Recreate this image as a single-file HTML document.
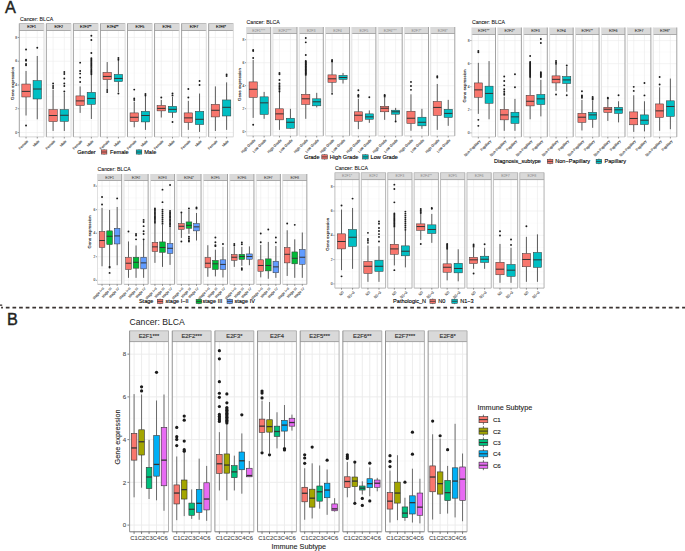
<!DOCTYPE html><html><head><meta charset="utf-8"><style>html,body{margin:0;padding:0;background:#fff;}svg{display:block;} text{font-family:"Liberation Sans", sans-serif;}</style></head><body>
<svg width="685" height="551" viewBox="0 0 685 551">
<rect x="0" y="0" width="685" height="551" fill="#fff"/>
<text x="5" y="13" font-size="16.3" fill="#231f20" text-anchor="start"  stroke="#231f20" stroke-width="0.4">A</text>
<text x="7" y="324.7" font-size="16.3" fill="#231f20" text-anchor="start"  stroke="#231f20" stroke-width="0.4">B</text>
<line x1="17.7" y1="132.5" x2="19.3" y2="132.5" stroke="#333333" stroke-width="0.5"/>
<text x="17.1" y="133.69" font-size="3.3" fill="#555555" text-anchor="end"  stroke="#555555" stroke-width="0.12">0</text>
<line x1="17.7" y1="108.74" x2="19.3" y2="108.74" stroke="#333333" stroke-width="0.5"/>
<text x="17.1" y="109.93" font-size="3.3" fill="#555555" text-anchor="end"  stroke="#555555" stroke-width="0.12">2</text>
<line x1="17.7" y1="84.98" x2="19.3" y2="84.98" stroke="#333333" stroke-width="0.5"/>
<text x="17.1" y="86.17" font-size="3.3" fill="#555555" text-anchor="end"  stroke="#555555" stroke-width="0.12">4</text>
<line x1="17.7" y1="61.22" x2="19.3" y2="61.22" stroke="#333333" stroke-width="0.5"/>
<text x="17.1" y="62.41" font-size="3.3" fill="#555555" text-anchor="end"  stroke="#555555" stroke-width="0.12">6</text>
<line x1="17.7" y1="37.46" x2="19.3" y2="37.46" stroke="#333333" stroke-width="0.5"/>
<text x="17.1" y="38.65" font-size="3.3" fill="#555555" text-anchor="end"  stroke="#555555" stroke-width="0.12">8</text>
<line x1="19.3" y1="120.62" x2="44" y2="120.62" stroke="#f4f4f4" stroke-width="0.35"/>
<line x1="19.3" y1="96.86" x2="44" y2="96.86" stroke="#f4f4f4" stroke-width="0.35"/>
<line x1="19.3" y1="73.1" x2="44" y2="73.1" stroke="#f4f4f4" stroke-width="0.35"/>
<line x1="19.3" y1="49.34" x2="44" y2="49.34" stroke="#f4f4f4" stroke-width="0.35"/>
<line x1="19.3" y1="132.5" x2="44" y2="132.5" stroke="#ebebeb" stroke-width="0.6"/>
<line x1="19.3" y1="108.74" x2="44" y2="108.74" stroke="#ebebeb" stroke-width="0.6"/>
<line x1="19.3" y1="84.98" x2="44" y2="84.98" stroke="#ebebeb" stroke-width="0.6"/>
<line x1="19.3" y1="61.22" x2="44" y2="61.22" stroke="#ebebeb" stroke-width="0.6"/>
<line x1="19.3" y1="37.46" x2="44" y2="37.46" stroke="#ebebeb" stroke-width="0.6"/>
<line x1="26.04" y1="30.5" x2="26.04" y2="136.9" stroke="#ebebeb" stroke-width="0.6"/>
<line x1="37.26" y1="30.5" x2="37.26" y2="136.9" stroke="#ebebeb" stroke-width="0.6"/>
<line x1="26.04" y1="70.96" x2="26.04" y2="84.03" stroke="#333333" stroke-width="0.8"/>
<line x1="26.04" y1="96.98" x2="26.04" y2="115.51" stroke="#333333" stroke-width="0.8"/>
<rect x="21.83" y="84.03" width="8.42" height="12.95" fill="#F8766D" stroke="#333333" stroke-width="0.5"/>
<line x1="21.83" y1="91.4" x2="30.25" y2="91.4" stroke="#333333" stroke-width="1"/>
<circle cx="26.04" cy="49.46" r="0.95" fill="#1a1a1a"/>
<circle cx="26.04" cy="59.68" r="0.95" fill="#1a1a1a"/>
<circle cx="26.04" cy="60.63" r="0.95" fill="#1a1a1a"/>
<circle cx="26.04" cy="64.07" r="0.95" fill="#1a1a1a"/>
<circle cx="26.04" cy="65.26" r="0.95" fill="#1a1a1a"/>
<circle cx="26.04" cy="125.49" r="0.95" fill="#1a1a1a"/>
<line x1="37.26" y1="55.99" x2="37.26" y2="80.58" stroke="#333333" stroke-width="0.8"/>
<line x1="37.26" y1="99" x2="37.26" y2="119.31" stroke="#333333" stroke-width="0.8"/>
<rect x="33.05" y="80.58" width="8.42" height="18.41" fill="#00BFC4" stroke="#333333" stroke-width="0.5"/>
<line x1="33.05" y1="89.02" x2="41.47" y2="89.02" stroke="#333333" stroke-width="1"/>
<circle cx="37.26" cy="47.68" r="0.95" fill="#1a1a1a"/>
<rect x="19.3" y="23.5" width="24.7" height="7" fill="#d9d9d9"/>
<line x1="19.3" y1="136.9" x2="44" y2="136.9" stroke="#d0d0d0" stroke-width="0.9"/>
<line x1="19.3" y1="23.5" x2="44" y2="23.5" stroke="#b0b0b0" stroke-width="0.8"/>
<line x1="19.3" y1="30.5" x2="44" y2="30.5" stroke="#999999" stroke-width="0.8"/>
<line x1="44" y1="23.5" x2="44" y2="136.9" stroke="#d8d8d8" stroke-width="0.9"/>
<line x1="19.3" y1="23.5" x2="19.3" y2="136.9" stroke="#999999" stroke-width="0.9"/>
<text x="31.65" y="28.3" font-size="3.6" fill="#1a1a1a" text-anchor="middle"  stroke="#1a1a1a" stroke-width="0.15">E2F1</text>
<line x1="26.04" y1="136.9" x2="26.04" y2="138.5" stroke="#333333" stroke-width="0.5"/>
<text x="28.44" y="141.5" font-size="3.6" fill="#4a4a4a" text-anchor="end" transform="rotate(-45 28.44 141.5)" stroke="#4a4a4a" stroke-width="0.12">Female</text>
<line x1="37.26" y1="136.9" x2="37.26" y2="138.5" stroke="#333333" stroke-width="0.5"/>
<text x="39.66" y="141.5" font-size="3.6" fill="#4a4a4a" text-anchor="end" transform="rotate(-45 39.66 141.5)" stroke="#4a4a4a" stroke-width="0.12">Male</text>
<line x1="46.35" y1="120.62" x2="71.05" y2="120.62" stroke="#f4f4f4" stroke-width="0.35"/>
<line x1="46.35" y1="96.86" x2="71.05" y2="96.86" stroke="#f4f4f4" stroke-width="0.35"/>
<line x1="46.35" y1="73.1" x2="71.05" y2="73.1" stroke="#f4f4f4" stroke-width="0.35"/>
<line x1="46.35" y1="49.34" x2="71.05" y2="49.34" stroke="#f4f4f4" stroke-width="0.35"/>
<line x1="46.35" y1="132.5" x2="71.05" y2="132.5" stroke="#ebebeb" stroke-width="0.6"/>
<line x1="46.35" y1="108.74" x2="71.05" y2="108.74" stroke="#ebebeb" stroke-width="0.6"/>
<line x1="46.35" y1="84.98" x2="71.05" y2="84.98" stroke="#ebebeb" stroke-width="0.6"/>
<line x1="46.35" y1="61.22" x2="71.05" y2="61.22" stroke="#ebebeb" stroke-width="0.6"/>
<line x1="46.35" y1="37.46" x2="71.05" y2="37.46" stroke="#ebebeb" stroke-width="0.6"/>
<line x1="53.09" y1="30.5" x2="53.09" y2="136.9" stroke="#ebebeb" stroke-width="0.6"/>
<line x1="64.31" y1="30.5" x2="64.31" y2="136.9" stroke="#ebebeb" stroke-width="0.6"/>
<line x1="53.09" y1="89.61" x2="53.09" y2="109.57" stroke="#333333" stroke-width="0.8"/>
<line x1="53.09" y1="121.57" x2="53.09" y2="130.96" stroke="#333333" stroke-width="0.8"/>
<rect x="48.88" y="109.57" width="8.42" height="12" fill="#F8766D" stroke="#333333" stroke-width="0.5"/>
<line x1="48.88" y1="115.51" x2="57.3" y2="115.51" stroke="#333333" stroke-width="1"/>
<circle cx="53.09" cy="83.55" r="0.95" fill="#1a1a1a"/>
<circle cx="53.09" cy="85.93" r="0.95" fill="#1a1a1a"/>
<circle cx="53.09" cy="87.95" r="0.95" fill="#1a1a1a"/>
<line x1="64.31" y1="92.94" x2="64.31" y2="109.57" stroke="#333333" stroke-width="0.8"/>
<line x1="64.31" y1="121.33" x2="64.31" y2="130.96" stroke="#333333" stroke-width="0.8"/>
<rect x="60.1" y="109.57" width="8.42" height="11.76" fill="#00BFC4" stroke="#333333" stroke-width="0.5"/>
<line x1="60.1" y1="115.27" x2="68.52" y2="115.27" stroke="#333333" stroke-width="1"/>
<circle cx="64.31" cy="72.03" r="0.95" fill="#1a1a1a"/>
<circle cx="64.31" cy="74.05" r="0.95" fill="#1a1a1a"/>
<circle cx="64.31" cy="78.45" r="0.95" fill="#1a1a1a"/>
<circle cx="64.31" cy="83.55" r="0.95" fill="#1a1a1a"/>
<circle cx="64.31" cy="85.93" r="0.95" fill="#1a1a1a"/>
<circle cx="64.31" cy="91.51" r="0.95" fill="#1a1a1a"/>
<rect x="46.35" y="23.5" width="24.7" height="7" fill="#d9d9d9"/>
<line x1="46.35" y1="136.9" x2="71.05" y2="136.9" stroke="#d0d0d0" stroke-width="0.9"/>
<line x1="46.35" y1="23.5" x2="71.05" y2="23.5" stroke="#b0b0b0" stroke-width="0.8"/>
<line x1="46.35" y1="30.5" x2="71.05" y2="30.5" stroke="#999999" stroke-width="0.8"/>
<line x1="71.05" y1="23.5" x2="71.05" y2="136.9" stroke="#d8d8d8" stroke-width="0.9"/>
<line x1="46.35" y1="23.5" x2="46.35" y2="136.9" stroke="#999999" stroke-width="0.9"/>
<text x="58.7" y="28.3" font-size="3.6" fill="#1a1a1a" text-anchor="middle"  stroke="#1a1a1a" stroke-width="0.15">E2F2</text>
<line x1="53.09" y1="136.9" x2="53.09" y2="138.5" stroke="#333333" stroke-width="0.5"/>
<text x="55.49" y="141.5" font-size="3.6" fill="#4a4a4a" text-anchor="end" transform="rotate(-45 55.49 141.5)" stroke="#4a4a4a" stroke-width="0.12">Female</text>
<line x1="64.31" y1="136.9" x2="64.31" y2="138.5" stroke="#333333" stroke-width="0.5"/>
<text x="66.71" y="141.5" font-size="3.6" fill="#4a4a4a" text-anchor="end" transform="rotate(-45 66.71 141.5)" stroke="#4a4a4a" stroke-width="0.12">Male</text>
<line x1="73.4" y1="120.62" x2="98.1" y2="120.62" stroke="#f4f4f4" stroke-width="0.35"/>
<line x1="73.4" y1="96.86" x2="98.1" y2="96.86" stroke="#f4f4f4" stroke-width="0.35"/>
<line x1="73.4" y1="73.1" x2="98.1" y2="73.1" stroke="#f4f4f4" stroke-width="0.35"/>
<line x1="73.4" y1="49.34" x2="98.1" y2="49.34" stroke="#f4f4f4" stroke-width="0.35"/>
<line x1="73.4" y1="132.5" x2="98.1" y2="132.5" stroke="#ebebeb" stroke-width="0.6"/>
<line x1="73.4" y1="108.74" x2="98.1" y2="108.74" stroke="#ebebeb" stroke-width="0.6"/>
<line x1="73.4" y1="84.98" x2="98.1" y2="84.98" stroke="#ebebeb" stroke-width="0.6"/>
<line x1="73.4" y1="61.22" x2="98.1" y2="61.22" stroke="#ebebeb" stroke-width="0.6"/>
<line x1="73.4" y1="37.46" x2="98.1" y2="37.46" stroke="#ebebeb" stroke-width="0.6"/>
<line x1="80.14" y1="30.5" x2="80.14" y2="136.9" stroke="#ebebeb" stroke-width="0.6"/>
<line x1="91.36" y1="30.5" x2="91.36" y2="136.9" stroke="#ebebeb" stroke-width="0.6"/>
<line x1="80.14" y1="86.41" x2="80.14" y2="95.91" stroke="#333333" stroke-width="0.8"/>
<line x1="80.14" y1="105.53" x2="80.14" y2="112.9" stroke="#333333" stroke-width="0.8"/>
<rect x="75.93" y="95.91" width="8.42" height="9.62" fill="#F8766D" stroke="#333333" stroke-width="0.5"/>
<line x1="75.93" y1="100.9" x2="84.35" y2="100.9" stroke="#333333" stroke-width="1"/>
<circle cx="80.14" cy="62.65" r="0.95" fill="#1a1a1a"/>
<circle cx="80.14" cy="70.96" r="0.95" fill="#1a1a1a"/>
<circle cx="80.14" cy="73.58" r="0.95" fill="#1a1a1a"/>
<circle cx="80.14" cy="77.61" r="0.95" fill="#1a1a1a"/>
<circle cx="80.14" cy="82.01" r="0.95" fill="#1a1a1a"/>
<line x1="91.36" y1="75" x2="91.36" y2="92.35" stroke="#333333" stroke-width="0.8"/>
<line x1="91.36" y1="104.34" x2="91.36" y2="118.96" stroke="#333333" stroke-width="0.8"/>
<rect x="87.15" y="92.35" width="8.42" height="12" fill="#00BFC4" stroke="#333333" stroke-width="0.5"/>
<line x1="87.15" y1="98.4" x2="95.57" y2="98.4" stroke="#333333" stroke-width="1"/>
<circle cx="91.36" cy="74.29" r="0.95" fill="#1a1a1a"/>
<circle cx="91.36" cy="73.05" r="0.95" fill="#1a1a1a"/>
<circle cx="91.36" cy="71.82" r="0.95" fill="#1a1a1a"/>
<circle cx="91.36" cy="70.59" r="0.95" fill="#1a1a1a"/>
<circle cx="91.36" cy="69.35" r="0.95" fill="#1a1a1a"/>
<circle cx="91.36" cy="68.12" r="0.95" fill="#1a1a1a"/>
<circle cx="91.36" cy="66.89" r="0.95" fill="#1a1a1a"/>
<circle cx="91.36" cy="65.65" r="0.95" fill="#1a1a1a"/>
<circle cx="91.36" cy="64.42" r="0.95" fill="#1a1a1a"/>
<circle cx="91.36" cy="63.18" r="0.95" fill="#1a1a1a"/>
<circle cx="91.36" cy="61.95" r="0.95" fill="#1a1a1a"/>
<circle cx="91.36" cy="60.72" r="0.95" fill="#1a1a1a"/>
<circle cx="91.36" cy="59.48" r="0.95" fill="#1a1a1a"/>
<circle cx="91.36" cy="58.25" r="0.95" fill="#1a1a1a"/>
<circle cx="91.36" cy="53.02" r="0.95" fill="#1a1a1a"/>
<circle cx="91.36" cy="40.07" r="0.95" fill="#1a1a1a"/>
<circle cx="91.36" cy="35.68" r="0.95" fill="#1a1a1a"/>
<rect x="73.4" y="23.5" width="24.7" height="7" fill="#d9d9d9"/>
<line x1="73.4" y1="136.9" x2="98.1" y2="136.9" stroke="#d0d0d0" stroke-width="0.9"/>
<line x1="73.4" y1="23.5" x2="98.1" y2="23.5" stroke="#b0b0b0" stroke-width="0.8"/>
<line x1="73.4" y1="30.5" x2="98.1" y2="30.5" stroke="#999999" stroke-width="0.8"/>
<line x1="98.1" y1="23.5" x2="98.1" y2="136.9" stroke="#d8d8d8" stroke-width="0.9"/>
<line x1="73.4" y1="23.5" x2="73.4" y2="136.9" stroke="#999999" stroke-width="0.9"/>
<text x="85.75" y="28.3" font-size="3.6" fill="#1a1a1a" text-anchor="middle"  stroke="#1a1a1a" stroke-width="0.15">E2F3**</text>
<line x1="80.14" y1="136.9" x2="80.14" y2="138.5" stroke="#333333" stroke-width="0.5"/>
<text x="82.54" y="141.5" font-size="3.6" fill="#4a4a4a" text-anchor="end" transform="rotate(-45 82.54 141.5)" stroke="#4a4a4a" stroke-width="0.12">Female</text>
<line x1="91.36" y1="136.9" x2="91.36" y2="138.5" stroke="#333333" stroke-width="0.5"/>
<text x="93.76" y="141.5" font-size="3.6" fill="#4a4a4a" text-anchor="end" transform="rotate(-45 93.76 141.5)" stroke="#4a4a4a" stroke-width="0.12">Male</text>
<line x1="100.45" y1="120.62" x2="125.15" y2="120.62" stroke="#f4f4f4" stroke-width="0.35"/>
<line x1="100.45" y1="96.86" x2="125.15" y2="96.86" stroke="#f4f4f4" stroke-width="0.35"/>
<line x1="100.45" y1="73.1" x2="125.15" y2="73.1" stroke="#f4f4f4" stroke-width="0.35"/>
<line x1="100.45" y1="49.34" x2="125.15" y2="49.34" stroke="#f4f4f4" stroke-width="0.35"/>
<line x1="100.45" y1="132.5" x2="125.15" y2="132.5" stroke="#ebebeb" stroke-width="0.6"/>
<line x1="100.45" y1="108.74" x2="125.15" y2="108.74" stroke="#ebebeb" stroke-width="0.6"/>
<line x1="100.45" y1="84.98" x2="125.15" y2="84.98" stroke="#ebebeb" stroke-width="0.6"/>
<line x1="100.45" y1="61.22" x2="125.15" y2="61.22" stroke="#ebebeb" stroke-width="0.6"/>
<line x1="100.45" y1="37.46" x2="125.15" y2="37.46" stroke="#ebebeb" stroke-width="0.6"/>
<line x1="107.19" y1="30.5" x2="107.19" y2="136.9" stroke="#ebebeb" stroke-width="0.6"/>
<line x1="118.41" y1="30.5" x2="118.41" y2="136.9" stroke="#ebebeb" stroke-width="0.6"/>
<line x1="107.19" y1="62.05" x2="107.19" y2="72.39" stroke="#333333" stroke-width="0.8"/>
<line x1="107.19" y1="79.63" x2="107.19" y2="89.02" stroke="#333333" stroke-width="0.8"/>
<rect x="102.98" y="72.39" width="8.42" height="7.25" fill="#F8766D" stroke="#333333" stroke-width="0.5"/>
<line x1="102.98" y1="76.43" x2="111.4" y2="76.43" stroke="#333333" stroke-width="1"/>
<circle cx="107.19" cy="89.97" r="0.95" fill="#1a1a1a"/>
<circle cx="107.19" cy="91.99" r="0.95" fill="#1a1a1a"/>
<line x1="118.41" y1="60.03" x2="118.41" y2="74.41" stroke="#333333" stroke-width="0.8"/>
<line x1="118.41" y1="81.53" x2="118.41" y2="91.99" stroke="#333333" stroke-width="0.8"/>
<rect x="114.2" y="74.41" width="8.42" height="7.13" fill="#00BFC4" stroke="#333333" stroke-width="0.5"/>
<line x1="114.2" y1="78.45" x2="122.62" y2="78.45" stroke="#333333" stroke-width="1"/>
<circle cx="118.41" cy="58.01" r="0.95" fill="#1a1a1a"/>
<circle cx="118.41" cy="59.68" r="0.95" fill="#1a1a1a"/>
<circle cx="118.41" cy="93.53" r="0.95" fill="#1a1a1a"/>
<rect x="100.45" y="23.5" width="24.7" height="7" fill="#d9d9d9"/>
<line x1="100.45" y1="136.9" x2="125.15" y2="136.9" stroke="#d0d0d0" stroke-width="0.9"/>
<line x1="100.45" y1="23.5" x2="125.15" y2="23.5" stroke="#b0b0b0" stroke-width="0.8"/>
<line x1="100.45" y1="30.5" x2="125.15" y2="30.5" stroke="#999999" stroke-width="0.8"/>
<line x1="125.15" y1="23.5" x2="125.15" y2="136.9" stroke="#d8d8d8" stroke-width="0.9"/>
<line x1="100.45" y1="23.5" x2="100.45" y2="136.9" stroke="#999999" stroke-width="0.9"/>
<text x="112.8" y="28.3" font-size="3.6" fill="#1a1a1a" text-anchor="middle"  stroke="#1a1a1a" stroke-width="0.15">E2F4**</text>
<line x1="107.19" y1="136.9" x2="107.19" y2="138.5" stroke="#333333" stroke-width="0.5"/>
<text x="109.59" y="141.5" font-size="3.6" fill="#4a4a4a" text-anchor="end" transform="rotate(-45 109.59 141.5)" stroke="#4a4a4a" stroke-width="0.12">Female</text>
<line x1="118.41" y1="136.9" x2="118.41" y2="138.5" stroke="#333333" stroke-width="0.5"/>
<text x="120.81" y="141.5" font-size="3.6" fill="#4a4a4a" text-anchor="end" transform="rotate(-45 120.81 141.5)" stroke="#4a4a4a" stroke-width="0.12">Male</text>
<line x1="127.5" y1="120.62" x2="152.2" y2="120.62" stroke="#f4f4f4" stroke-width="0.35"/>
<line x1="127.5" y1="96.86" x2="152.2" y2="96.86" stroke="#f4f4f4" stroke-width="0.35"/>
<line x1="127.5" y1="73.1" x2="152.2" y2="73.1" stroke="#f4f4f4" stroke-width="0.35"/>
<line x1="127.5" y1="49.34" x2="152.2" y2="49.34" stroke="#f4f4f4" stroke-width="0.35"/>
<line x1="127.5" y1="132.5" x2="152.2" y2="132.5" stroke="#ebebeb" stroke-width="0.6"/>
<line x1="127.5" y1="108.74" x2="152.2" y2="108.74" stroke="#ebebeb" stroke-width="0.6"/>
<line x1="127.5" y1="84.98" x2="152.2" y2="84.98" stroke="#ebebeb" stroke-width="0.6"/>
<line x1="127.5" y1="61.22" x2="152.2" y2="61.22" stroke="#ebebeb" stroke-width="0.6"/>
<line x1="127.5" y1="37.46" x2="152.2" y2="37.46" stroke="#ebebeb" stroke-width="0.6"/>
<line x1="134.24" y1="30.5" x2="134.24" y2="136.9" stroke="#ebebeb" stroke-width="0.6"/>
<line x1="145.46" y1="30.5" x2="145.46" y2="136.9" stroke="#ebebeb" stroke-width="0.6"/>
<line x1="134.24" y1="101.61" x2="134.24" y2="112.9" stroke="#333333" stroke-width="0.8"/>
<line x1="134.24" y1="121.57" x2="134.24" y2="127.27" stroke="#333333" stroke-width="0.8"/>
<rect x="130.03" y="112.9" width="8.42" height="8.67" fill="#F8766D" stroke="#333333" stroke-width="0.5"/>
<line x1="130.03" y1="117.29" x2="138.45" y2="117.29" stroke="#333333" stroke-width="1"/>
<circle cx="134.24" cy="89.61" r="0.95" fill="#1a1a1a"/>
<circle cx="134.24" cy="98.4" r="0.95" fill="#1a1a1a"/>
<circle cx="134.24" cy="99.95" r="0.95" fill="#1a1a1a"/>
<line x1="145.46" y1="94.01" x2="145.46" y2="111.35" stroke="#333333" stroke-width="0.8"/>
<line x1="145.46" y1="121.93" x2="145.46" y2="129.89" stroke="#333333" stroke-width="0.8"/>
<rect x="141.25" y="111.35" width="8.42" height="10.57" fill="#00BFC4" stroke="#333333" stroke-width="0.5"/>
<line x1="141.25" y1="115.51" x2="149.67" y2="115.51" stroke="#333333" stroke-width="1"/>
<circle cx="145.46" cy="94.01" r="0.95" fill="#1a1a1a"/>
<circle cx="145.46" cy="95.55" r="0.95" fill="#1a1a1a"/>
<rect x="127.5" y="23.5" width="24.7" height="7" fill="#d9d9d9"/>
<line x1="127.5" y1="136.9" x2="152.2" y2="136.9" stroke="#d0d0d0" stroke-width="0.9"/>
<line x1="127.5" y1="23.5" x2="152.2" y2="23.5" stroke="#b0b0b0" stroke-width="0.8"/>
<line x1="127.5" y1="30.5" x2="152.2" y2="30.5" stroke="#999999" stroke-width="0.8"/>
<line x1="152.2" y1="23.5" x2="152.2" y2="136.9" stroke="#d8d8d8" stroke-width="0.9"/>
<line x1="127.5" y1="23.5" x2="127.5" y2="136.9" stroke="#999999" stroke-width="0.9"/>
<text x="139.85" y="28.3" font-size="3.6" fill="#1a1a1a" text-anchor="middle"  stroke="#1a1a1a" stroke-width="0.15">E2F5</text>
<line x1="134.24" y1="136.9" x2="134.24" y2="138.5" stroke="#333333" stroke-width="0.5"/>
<text x="136.64" y="141.5" font-size="3.6" fill="#4a4a4a" text-anchor="end" transform="rotate(-45 136.64 141.5)" stroke="#4a4a4a" stroke-width="0.12">Female</text>
<line x1="145.46" y1="136.9" x2="145.46" y2="138.5" stroke="#333333" stroke-width="0.5"/>
<text x="147.86" y="141.5" font-size="3.6" fill="#4a4a4a" text-anchor="end" transform="rotate(-45 147.86 141.5)" stroke="#4a4a4a" stroke-width="0.12">Male</text>
<line x1="154.55" y1="120.62" x2="179.25" y2="120.62" stroke="#f4f4f4" stroke-width="0.35"/>
<line x1="154.55" y1="96.86" x2="179.25" y2="96.86" stroke="#f4f4f4" stroke-width="0.35"/>
<line x1="154.55" y1="73.1" x2="179.25" y2="73.1" stroke="#f4f4f4" stroke-width="0.35"/>
<line x1="154.55" y1="49.34" x2="179.25" y2="49.34" stroke="#f4f4f4" stroke-width="0.35"/>
<line x1="154.55" y1="132.5" x2="179.25" y2="132.5" stroke="#ebebeb" stroke-width="0.6"/>
<line x1="154.55" y1="108.74" x2="179.25" y2="108.74" stroke="#ebebeb" stroke-width="0.6"/>
<line x1="154.55" y1="84.98" x2="179.25" y2="84.98" stroke="#ebebeb" stroke-width="0.6"/>
<line x1="154.55" y1="61.22" x2="179.25" y2="61.22" stroke="#ebebeb" stroke-width="0.6"/>
<line x1="154.55" y1="37.46" x2="179.25" y2="37.46" stroke="#ebebeb" stroke-width="0.6"/>
<line x1="161.29" y1="30.5" x2="161.29" y2="136.9" stroke="#ebebeb" stroke-width="0.6"/>
<line x1="172.51" y1="30.5" x2="172.51" y2="136.9" stroke="#ebebeb" stroke-width="0.6"/>
<line x1="161.29" y1="99.95" x2="161.29" y2="105.53" stroke="#333333" stroke-width="0.8"/>
<line x1="161.29" y1="110.88" x2="161.29" y2="117.53" stroke="#333333" stroke-width="0.8"/>
<rect x="157.08" y="105.53" width="8.42" height="5.35" fill="#F8766D" stroke="#333333" stroke-width="0.5"/>
<line x1="157.08" y1="108.38" x2="165.5" y2="108.38" stroke="#333333" stroke-width="1"/>
<circle cx="161.29" cy="97.57" r="0.95" fill="#1a1a1a"/>
<line x1="172.51" y1="96.98" x2="172.51" y2="106.36" stroke="#333333" stroke-width="0.8"/>
<line x1="172.51" y1="112.3" x2="172.51" y2="117.89" stroke="#333333" stroke-width="0.8"/>
<rect x="168.3" y="106.36" width="8.42" height="5.94" fill="#00BFC4" stroke="#333333" stroke-width="0.5"/>
<line x1="168.3" y1="109.33" x2="176.72" y2="109.33" stroke="#333333" stroke-width="1"/>
<circle cx="172.51" cy="93.53" r="0.95" fill="#1a1a1a"/>
<circle cx="172.51" cy="95.55" r="0.95" fill="#1a1a1a"/>
<circle cx="172.51" cy="121.93" r="0.95" fill="#1a1a1a"/>
<rect x="154.55" y="23.5" width="24.7" height="7" fill="#d9d9d9"/>
<line x1="154.55" y1="136.9" x2="179.25" y2="136.9" stroke="#d0d0d0" stroke-width="0.9"/>
<line x1="154.55" y1="23.5" x2="179.25" y2="23.5" stroke="#b0b0b0" stroke-width="0.8"/>
<line x1="154.55" y1="30.5" x2="179.25" y2="30.5" stroke="#999999" stroke-width="0.8"/>
<line x1="179.25" y1="23.5" x2="179.25" y2="136.9" stroke="#d8d8d8" stroke-width="0.9"/>
<line x1="154.55" y1="23.5" x2="154.55" y2="136.9" stroke="#999999" stroke-width="0.9"/>
<text x="166.9" y="28.3" font-size="3.6" fill="#1a1a1a" text-anchor="middle"  stroke="#1a1a1a" stroke-width="0.15">E2F6</text>
<line x1="161.29" y1="136.9" x2="161.29" y2="138.5" stroke="#333333" stroke-width="0.5"/>
<text x="163.69" y="141.5" font-size="3.6" fill="#4a4a4a" text-anchor="end" transform="rotate(-45 163.69 141.5)" stroke="#4a4a4a" stroke-width="0.12">Female</text>
<line x1="172.51" y1="136.9" x2="172.51" y2="138.5" stroke="#333333" stroke-width="0.5"/>
<text x="174.91" y="141.5" font-size="3.6" fill="#4a4a4a" text-anchor="end" transform="rotate(-45 174.91 141.5)" stroke="#4a4a4a" stroke-width="0.12">Male</text>
<line x1="181.6" y1="120.62" x2="206.3" y2="120.62" stroke="#f4f4f4" stroke-width="0.35"/>
<line x1="181.6" y1="96.86" x2="206.3" y2="96.86" stroke="#f4f4f4" stroke-width="0.35"/>
<line x1="181.6" y1="73.1" x2="206.3" y2="73.1" stroke="#f4f4f4" stroke-width="0.35"/>
<line x1="181.6" y1="49.34" x2="206.3" y2="49.34" stroke="#f4f4f4" stroke-width="0.35"/>
<line x1="181.6" y1="132.5" x2="206.3" y2="132.5" stroke="#ebebeb" stroke-width="0.6"/>
<line x1="181.6" y1="108.74" x2="206.3" y2="108.74" stroke="#ebebeb" stroke-width="0.6"/>
<line x1="181.6" y1="84.98" x2="206.3" y2="84.98" stroke="#ebebeb" stroke-width="0.6"/>
<line x1="181.6" y1="61.22" x2="206.3" y2="61.22" stroke="#ebebeb" stroke-width="0.6"/>
<line x1="181.6" y1="37.46" x2="206.3" y2="37.46" stroke="#ebebeb" stroke-width="0.6"/>
<line x1="188.34" y1="30.5" x2="188.34" y2="136.9" stroke="#ebebeb" stroke-width="0.6"/>
<line x1="199.56" y1="30.5" x2="199.56" y2="136.9" stroke="#ebebeb" stroke-width="0.6"/>
<line x1="188.34" y1="100.9" x2="188.34" y2="112.9" stroke="#333333" stroke-width="0.8"/>
<line x1="188.34" y1="122.52" x2="188.34" y2="129.89" stroke="#333333" stroke-width="0.8"/>
<rect x="184.13" y="112.9" width="8.42" height="9.62" fill="#F8766D" stroke="#333333" stroke-width="0.5"/>
<line x1="184.13" y1="117.89" x2="192.55" y2="117.89" stroke="#333333" stroke-width="1"/>
<circle cx="188.34" cy="89.02" r="0.95" fill="#1a1a1a"/>
<circle cx="188.34" cy="97.57" r="0.95" fill="#1a1a1a"/>
<line x1="199.56" y1="93.53" x2="199.56" y2="111.35" stroke="#333333" stroke-width="0.8"/>
<line x1="199.56" y1="124.54" x2="199.56" y2="131.91" stroke="#333333" stroke-width="0.8"/>
<rect x="195.35" y="111.35" width="8.42" height="13.19" fill="#00BFC4" stroke="#333333" stroke-width="0.5"/>
<line x1="195.35" y1="119.31" x2="203.77" y2="119.31" stroke="#333333" stroke-width="1"/>
<circle cx="199.56" cy="80.94" r="0.95" fill="#1a1a1a"/>
<circle cx="199.56" cy="84.98" r="0.95" fill="#1a1a1a"/>
<rect x="181.6" y="23.5" width="24.7" height="7" fill="#d9d9d9"/>
<line x1="181.6" y1="136.9" x2="206.3" y2="136.9" stroke="#d0d0d0" stroke-width="0.9"/>
<line x1="181.6" y1="23.5" x2="206.3" y2="23.5" stroke="#b0b0b0" stroke-width="0.8"/>
<line x1="181.6" y1="30.5" x2="206.3" y2="30.5" stroke="#999999" stroke-width="0.8"/>
<line x1="206.3" y1="23.5" x2="206.3" y2="136.9" stroke="#d8d8d8" stroke-width="0.9"/>
<line x1="181.6" y1="23.5" x2="181.6" y2="136.9" stroke="#999999" stroke-width="0.9"/>
<text x="193.95" y="28.3" font-size="3.6" fill="#1a1a1a" text-anchor="middle"  stroke="#1a1a1a" stroke-width="0.15">E2F7</text>
<line x1="188.34" y1="136.9" x2="188.34" y2="138.5" stroke="#333333" stroke-width="0.5"/>
<text x="190.74" y="141.5" font-size="3.6" fill="#4a4a4a" text-anchor="end" transform="rotate(-45 190.74 141.5)" stroke="#4a4a4a" stroke-width="0.12">Female</text>
<line x1="199.56" y1="136.9" x2="199.56" y2="138.5" stroke="#333333" stroke-width="0.5"/>
<text x="201.96" y="141.5" font-size="3.6" fill="#4a4a4a" text-anchor="end" transform="rotate(-45 201.96 141.5)" stroke="#4a4a4a" stroke-width="0.12">Male</text>
<line x1="208.65" y1="120.62" x2="233.35" y2="120.62" stroke="#f4f4f4" stroke-width="0.35"/>
<line x1="208.65" y1="96.86" x2="233.35" y2="96.86" stroke="#f4f4f4" stroke-width="0.35"/>
<line x1="208.65" y1="73.1" x2="233.35" y2="73.1" stroke="#f4f4f4" stroke-width="0.35"/>
<line x1="208.65" y1="49.34" x2="233.35" y2="49.34" stroke="#f4f4f4" stroke-width="0.35"/>
<line x1="208.65" y1="132.5" x2="233.35" y2="132.5" stroke="#ebebeb" stroke-width="0.6"/>
<line x1="208.65" y1="108.74" x2="233.35" y2="108.74" stroke="#ebebeb" stroke-width="0.6"/>
<line x1="208.65" y1="84.98" x2="233.35" y2="84.98" stroke="#ebebeb" stroke-width="0.6"/>
<line x1="208.65" y1="61.22" x2="233.35" y2="61.22" stroke="#ebebeb" stroke-width="0.6"/>
<line x1="208.65" y1="37.46" x2="233.35" y2="37.46" stroke="#ebebeb" stroke-width="0.6"/>
<line x1="215.39" y1="30.5" x2="215.39" y2="136.9" stroke="#ebebeb" stroke-width="0.6"/>
<line x1="226.61" y1="30.5" x2="226.61" y2="136.9" stroke="#ebebeb" stroke-width="0.6"/>
<line x1="215.39" y1="86.41" x2="215.39" y2="104.34" stroke="#333333" stroke-width="0.8"/>
<line x1="215.39" y1="116.94" x2="215.39" y2="130.96" stroke="#333333" stroke-width="0.8"/>
<rect x="211.18" y="104.34" width="8.42" height="12.59" fill="#F8766D" stroke="#333333" stroke-width="0.5"/>
<line x1="211.18" y1="110.28" x2="219.6" y2="110.28" stroke="#333333" stroke-width="1"/>
<line x1="226.61" y1="82.37" x2="226.61" y2="99.95" stroke="#333333" stroke-width="0.8"/>
<line x1="226.61" y1="115.99" x2="226.61" y2="129.89" stroke="#333333" stroke-width="0.8"/>
<rect x="222.4" y="99.95" width="8.42" height="16.04" fill="#00BFC4" stroke="#333333" stroke-width="0.5"/>
<line x1="222.4" y1="107.31" x2="230.82" y2="107.31" stroke="#333333" stroke-width="1"/>
<circle cx="226.61" cy="74.41" r="0.95" fill="#1a1a1a"/>
<circle cx="226.61" cy="75.95" r="0.95" fill="#1a1a1a"/>
<rect x="208.65" y="23.5" width="24.7" height="7" fill="#d9d9d9"/>
<line x1="208.65" y1="136.9" x2="233.35" y2="136.9" stroke="#d0d0d0" stroke-width="0.9"/>
<line x1="208.65" y1="23.5" x2="233.35" y2="23.5" stroke="#b0b0b0" stroke-width="0.8"/>
<line x1="208.65" y1="30.5" x2="233.35" y2="30.5" stroke="#999999" stroke-width="0.8"/>
<line x1="233.35" y1="23.5" x2="233.35" y2="136.9" stroke="#d8d8d8" stroke-width="0.9"/>
<line x1="208.65" y1="23.5" x2="208.65" y2="136.9" stroke="#999999" stroke-width="0.9"/>
<text x="221" y="28.3" font-size="3.6" fill="#1a1a1a" text-anchor="middle"  stroke="#1a1a1a" stroke-width="0.15">E2F8*</text>
<line x1="215.39" y1="136.9" x2="215.39" y2="138.5" stroke="#333333" stroke-width="0.5"/>
<text x="217.79" y="141.5" font-size="3.6" fill="#4a4a4a" text-anchor="end" transform="rotate(-45 217.79 141.5)" stroke="#4a4a4a" stroke-width="0.12">Female</text>
<line x1="226.61" y1="136.9" x2="226.61" y2="138.5" stroke="#333333" stroke-width="0.5"/>
<text x="229.01" y="141.5" font-size="3.6" fill="#4a4a4a" text-anchor="end" transform="rotate(-45 229.01 141.5)" stroke="#4a4a4a" stroke-width="0.12">Male</text>
<text x="20" y="21" font-size="5.2" fill="#111" text-anchor="start"  stroke="#111" stroke-width="0.08">Cancer: BLCA</text>
<text x="12.4" y="83.4" font-size="4.37" fill="#222" text-anchor="middle" transform="rotate(-90 12.4 83.4)" dominant-baseline="central" stroke="#222" stroke-width="0.12">Gene expression</text>
<text x="77.2" y="154" font-size="5.55" fill="#000" text-anchor="start"  stroke="#000" stroke-width="0.12">Gender</text>
<line x1="104.1" y1="149.1" x2="104.1" y2="154.9" stroke="#333333" stroke-width="0.5"/>
<rect x="101.3" y="149.9" width="5.6" height="4.2" fill="#F8766D" stroke="#333333" stroke-width="0.5"/>
<line x1="101.3" y1="152" x2="106.9" y2="152" stroke="#333333" stroke-width="0.8"/>
<text x="110" y="154.02" font-size="5.6" fill="#000" text-anchor="start"  stroke="#000" stroke-width="0.12">Female</text>
<line x1="139" y1="149.1" x2="139" y2="154.9" stroke="#333333" stroke-width="0.5"/>
<rect x="136.2" y="149.9" width="5.6" height="4.2" fill="#00BFC4" stroke="#333333" stroke-width="0.5"/>
<line x1="136.2" y1="152" x2="141.8" y2="152" stroke="#333333" stroke-width="0.8"/>
<text x="144.2" y="154.02" font-size="5.6" fill="#000" text-anchor="start"  stroke="#000" stroke-width="0.12">Male</text>
<line x1="245" y1="131.7" x2="246.6" y2="131.7" stroke="#333333" stroke-width="0.5"/>
<text x="244.4" y="132.89" font-size="3.3" fill="#555555" text-anchor="end"  stroke="#555555" stroke-width="0.12">0</text>
<line x1="245" y1="108.7" x2="246.6" y2="108.7" stroke="#333333" stroke-width="0.5"/>
<text x="244.4" y="109.89" font-size="3.3" fill="#555555" text-anchor="end"  stroke="#555555" stroke-width="0.12">2</text>
<line x1="245" y1="85.7" x2="246.6" y2="85.7" stroke="#333333" stroke-width="0.5"/>
<text x="244.4" y="86.89" font-size="3.3" fill="#555555" text-anchor="end"  stroke="#555555" stroke-width="0.12">4</text>
<line x1="245" y1="62.7" x2="246.6" y2="62.7" stroke="#333333" stroke-width="0.5"/>
<text x="244.4" y="63.89" font-size="3.3" fill="#555555" text-anchor="end"  stroke="#555555" stroke-width="0.12">6</text>
<line x1="245" y1="39.7" x2="246.6" y2="39.7" stroke="#333333" stroke-width="0.5"/>
<text x="244.4" y="40.89" font-size="3.3" fill="#555555" text-anchor="end"  stroke="#555555" stroke-width="0.12">8</text>
<line x1="246.6" y1="120.2" x2="270.7" y2="120.2" stroke="#f4f4f4" stroke-width="0.35"/>
<line x1="246.6" y1="97.2" x2="270.7" y2="97.2" stroke="#f4f4f4" stroke-width="0.35"/>
<line x1="246.6" y1="74.2" x2="270.7" y2="74.2" stroke="#f4f4f4" stroke-width="0.35"/>
<line x1="246.6" y1="51.2" x2="270.7" y2="51.2" stroke="#f4f4f4" stroke-width="0.35"/>
<line x1="246.6" y1="131.7" x2="270.7" y2="131.7" stroke="#ebebeb" stroke-width="0.6"/>
<line x1="246.6" y1="108.7" x2="270.7" y2="108.7" stroke="#ebebeb" stroke-width="0.6"/>
<line x1="246.6" y1="85.7" x2="270.7" y2="85.7" stroke="#ebebeb" stroke-width="0.6"/>
<line x1="246.6" y1="62.7" x2="270.7" y2="62.7" stroke="#ebebeb" stroke-width="0.6"/>
<line x1="246.6" y1="39.7" x2="270.7" y2="39.7" stroke="#ebebeb" stroke-width="0.6"/>
<line x1="253.17" y1="33.5" x2="253.17" y2="135.9" stroke="#ebebeb" stroke-width="0.6"/>
<line x1="264.13" y1="33.5" x2="264.13" y2="135.9" stroke="#ebebeb" stroke-width="0.6"/>
<line x1="253.17" y1="59.94" x2="253.17" y2="81.9" stroke="#333333" stroke-width="0.8"/>
<line x1="253.17" y1="97.43" x2="253.17" y2="117.9" stroke="#333333" stroke-width="0.8"/>
<rect x="249.06" y="81.9" width="8.22" height="15.52" fill="#F8766D" stroke="#333333" stroke-width="0.5"/>
<line x1="249.06" y1="89.26" x2="257.28" y2="89.26" stroke="#333333" stroke-width="1"/>
<circle cx="253.17" cy="49.93" r="0.95" fill="#1a1a1a"/>
<circle cx="253.17" cy="50.97" r="0.95" fill="#1a1a1a"/>
<circle cx="253.17" cy="57.98" r="0.95" fill="#1a1a1a"/>
<circle cx="253.17" cy="124.8" r="0.95" fill="#1a1a1a"/>
<line x1="264.13" y1="91.91" x2="264.13" y2="96.85" stroke="#333333" stroke-width="0.8"/>
<line x1="264.13" y1="114.45" x2="264.13" y2="118.82" stroke="#333333" stroke-width="0.8"/>
<rect x="260.02" y="96.85" width="8.22" height="17.59" fill="#00BFC4" stroke="#333333" stroke-width="0.5"/>
<line x1="260.02" y1="102.83" x2="268.24" y2="102.83" stroke="#333333" stroke-width="1"/>
<rect x="246.6" y="27" width="24.1" height="6.5" fill="#d9d9d9"/>
<line x1="246.6" y1="135.9" x2="270.7" y2="135.9" stroke="#cccccc" stroke-width="0.9"/>
<line x1="246.6" y1="33.5" x2="270.7" y2="33.5" stroke="#999999" stroke-width="0.8"/>
<line x1="270.7" y1="27" x2="270.7" y2="135.9" stroke="#999999" stroke-width="0.9"/>
<line x1="246.6" y1="27" x2="246.6" y2="135.9" stroke="#dddddd" stroke-width="0.9"/>
<text x="258.65" y="31.55" font-size="3.6" fill="#888888" text-anchor="middle" >E2F1***</text>
<line x1="253.17" y1="135.9" x2="253.17" y2="137.5" stroke="#333333" stroke-width="0.5"/>
<text x="255.57" y="140.5" font-size="3.6" fill="#4a4a4a" text-anchor="end" transform="rotate(-45 255.57 140.5)" stroke="#4a4a4a" stroke-width="0.12">High Grade</text>
<line x1="264.13" y1="135.9" x2="264.13" y2="137.5" stroke="#333333" stroke-width="0.5"/>
<text x="266.53" y="140.5" font-size="3.6" fill="#4a4a4a" text-anchor="end" transform="rotate(-45 266.53 140.5)" stroke="#4a4a4a" stroke-width="0.12">Low Grade</text>
<line x1="272.9" y1="120.2" x2="297" y2="120.2" stroke="#f4f4f4" stroke-width="0.35"/>
<line x1="272.9" y1="97.2" x2="297" y2="97.2" stroke="#f4f4f4" stroke-width="0.35"/>
<line x1="272.9" y1="74.2" x2="297" y2="74.2" stroke="#f4f4f4" stroke-width="0.35"/>
<line x1="272.9" y1="51.2" x2="297" y2="51.2" stroke="#f4f4f4" stroke-width="0.35"/>
<line x1="272.9" y1="131.7" x2="297" y2="131.7" stroke="#ebebeb" stroke-width="0.6"/>
<line x1="272.9" y1="108.7" x2="297" y2="108.7" stroke="#ebebeb" stroke-width="0.6"/>
<line x1="272.9" y1="85.7" x2="297" y2="85.7" stroke="#ebebeb" stroke-width="0.6"/>
<line x1="272.9" y1="62.7" x2="297" y2="62.7" stroke="#ebebeb" stroke-width="0.6"/>
<line x1="272.9" y1="39.7" x2="297" y2="39.7" stroke="#ebebeb" stroke-width="0.6"/>
<line x1="279.47" y1="33.5" x2="279.47" y2="135.9" stroke="#ebebeb" stroke-width="0.6"/>
<line x1="290.43" y1="33.5" x2="290.43" y2="135.9" stroke="#ebebeb" stroke-width="0.6"/>
<line x1="279.47" y1="91.91" x2="279.47" y2="108.81" stroke="#333333" stroke-width="0.8"/>
<line x1="279.47" y1="119.85" x2="279.47" y2="129.86" stroke="#333333" stroke-width="0.8"/>
<rect x="275.36" y="108.81" width="8.22" height="11.04" fill="#F8766D" stroke="#333333" stroke-width="0.5"/>
<line x1="275.36" y1="113.87" x2="283.58" y2="113.87" stroke="#333333" stroke-width="1"/>
<circle cx="279.47" cy="72.93" r="0.95" fill="#1a1a1a"/>
<circle cx="279.47" cy="74.31" r="0.95" fill="#1a1a1a"/>
<circle cx="279.47" cy="79.95" r="0.95" fill="#1a1a1a"/>
<circle cx="279.47" cy="91.45" r="0.95" fill="#1a1a1a"/>
<circle cx="279.47" cy="89.86" r="0.95" fill="#1a1a1a"/>
<circle cx="279.47" cy="88.28" r="0.95" fill="#1a1a1a"/>
<circle cx="279.47" cy="86.69" r="0.95" fill="#1a1a1a"/>
<circle cx="279.47" cy="85.1" r="0.95" fill="#1a1a1a"/>
<circle cx="279.47" cy="83.51" r="0.95" fill="#1a1a1a"/>
<line x1="290.43" y1="108.81" x2="290.43" y2="118.24" stroke="#333333" stroke-width="0.8"/>
<line x1="290.43" y1="128.25" x2="290.43" y2="128.82" stroke="#333333" stroke-width="0.8"/>
<rect x="286.32" y="118.24" width="8.22" height="10.01" fill="#00BFC4" stroke="#333333" stroke-width="0.5"/>
<line x1="286.32" y1="122.27" x2="294.54" y2="122.27" stroke="#333333" stroke-width="1"/>
<rect x="272.9" y="27" width="24.1" height="6.5" fill="#d9d9d9"/>
<line x1="272.9" y1="135.9" x2="297" y2="135.9" stroke="#cccccc" stroke-width="0.9"/>
<line x1="272.9" y1="33.5" x2="297" y2="33.5" stroke="#999999" stroke-width="0.8"/>
<line x1="297" y1="27" x2="297" y2="135.9" stroke="#999999" stroke-width="0.9"/>
<line x1="272.9" y1="27" x2="272.9" y2="135.9" stroke="#dddddd" stroke-width="0.9"/>
<text x="284.95" y="31.55" font-size="3.6" fill="#888888" text-anchor="middle" >E2F2***</text>
<line x1="279.47" y1="135.9" x2="279.47" y2="137.5" stroke="#333333" stroke-width="0.5"/>
<text x="281.87" y="140.5" font-size="3.6" fill="#4a4a4a" text-anchor="end" transform="rotate(-45 281.87 140.5)" stroke="#4a4a4a" stroke-width="0.12">High Grade</text>
<line x1="290.43" y1="135.9" x2="290.43" y2="137.5" stroke="#333333" stroke-width="0.5"/>
<text x="292.83" y="140.5" font-size="3.6" fill="#4a4a4a" text-anchor="end" transform="rotate(-45 292.83 140.5)" stroke="#4a4a4a" stroke-width="0.12">Low Grade</text>
<line x1="299.2" y1="120.2" x2="323.3" y2="120.2" stroke="#f4f4f4" stroke-width="0.35"/>
<line x1="299.2" y1="97.2" x2="323.3" y2="97.2" stroke="#f4f4f4" stroke-width="0.35"/>
<line x1="299.2" y1="74.2" x2="323.3" y2="74.2" stroke="#f4f4f4" stroke-width="0.35"/>
<line x1="299.2" y1="51.2" x2="323.3" y2="51.2" stroke="#f4f4f4" stroke-width="0.35"/>
<line x1="299.2" y1="131.7" x2="323.3" y2="131.7" stroke="#ebebeb" stroke-width="0.6"/>
<line x1="299.2" y1="108.7" x2="323.3" y2="108.7" stroke="#ebebeb" stroke-width="0.6"/>
<line x1="299.2" y1="85.7" x2="323.3" y2="85.7" stroke="#ebebeb" stroke-width="0.6"/>
<line x1="299.2" y1="62.7" x2="323.3" y2="62.7" stroke="#ebebeb" stroke-width="0.6"/>
<line x1="299.2" y1="39.7" x2="323.3" y2="39.7" stroke="#ebebeb" stroke-width="0.6"/>
<line x1="305.77" y1="33.5" x2="305.77" y2="135.9" stroke="#ebebeb" stroke-width="0.6"/>
<line x1="316.73" y1="33.5" x2="316.73" y2="135.9" stroke="#ebebeb" stroke-width="0.6"/>
<line x1="305.77" y1="75.35" x2="305.77" y2="94.32" stroke="#333333" stroke-width="0.8"/>
<line x1="305.77" y1="104.44" x2="305.77" y2="118.82" stroke="#333333" stroke-width="0.8"/>
<rect x="301.66" y="94.32" width="8.22" height="10.12" fill="#F8766D" stroke="#333333" stroke-width="0.5"/>
<line x1="301.66" y1="98.81" x2="309.88" y2="98.81" stroke="#333333" stroke-width="1"/>
<circle cx="305.77" cy="74.89" r="0.95" fill="#1a1a1a"/>
<circle cx="305.77" cy="74.07" r="0.95" fill="#1a1a1a"/>
<circle cx="305.77" cy="73.25" r="0.95" fill="#1a1a1a"/>
<circle cx="305.77" cy="72.43" r="0.95" fill="#1a1a1a"/>
<circle cx="305.77" cy="71.62" r="0.95" fill="#1a1a1a"/>
<circle cx="305.77" cy="70.8" r="0.95" fill="#1a1a1a"/>
<circle cx="305.77" cy="69.98" r="0.95" fill="#1a1a1a"/>
<circle cx="305.77" cy="69.16" r="0.95" fill="#1a1a1a"/>
<circle cx="305.77" cy="68.34" r="0.95" fill="#1a1a1a"/>
<circle cx="305.77" cy="67.52" r="0.95" fill="#1a1a1a"/>
<circle cx="305.77" cy="66.7" r="0.95" fill="#1a1a1a"/>
<circle cx="305.77" cy="65.89" r="0.95" fill="#1a1a1a"/>
<circle cx="305.77" cy="65.07" r="0.95" fill="#1a1a1a"/>
<circle cx="305.77" cy="64.25" r="0.95" fill="#1a1a1a"/>
<circle cx="305.77" cy="63.43" r="0.95" fill="#1a1a1a"/>
<circle cx="305.77" cy="62.61" r="0.95" fill="#1a1a1a"/>
<circle cx="305.77" cy="61.79" r="0.95" fill="#1a1a1a"/>
<circle cx="305.77" cy="60.97" r="0.95" fill="#1a1a1a"/>
<circle cx="305.77" cy="54.99" r="0.95" fill="#1a1a1a"/>
<circle cx="305.77" cy="42.34" r="0.95" fill="#1a1a1a"/>
<circle cx="305.77" cy="37.97" r="0.95" fill="#1a1a1a"/>
<line x1="316.73" y1="92.83" x2="316.73" y2="98.81" stroke="#333333" stroke-width="0.8"/>
<line x1="316.73" y1="105.82" x2="316.73" y2="107.43" stroke="#333333" stroke-width="0.8"/>
<rect x="312.62" y="98.81" width="8.22" height="7.02" fill="#00BFC4" stroke="#333333" stroke-width="0.5"/>
<line x1="312.62" y1="101.8" x2="320.84" y2="101.8" stroke="#333333" stroke-width="1"/>
<rect x="299.2" y="27" width="24.1" height="6.5" fill="#d9d9d9"/>
<line x1="299.2" y1="135.9" x2="323.3" y2="135.9" stroke="#cccccc" stroke-width="0.9"/>
<line x1="299.2" y1="33.5" x2="323.3" y2="33.5" stroke="#999999" stroke-width="0.8"/>
<line x1="323.3" y1="27" x2="323.3" y2="135.9" stroke="#999999" stroke-width="0.9"/>
<line x1="299.2" y1="27" x2="299.2" y2="135.9" stroke="#dddddd" stroke-width="0.9"/>
<text x="311.25" y="31.55" font-size="3.6" fill="#888888" text-anchor="middle" >E2F3</text>
<line x1="305.77" y1="135.9" x2="305.77" y2="137.5" stroke="#333333" stroke-width="0.5"/>
<text x="308.17" y="140.5" font-size="3.6" fill="#4a4a4a" text-anchor="end" transform="rotate(-45 308.17 140.5)" stroke="#4a4a4a" stroke-width="0.12">High Grade</text>
<line x1="316.73" y1="135.9" x2="316.73" y2="137.5" stroke="#333333" stroke-width="0.5"/>
<text x="319.13" y="140.5" font-size="3.6" fill="#4a4a4a" text-anchor="end" transform="rotate(-45 319.13 140.5)" stroke="#4a4a4a" stroke-width="0.12">Low Grade</text>
<line x1="325.5" y1="120.2" x2="349.6" y2="120.2" stroke="#f4f4f4" stroke-width="0.35"/>
<line x1="325.5" y1="97.2" x2="349.6" y2="97.2" stroke="#f4f4f4" stroke-width="0.35"/>
<line x1="325.5" y1="74.2" x2="349.6" y2="74.2" stroke="#f4f4f4" stroke-width="0.35"/>
<line x1="325.5" y1="51.2" x2="349.6" y2="51.2" stroke="#f4f4f4" stroke-width="0.35"/>
<line x1="325.5" y1="131.7" x2="349.6" y2="131.7" stroke="#ebebeb" stroke-width="0.6"/>
<line x1="325.5" y1="108.7" x2="349.6" y2="108.7" stroke="#ebebeb" stroke-width="0.6"/>
<line x1="325.5" y1="85.7" x2="349.6" y2="85.7" stroke="#ebebeb" stroke-width="0.6"/>
<line x1="325.5" y1="62.7" x2="349.6" y2="62.7" stroke="#ebebeb" stroke-width="0.6"/>
<line x1="325.5" y1="39.7" x2="349.6" y2="39.7" stroke="#ebebeb" stroke-width="0.6"/>
<line x1="332.07" y1="33.5" x2="332.07" y2="135.9" stroke="#ebebeb" stroke-width="0.6"/>
<line x1="343.03" y1="33.5" x2="343.03" y2="135.9" stroke="#ebebeb" stroke-width="0.6"/>
<line x1="332.07" y1="62.93" x2="332.07" y2="74.89" stroke="#333333" stroke-width="0.8"/>
<line x1="332.07" y1="82.25" x2="332.07" y2="92.83" stroke="#333333" stroke-width="0.8"/>
<rect x="327.96" y="74.89" width="8.22" height="7.36" fill="#F8766D" stroke="#333333" stroke-width="0.5"/>
<line x1="327.96" y1="78.8" x2="336.18" y2="78.8" stroke="#333333" stroke-width="1"/>
<circle cx="332.07" cy="59.94" r="0.95" fill="#1a1a1a"/>
<circle cx="332.07" cy="60.97" r="0.95" fill="#1a1a1a"/>
<circle cx="332.07" cy="61.78" r="0.95" fill="#1a1a1a"/>
<circle cx="332.07" cy="93.86" r="0.95" fill="#1a1a1a"/>
<line x1="343.03" y1="72.93" x2="343.03" y2="75.35" stroke="#333333" stroke-width="0.8"/>
<line x1="343.03" y1="79.49" x2="343.03" y2="83.51" stroke="#333333" stroke-width="0.8"/>
<rect x="338.92" y="75.35" width="8.22" height="4.14" fill="#00BFC4" stroke="#333333" stroke-width="0.5"/>
<line x1="338.92" y1="77.53" x2="347.14" y2="77.53" stroke="#333333" stroke-width="1"/>
<rect x="325.5" y="27" width="24.1" height="6.5" fill="#d9d9d9"/>
<line x1="325.5" y1="135.9" x2="349.6" y2="135.9" stroke="#cccccc" stroke-width="0.9"/>
<line x1="325.5" y1="33.5" x2="349.6" y2="33.5" stroke="#999999" stroke-width="0.8"/>
<line x1="349.6" y1="27" x2="349.6" y2="135.9" stroke="#999999" stroke-width="0.9"/>
<line x1="325.5" y1="27" x2="325.5" y2="135.9" stroke="#dddddd" stroke-width="0.9"/>
<text x="337.55" y="31.55" font-size="3.6" fill="#888888" text-anchor="middle" >E2F4</text>
<line x1="332.07" y1="135.9" x2="332.07" y2="137.5" stroke="#333333" stroke-width="0.5"/>
<text x="334.47" y="140.5" font-size="3.6" fill="#4a4a4a" text-anchor="end" transform="rotate(-45 334.47 140.5)" stroke="#4a4a4a" stroke-width="0.12">High Grade</text>
<line x1="343.03" y1="135.9" x2="343.03" y2="137.5" stroke="#333333" stroke-width="0.5"/>
<text x="345.43" y="140.5" font-size="3.6" fill="#4a4a4a" text-anchor="end" transform="rotate(-45 345.43 140.5)" stroke="#4a4a4a" stroke-width="0.12">Low Grade</text>
<line x1="351.8" y1="120.2" x2="375.9" y2="120.2" stroke="#f4f4f4" stroke-width="0.35"/>
<line x1="351.8" y1="97.2" x2="375.9" y2="97.2" stroke="#f4f4f4" stroke-width="0.35"/>
<line x1="351.8" y1="74.2" x2="375.9" y2="74.2" stroke="#f4f4f4" stroke-width="0.35"/>
<line x1="351.8" y1="51.2" x2="375.9" y2="51.2" stroke="#f4f4f4" stroke-width="0.35"/>
<line x1="351.8" y1="131.7" x2="375.9" y2="131.7" stroke="#ebebeb" stroke-width="0.6"/>
<line x1="351.8" y1="108.7" x2="375.9" y2="108.7" stroke="#ebebeb" stroke-width="0.6"/>
<line x1="351.8" y1="85.7" x2="375.9" y2="85.7" stroke="#ebebeb" stroke-width="0.6"/>
<line x1="351.8" y1="62.7" x2="375.9" y2="62.7" stroke="#ebebeb" stroke-width="0.6"/>
<line x1="351.8" y1="39.7" x2="375.9" y2="39.7" stroke="#ebebeb" stroke-width="0.6"/>
<line x1="358.37" y1="33.5" x2="358.37" y2="135.9" stroke="#ebebeb" stroke-width="0.6"/>
<line x1="369.33" y1="33.5" x2="369.33" y2="135.9" stroke="#ebebeb" stroke-width="0.6"/>
<line x1="358.37" y1="98.81" x2="358.37" y2="111.8" stroke="#333333" stroke-width="0.8"/>
<line x1="358.37" y1="121.23" x2="358.37" y2="129.17" stroke="#333333" stroke-width="0.8"/>
<rect x="354.26" y="111.8" width="8.22" height="9.43" fill="#F8766D" stroke="#333333" stroke-width="0.5"/>
<line x1="354.26" y1="115.25" x2="362.48" y2="115.25" stroke="#333333" stroke-width="1"/>
<circle cx="358.37" cy="90.3" r="0.95" fill="#1a1a1a"/>
<circle cx="358.37" cy="94.9" r="0.95" fill="#1a1a1a"/>
<circle cx="358.37" cy="95.82" r="0.95" fill="#1a1a1a"/>
<circle cx="358.37" cy="96.85" r="0.95" fill="#1a1a1a"/>
<line x1="369.33" y1="110.42" x2="369.33" y2="113.87" stroke="#333333" stroke-width="0.8"/>
<line x1="369.33" y1="119.28" x2="369.33" y2="122.84" stroke="#333333" stroke-width="0.8"/>
<rect x="365.22" y="113.87" width="8.22" height="5.41" fill="#00BFC4" stroke="#333333" stroke-width="0.5"/>
<line x1="365.22" y1="116.86" x2="373.44" y2="116.86" stroke="#333333" stroke-width="1"/>
<circle cx="369.33" cy="97.31" r="0.95" fill="#1a1a1a"/>
<rect x="351.8" y="27" width="24.1" height="6.5" fill="#d9d9d9"/>
<line x1="351.8" y1="135.9" x2="375.9" y2="135.9" stroke="#cccccc" stroke-width="0.9"/>
<line x1="351.8" y1="33.5" x2="375.9" y2="33.5" stroke="#999999" stroke-width="0.8"/>
<line x1="375.9" y1="27" x2="375.9" y2="135.9" stroke="#999999" stroke-width="0.9"/>
<line x1="351.8" y1="27" x2="351.8" y2="135.9" stroke="#dddddd" stroke-width="0.9"/>
<text x="363.85" y="31.55" font-size="3.6" fill="#888888" text-anchor="middle" >E2F5</text>
<line x1="358.37" y1="135.9" x2="358.37" y2="137.5" stroke="#333333" stroke-width="0.5"/>
<text x="360.77" y="140.5" font-size="3.6" fill="#4a4a4a" text-anchor="end" transform="rotate(-45 360.77 140.5)" stroke="#4a4a4a" stroke-width="0.12">High Grade</text>
<line x1="369.33" y1="135.9" x2="369.33" y2="137.5" stroke="#333333" stroke-width="0.5"/>
<text x="371.73" y="140.5" font-size="3.6" fill="#4a4a4a" text-anchor="end" transform="rotate(-45 371.73 140.5)" stroke="#4a4a4a" stroke-width="0.12">Low Grade</text>
<line x1="378.1" y1="120.2" x2="402.2" y2="120.2" stroke="#f4f4f4" stroke-width="0.35"/>
<line x1="378.1" y1="97.2" x2="402.2" y2="97.2" stroke="#f4f4f4" stroke-width="0.35"/>
<line x1="378.1" y1="74.2" x2="402.2" y2="74.2" stroke="#f4f4f4" stroke-width="0.35"/>
<line x1="378.1" y1="51.2" x2="402.2" y2="51.2" stroke="#f4f4f4" stroke-width="0.35"/>
<line x1="378.1" y1="131.7" x2="402.2" y2="131.7" stroke="#ebebeb" stroke-width="0.6"/>
<line x1="378.1" y1="108.7" x2="402.2" y2="108.7" stroke="#ebebeb" stroke-width="0.6"/>
<line x1="378.1" y1="85.7" x2="402.2" y2="85.7" stroke="#ebebeb" stroke-width="0.6"/>
<line x1="378.1" y1="62.7" x2="402.2" y2="62.7" stroke="#ebebeb" stroke-width="0.6"/>
<line x1="378.1" y1="39.7" x2="402.2" y2="39.7" stroke="#ebebeb" stroke-width="0.6"/>
<line x1="384.67" y1="33.5" x2="384.67" y2="135.9" stroke="#ebebeb" stroke-width="0.6"/>
<line x1="395.63" y1="33.5" x2="395.63" y2="135.9" stroke="#ebebeb" stroke-width="0.6"/>
<line x1="384.67" y1="97.89" x2="384.67" y2="106.28" stroke="#333333" stroke-width="0.8"/>
<line x1="384.67" y1="111.8" x2="384.67" y2="119.85" stroke="#333333" stroke-width="0.8"/>
<rect x="380.56" y="106.28" width="8.22" height="5.52" fill="#F8766D" stroke="#333333" stroke-width="0.5"/>
<line x1="380.56" y1="108.24" x2="388.78" y2="108.24" stroke="#333333" stroke-width="1"/>
<circle cx="384.67" cy="94.9" r="0.95" fill="#1a1a1a"/>
<circle cx="384.67" cy="95.82" r="0.95" fill="#1a1a1a"/>
<circle cx="384.67" cy="96.85" r="0.95" fill="#1a1a1a"/>
<line x1="395.63" y1="107.89" x2="395.63" y2="110.19" stroke="#333333" stroke-width="0.8"/>
<line x1="395.63" y1="114.22" x2="395.63" y2="121.46" stroke="#333333" stroke-width="0.8"/>
<rect x="391.52" y="110.19" width="8.22" height="4.02" fill="#00BFC4" stroke="#333333" stroke-width="0.5"/>
<line x1="391.52" y1="111.8" x2="399.74" y2="111.8" stroke="#333333" stroke-width="1"/>
<circle cx="395.63" cy="121.46" r="0.95" fill="#1a1a1a"/>
<rect x="378.1" y="27" width="24.1" height="6.5" fill="#d9d9d9"/>
<line x1="378.1" y1="135.9" x2="402.2" y2="135.9" stroke="#cccccc" stroke-width="0.9"/>
<line x1="378.1" y1="33.5" x2="402.2" y2="33.5" stroke="#999999" stroke-width="0.8"/>
<line x1="402.2" y1="27" x2="402.2" y2="135.9" stroke="#999999" stroke-width="0.9"/>
<line x1="378.1" y1="27" x2="378.1" y2="135.9" stroke="#dddddd" stroke-width="0.9"/>
<text x="390.15" y="31.55" font-size="3.6" fill="#888888" text-anchor="middle" >E2F6***</text>
<line x1="384.67" y1="135.9" x2="384.67" y2="137.5" stroke="#333333" stroke-width="0.5"/>
<text x="387.07" y="140.5" font-size="3.6" fill="#4a4a4a" text-anchor="end" transform="rotate(-45 387.07 140.5)" stroke="#4a4a4a" stroke-width="0.12">High Grade</text>
<line x1="395.63" y1="135.9" x2="395.63" y2="137.5" stroke="#333333" stroke-width="0.5"/>
<text x="398.03" y="140.5" font-size="3.6" fill="#4a4a4a" text-anchor="end" transform="rotate(-45 398.03 140.5)" stroke="#4a4a4a" stroke-width="0.12">Low Grade</text>
<line x1="404.4" y1="120.2" x2="428.5" y2="120.2" stroke="#f4f4f4" stroke-width="0.35"/>
<line x1="404.4" y1="97.2" x2="428.5" y2="97.2" stroke="#f4f4f4" stroke-width="0.35"/>
<line x1="404.4" y1="74.2" x2="428.5" y2="74.2" stroke="#f4f4f4" stroke-width="0.35"/>
<line x1="404.4" y1="51.2" x2="428.5" y2="51.2" stroke="#f4f4f4" stroke-width="0.35"/>
<line x1="404.4" y1="131.7" x2="428.5" y2="131.7" stroke="#ebebeb" stroke-width="0.6"/>
<line x1="404.4" y1="108.7" x2="428.5" y2="108.7" stroke="#ebebeb" stroke-width="0.6"/>
<line x1="404.4" y1="85.7" x2="428.5" y2="85.7" stroke="#ebebeb" stroke-width="0.6"/>
<line x1="404.4" y1="62.7" x2="428.5" y2="62.7" stroke="#ebebeb" stroke-width="0.6"/>
<line x1="404.4" y1="39.7" x2="428.5" y2="39.7" stroke="#ebebeb" stroke-width="0.6"/>
<line x1="410.97" y1="33.5" x2="410.97" y2="135.9" stroke="#ebebeb" stroke-width="0.6"/>
<line x1="421.93" y1="33.5" x2="421.93" y2="135.9" stroke="#ebebeb" stroke-width="0.6"/>
<line x1="410.97" y1="94.32" x2="410.97" y2="111.23" stroke="#333333" stroke-width="0.8"/>
<line x1="410.97" y1="123.42" x2="410.97" y2="130.78" stroke="#333333" stroke-width="0.8"/>
<rect x="406.86" y="111.23" width="8.22" height="12.19" fill="#F8766D" stroke="#333333" stroke-width="0.5"/>
<line x1="406.86" y1="118.24" x2="415.08" y2="118.24" stroke="#333333" stroke-width="1"/>
<circle cx="410.97" cy="81.9" r="0.95" fill="#1a1a1a"/>
<circle cx="410.97" cy="85.93" r="0.95" fill="#1a1a1a"/>
<circle cx="410.97" cy="89.84" r="0.95" fill="#1a1a1a"/>
<line x1="421.93" y1="108.81" x2="421.93" y2="117.21" stroke="#333333" stroke-width="0.8"/>
<line x1="421.93" y1="125.83" x2="421.93" y2="128.82" stroke="#333333" stroke-width="0.8"/>
<rect x="417.82" y="117.21" width="8.22" height="8.62" fill="#00BFC4" stroke="#333333" stroke-width="0.5"/>
<line x1="417.82" y1="122.27" x2="426.04" y2="122.27" stroke="#333333" stroke-width="1"/>
<rect x="404.4" y="27" width="24.1" height="6.5" fill="#d9d9d9"/>
<line x1="404.4" y1="135.9" x2="428.5" y2="135.9" stroke="#cccccc" stroke-width="0.9"/>
<line x1="404.4" y1="33.5" x2="428.5" y2="33.5" stroke="#999999" stroke-width="0.8"/>
<line x1="428.5" y1="27" x2="428.5" y2="135.9" stroke="#999999" stroke-width="0.9"/>
<line x1="404.4" y1="27" x2="404.4" y2="135.9" stroke="#dddddd" stroke-width="0.9"/>
<text x="416.45" y="31.55" font-size="3.6" fill="#888888" text-anchor="middle" >E2F7*</text>
<line x1="410.97" y1="135.9" x2="410.97" y2="137.5" stroke="#333333" stroke-width="0.5"/>
<text x="413.37" y="140.5" font-size="3.6" fill="#4a4a4a" text-anchor="end" transform="rotate(-45 413.37 140.5)" stroke="#4a4a4a" stroke-width="0.12">High Grade</text>
<line x1="421.93" y1="135.9" x2="421.93" y2="137.5" stroke="#333333" stroke-width="0.5"/>
<text x="424.33" y="140.5" font-size="3.6" fill="#4a4a4a" text-anchor="end" transform="rotate(-45 424.33 140.5)" stroke="#4a4a4a" stroke-width="0.12">Low Grade</text>
<line x1="430.7" y1="120.2" x2="454.8" y2="120.2" stroke="#f4f4f4" stroke-width="0.35"/>
<line x1="430.7" y1="97.2" x2="454.8" y2="97.2" stroke="#f4f4f4" stroke-width="0.35"/>
<line x1="430.7" y1="74.2" x2="454.8" y2="74.2" stroke="#f4f4f4" stroke-width="0.35"/>
<line x1="430.7" y1="51.2" x2="454.8" y2="51.2" stroke="#f4f4f4" stroke-width="0.35"/>
<line x1="430.7" y1="131.7" x2="454.8" y2="131.7" stroke="#ebebeb" stroke-width="0.6"/>
<line x1="430.7" y1="108.7" x2="454.8" y2="108.7" stroke="#ebebeb" stroke-width="0.6"/>
<line x1="430.7" y1="85.7" x2="454.8" y2="85.7" stroke="#ebebeb" stroke-width="0.6"/>
<line x1="430.7" y1="62.7" x2="454.8" y2="62.7" stroke="#ebebeb" stroke-width="0.6"/>
<line x1="430.7" y1="39.7" x2="454.8" y2="39.7" stroke="#ebebeb" stroke-width="0.6"/>
<line x1="437.27" y1="33.5" x2="437.27" y2="135.9" stroke="#ebebeb" stroke-width="0.6"/>
<line x1="448.23" y1="33.5" x2="448.23" y2="135.9" stroke="#ebebeb" stroke-width="0.6"/>
<line x1="437.27" y1="83.97" x2="437.27" y2="101.45" stroke="#333333" stroke-width="0.8"/>
<line x1="437.27" y1="115.48" x2="437.27" y2="129.86" stroke="#333333" stroke-width="0.8"/>
<rect x="433.16" y="101.45" width="8.22" height="14.03" fill="#F8766D" stroke="#333333" stroke-width="0.5"/>
<line x1="433.16" y1="107.43" x2="441.38" y2="107.43" stroke="#333333" stroke-width="1"/>
<circle cx="437.27" cy="76.27" r="0.95" fill="#1a1a1a"/>
<circle cx="437.27" cy="77.53" r="0.95" fill="#1a1a1a"/>
<line x1="448.23" y1="99.84" x2="448.23" y2="109.27" stroke="#333333" stroke-width="0.8"/>
<line x1="448.23" y1="117.44" x2="448.23" y2="125.83" stroke="#333333" stroke-width="0.8"/>
<rect x="444.12" y="109.27" width="8.22" height="8.16" fill="#00BFC4" stroke="#333333" stroke-width="0.5"/>
<line x1="444.12" y1="113.41" x2="452.34" y2="113.41" stroke="#333333" stroke-width="1"/>
<rect x="430.7" y="27" width="24.1" height="6.5" fill="#d9d9d9"/>
<line x1="430.7" y1="135.9" x2="454.8" y2="135.9" stroke="#cccccc" stroke-width="0.9"/>
<line x1="430.7" y1="33.5" x2="454.8" y2="33.5" stroke="#999999" stroke-width="0.8"/>
<line x1="454.8" y1="27" x2="454.8" y2="135.9" stroke="#999999" stroke-width="0.9"/>
<line x1="430.7" y1="27" x2="430.7" y2="135.9" stroke="#dddddd" stroke-width="0.9"/>
<text x="442.75" y="31.55" font-size="3.6" fill="#888888" text-anchor="middle" >E2F8*</text>
<line x1="437.27" y1="135.9" x2="437.27" y2="137.5" stroke="#333333" stroke-width="0.5"/>
<text x="439.67" y="140.5" font-size="3.6" fill="#4a4a4a" text-anchor="end" transform="rotate(-45 439.67 140.5)" stroke="#4a4a4a" stroke-width="0.12">High Grade</text>
<line x1="448.23" y1="135.9" x2="448.23" y2="137.5" stroke="#333333" stroke-width="0.5"/>
<text x="450.63" y="140.5" font-size="3.6" fill="#4a4a4a" text-anchor="end" transform="rotate(-45 450.63 140.5)" stroke="#4a4a4a" stroke-width="0.12">Low Grade</text>
<text x="246.6" y="24.1" font-size="5.2" fill="#111" text-anchor="start"  stroke="#111" stroke-width="0.08">Cancer: BLCA</text>
<text x="239.3" y="84.5" font-size="4.37" fill="#222" text-anchor="middle" transform="rotate(-90 239.3 84.5)" dominant-baseline="central" stroke="#222" stroke-width="0.12">Gene expression</text>
<text x="304.1" y="158.9" font-size="5.55" fill="#000" text-anchor="start"  stroke="#000" stroke-width="0.12">Grade</text>
<line x1="324.6" y1="154" x2="324.6" y2="159.8" stroke="#333333" stroke-width="0.5"/>
<rect x="321.8" y="154.8" width="5.6" height="4.2" fill="#F8766D" stroke="#333333" stroke-width="0.5"/>
<line x1="321.8" y1="156.9" x2="327.4" y2="156.9" stroke="#333333" stroke-width="0.8"/>
<text x="329.8" y="158.92" font-size="5.6" fill="#000" text-anchor="start"  stroke="#000" stroke-width="0.12">High Grade</text>
<line x1="365.4" y1="154" x2="365.4" y2="159.8" stroke="#333333" stroke-width="0.5"/>
<rect x="362.6" y="154.8" width="5.6" height="4.2" fill="#00BFC4" stroke="#333333" stroke-width="0.5"/>
<line x1="362.6" y1="156.9" x2="368.2" y2="156.9" stroke="#333333" stroke-width="0.8"/>
<text x="370.6" y="158.92" font-size="5.6" fill="#000" text-anchor="start"  stroke="#000" stroke-width="0.12">Low Grade</text>
<line x1="470.3" y1="132.9" x2="471.9" y2="132.9" stroke="#333333" stroke-width="0.5"/>
<text x="469.7" y="134.09" font-size="3.3" fill="#555555" text-anchor="end"  stroke="#555555" stroke-width="0.12">0</text>
<line x1="470.3" y1="109.82" x2="471.9" y2="109.82" stroke="#333333" stroke-width="0.5"/>
<text x="469.7" y="111.01" font-size="3.3" fill="#555555" text-anchor="end"  stroke="#555555" stroke-width="0.12">2</text>
<line x1="470.3" y1="86.74" x2="471.9" y2="86.74" stroke="#333333" stroke-width="0.5"/>
<text x="469.7" y="87.93" font-size="3.3" fill="#555555" text-anchor="end"  stroke="#555555" stroke-width="0.12">4</text>
<line x1="470.3" y1="63.66" x2="471.9" y2="63.66" stroke="#333333" stroke-width="0.5"/>
<text x="469.7" y="64.85" font-size="3.3" fill="#555555" text-anchor="end"  stroke="#555555" stroke-width="0.12">6</text>
<line x1="470.3" y1="40.58" x2="471.9" y2="40.58" stroke="#333333" stroke-width="0.5"/>
<text x="469.7" y="41.77" font-size="3.3" fill="#555555" text-anchor="end"  stroke="#555555" stroke-width="0.12">8</text>
<line x1="471.9" y1="121.36" x2="495.5" y2="121.36" stroke="#f4f4f4" stroke-width="0.35"/>
<line x1="471.9" y1="98.28" x2="495.5" y2="98.28" stroke="#f4f4f4" stroke-width="0.35"/>
<line x1="471.9" y1="75.2" x2="495.5" y2="75.2" stroke="#f4f4f4" stroke-width="0.35"/>
<line x1="471.9" y1="52.12" x2="495.5" y2="52.12" stroke="#f4f4f4" stroke-width="0.35"/>
<line x1="471.9" y1="132.9" x2="495.5" y2="132.9" stroke="#ebebeb" stroke-width="0.6"/>
<line x1="471.9" y1="109.82" x2="495.5" y2="109.82" stroke="#ebebeb" stroke-width="0.6"/>
<line x1="471.9" y1="86.74" x2="495.5" y2="86.74" stroke="#ebebeb" stroke-width="0.6"/>
<line x1="471.9" y1="63.66" x2="495.5" y2="63.66" stroke="#ebebeb" stroke-width="0.6"/>
<line x1="471.9" y1="40.58" x2="495.5" y2="40.58" stroke="#ebebeb" stroke-width="0.6"/>
<line x1="478.34" y1="34.5" x2="478.34" y2="136.9" stroke="#ebebeb" stroke-width="0.6"/>
<line x1="489.06" y1="34.5" x2="489.06" y2="136.9" stroke="#ebebeb" stroke-width="0.6"/>
<line x1="478.34" y1="62.85" x2="478.34" y2="82.93" stroke="#333333" stroke-width="0.8"/>
<line x1="478.34" y1="97.24" x2="478.34" y2="113.86" stroke="#333333" stroke-width="0.8"/>
<rect x="474.31" y="82.93" width="8.05" height="14.31" fill="#F8766D" stroke="#333333" stroke-width="0.5"/>
<line x1="474.31" y1="89.86" x2="482.36" y2="89.86" stroke="#333333" stroke-width="1"/>
<circle cx="478.34" cy="119.86" r="0.95" fill="#1a1a1a"/>
<circle cx="478.34" cy="125.86" r="0.95" fill="#1a1a1a"/>
<circle cx="478.34" cy="50.97" r="0.95" fill="#1a1a1a"/>
<circle cx="478.34" cy="52.35" r="0.95" fill="#1a1a1a"/>
<line x1="489.06" y1="61.12" x2="489.06" y2="86.16" stroke="#333333" stroke-width="0.8"/>
<line x1="489.06" y1="103.24" x2="489.06" y2="119.28" stroke="#333333" stroke-width="0.8"/>
<rect x="485.04" y="86.16" width="8.05" height="17.08" fill="#00BFC4" stroke="#333333" stroke-width="0.5"/>
<line x1="485.04" y1="93.43" x2="493.09" y2="93.43" stroke="#333333" stroke-width="1"/>
<rect x="471.9" y="27.5" width="23.6" height="7" fill="#d9d9d9"/>
<line x1="471.9" y1="136.9" x2="495.5" y2="136.9" stroke="#cccccc" stroke-width="0.9"/>
<line x1="471.9" y1="34.5" x2="495.5" y2="34.5" stroke="#999999" stroke-width="0.8"/>
<line x1="495.5" y1="27.5" x2="495.5" y2="136.9" stroke="#999999" stroke-width="0.9"/>
<line x1="471.9" y1="27.5" x2="471.9" y2="136.9" stroke="#dddddd" stroke-width="0.9"/>
<text x="483.7" y="32.3" font-size="3.6" fill="#444444" text-anchor="middle"  stroke="#444444" stroke-width="0.1">E2F1**</text>
<line x1="478.34" y1="136.9" x2="478.34" y2="138.5" stroke="#333333" stroke-width="0.5"/>
<text x="480.74" y="141.5" font-size="3.6" fill="#4a4a4a" text-anchor="end" transform="rotate(-45 480.74 141.5)" stroke="#4a4a4a" stroke-width="0.12">Non-Papillary</text>
<line x1="489.06" y1="136.9" x2="489.06" y2="138.5" stroke="#333333" stroke-width="0.5"/>
<text x="491.46" y="141.5" font-size="3.6" fill="#4a4a4a" text-anchor="end" transform="rotate(-45 491.46 141.5)" stroke="#4a4a4a" stroke-width="0.12">Papillary</text>
<line x1="497.8" y1="121.36" x2="521.4" y2="121.36" stroke="#f4f4f4" stroke-width="0.35"/>
<line x1="497.8" y1="98.28" x2="521.4" y2="98.28" stroke="#f4f4f4" stroke-width="0.35"/>
<line x1="497.8" y1="75.2" x2="521.4" y2="75.2" stroke="#f4f4f4" stroke-width="0.35"/>
<line x1="497.8" y1="52.12" x2="521.4" y2="52.12" stroke="#f4f4f4" stroke-width="0.35"/>
<line x1="497.8" y1="132.9" x2="521.4" y2="132.9" stroke="#ebebeb" stroke-width="0.6"/>
<line x1="497.8" y1="109.82" x2="521.4" y2="109.82" stroke="#ebebeb" stroke-width="0.6"/>
<line x1="497.8" y1="86.74" x2="521.4" y2="86.74" stroke="#ebebeb" stroke-width="0.6"/>
<line x1="497.8" y1="63.66" x2="521.4" y2="63.66" stroke="#ebebeb" stroke-width="0.6"/>
<line x1="497.8" y1="40.58" x2="521.4" y2="40.58" stroke="#ebebeb" stroke-width="0.6"/>
<line x1="504.24" y1="34.5" x2="504.24" y2="136.9" stroke="#ebebeb" stroke-width="0.6"/>
<line x1="514.96" y1="34.5" x2="514.96" y2="136.9" stroke="#ebebeb" stroke-width="0.6"/>
<line x1="504.24" y1="96.78" x2="504.24" y2="109.47" stroke="#333333" stroke-width="0.8"/>
<line x1="504.24" y1="119.86" x2="504.24" y2="130.82" stroke="#333333" stroke-width="0.8"/>
<rect x="500.21" y="109.47" width="8.05" height="10.39" fill="#F8766D" stroke="#333333" stroke-width="0.5"/>
<line x1="500.21" y1="114.9" x2="508.26" y2="114.9" stroke="#333333" stroke-width="1"/>
<circle cx="504.24" cy="76.47" r="0.95" fill="#1a1a1a"/>
<circle cx="504.24" cy="80.97" r="0.95" fill="#1a1a1a"/>
<circle cx="504.24" cy="85.36" r="0.95" fill="#1a1a1a"/>
<circle cx="504.24" cy="89.28" r="0.95" fill="#1a1a1a"/>
<circle cx="504.24" cy="91.36" r="0.95" fill="#1a1a1a"/>
<circle cx="504.24" cy="93.09" r="0.95" fill="#1a1a1a"/>
<circle cx="504.24" cy="94.82" r="0.95" fill="#1a1a1a"/>
<line x1="514.96" y1="98.86" x2="514.96" y2="112.24" stroke="#333333" stroke-width="0.8"/>
<line x1="514.96" y1="123.44" x2="514.96" y2="130.82" stroke="#333333" stroke-width="0.8"/>
<rect x="510.94" y="112.24" width="8.05" height="11.19" fill="#00BFC4" stroke="#333333" stroke-width="0.5"/>
<line x1="510.94" y1="116.86" x2="518.99" y2="116.86" stroke="#333333" stroke-width="1"/>
<circle cx="514.96" cy="74.28" r="0.95" fill="#1a1a1a"/>
<circle cx="514.96" cy="87.32" r="0.95" fill="#1a1a1a"/>
<rect x="497.8" y="27.5" width="23.6" height="7" fill="#d9d9d9"/>
<line x1="497.8" y1="136.9" x2="521.4" y2="136.9" stroke="#cccccc" stroke-width="0.9"/>
<line x1="497.8" y1="34.5" x2="521.4" y2="34.5" stroke="#999999" stroke-width="0.8"/>
<line x1="521.4" y1="27.5" x2="521.4" y2="136.9" stroke="#999999" stroke-width="0.9"/>
<line x1="497.8" y1="27.5" x2="497.8" y2="136.9" stroke="#dddddd" stroke-width="0.9"/>
<text x="509.6" y="32.3" font-size="3.6" fill="#444444" text-anchor="middle"  stroke="#444444" stroke-width="0.1">E2F2*</text>
<line x1="504.24" y1="136.9" x2="504.24" y2="138.5" stroke="#333333" stroke-width="0.5"/>
<text x="506.64" y="141.5" font-size="3.6" fill="#4a4a4a" text-anchor="end" transform="rotate(-45 506.64 141.5)" stroke="#4a4a4a" stroke-width="0.12">Non-Papillary</text>
<line x1="514.96" y1="136.9" x2="514.96" y2="138.5" stroke="#333333" stroke-width="0.5"/>
<text x="517.36" y="141.5" font-size="3.6" fill="#4a4a4a" text-anchor="end" transform="rotate(-45 517.36 141.5)" stroke="#4a4a4a" stroke-width="0.12">Papillary</text>
<line x1="523.7" y1="121.36" x2="547.3" y2="121.36" stroke="#f4f4f4" stroke-width="0.35"/>
<line x1="523.7" y1="98.28" x2="547.3" y2="98.28" stroke="#f4f4f4" stroke-width="0.35"/>
<line x1="523.7" y1="75.2" x2="547.3" y2="75.2" stroke="#f4f4f4" stroke-width="0.35"/>
<line x1="523.7" y1="52.12" x2="547.3" y2="52.12" stroke="#f4f4f4" stroke-width="0.35"/>
<line x1="523.7" y1="132.9" x2="547.3" y2="132.9" stroke="#ebebeb" stroke-width="0.6"/>
<line x1="523.7" y1="109.82" x2="547.3" y2="109.82" stroke="#ebebeb" stroke-width="0.6"/>
<line x1="523.7" y1="86.74" x2="547.3" y2="86.74" stroke="#ebebeb" stroke-width="0.6"/>
<line x1="523.7" y1="63.66" x2="547.3" y2="63.66" stroke="#ebebeb" stroke-width="0.6"/>
<line x1="523.7" y1="40.58" x2="547.3" y2="40.58" stroke="#ebebeb" stroke-width="0.6"/>
<line x1="530.14" y1="34.5" x2="530.14" y2="136.9" stroke="#ebebeb" stroke-width="0.6"/>
<line x1="540.86" y1="34.5" x2="540.86" y2="136.9" stroke="#ebebeb" stroke-width="0.6"/>
<line x1="530.14" y1="77.51" x2="530.14" y2="95.28" stroke="#333333" stroke-width="0.8"/>
<line x1="530.14" y1="105.9" x2="530.14" y2="119.28" stroke="#333333" stroke-width="0.8"/>
<rect x="526.11" y="95.28" width="8.05" height="10.62" fill="#F8766D" stroke="#333333" stroke-width="0.5"/>
<line x1="526.11" y1="101.28" x2="534.16" y2="101.28" stroke="#333333" stroke-width="1"/>
<circle cx="530.14" cy="76.93" r="0.95" fill="#1a1a1a"/>
<circle cx="530.14" cy="75.93" r="0.95" fill="#1a1a1a"/>
<circle cx="530.14" cy="74.93" r="0.95" fill="#1a1a1a"/>
<circle cx="530.14" cy="73.93" r="0.95" fill="#1a1a1a"/>
<circle cx="530.14" cy="72.93" r="0.95" fill="#1a1a1a"/>
<circle cx="530.14" cy="71.93" r="0.95" fill="#1a1a1a"/>
<circle cx="530.14" cy="70.93" r="0.95" fill="#1a1a1a"/>
<circle cx="530.14" cy="69.93" r="0.95" fill="#1a1a1a"/>
<circle cx="530.14" cy="68.93" r="0.95" fill="#1a1a1a"/>
<circle cx="530.14" cy="67.93" r="0.95" fill="#1a1a1a"/>
<circle cx="530.14" cy="66.93" r="0.95" fill="#1a1a1a"/>
<circle cx="530.14" cy="65.93" r="0.95" fill="#1a1a1a"/>
<circle cx="530.14" cy="64.93" r="0.95" fill="#1a1a1a"/>
<circle cx="530.14" cy="63.93" r="0.95" fill="#1a1a1a"/>
<circle cx="530.14" cy="62.93" r="0.95" fill="#1a1a1a"/>
<circle cx="530.14" cy="61.93" r="0.95" fill="#1a1a1a"/>
<circle cx="530.14" cy="55.93" r="0.95" fill="#1a1a1a"/>
<line x1="540.86" y1="79.93" x2="540.86" y2="94.47" stroke="#333333" stroke-width="0.8"/>
<line x1="540.86" y1="104.51" x2="540.86" y2="116.4" stroke="#333333" stroke-width="0.8"/>
<rect x="536.84" y="94.47" width="8.05" height="10.04" fill="#00BFC4" stroke="#333333" stroke-width="0.5"/>
<line x1="536.84" y1="98.86" x2="544.89" y2="98.86" stroke="#333333" stroke-width="1"/>
<circle cx="540.86" cy="76.93" r="0.95" fill="#1a1a1a"/>
<circle cx="540.86" cy="76.01" r="0.95" fill="#1a1a1a"/>
<circle cx="540.86" cy="75.08" r="0.95" fill="#1a1a1a"/>
<circle cx="540.86" cy="74.16" r="0.95" fill="#1a1a1a"/>
<circle cx="540.86" cy="73.24" r="0.95" fill="#1a1a1a"/>
<circle cx="540.86" cy="72.32" r="0.95" fill="#1a1a1a"/>
<circle cx="540.86" cy="43" r="0.95" fill="#1a1a1a"/>
<circle cx="540.86" cy="38.96" r="0.95" fill="#1a1a1a"/>
<rect x="523.7" y="27.5" width="23.6" height="7" fill="#d9d9d9"/>
<line x1="523.7" y1="136.9" x2="547.3" y2="136.9" stroke="#cccccc" stroke-width="0.9"/>
<line x1="523.7" y1="34.5" x2="547.3" y2="34.5" stroke="#999999" stroke-width="0.8"/>
<line x1="547.3" y1="27.5" x2="547.3" y2="136.9" stroke="#999999" stroke-width="0.9"/>
<line x1="523.7" y1="27.5" x2="523.7" y2="136.9" stroke="#dddddd" stroke-width="0.9"/>
<text x="535.5" y="32.3" font-size="3.6" fill="#444444" text-anchor="middle"  stroke="#444444" stroke-width="0.1">E2F3</text>
<line x1="530.14" y1="136.9" x2="530.14" y2="138.5" stroke="#333333" stroke-width="0.5"/>
<text x="532.54" y="141.5" font-size="3.6" fill="#4a4a4a" text-anchor="end" transform="rotate(-45 532.54 141.5)" stroke="#4a4a4a" stroke-width="0.12">Non-Papillary</text>
<line x1="540.86" y1="136.9" x2="540.86" y2="138.5" stroke="#333333" stroke-width="0.5"/>
<text x="543.26" y="141.5" font-size="3.6" fill="#4a4a4a" text-anchor="end" transform="rotate(-45 543.26 141.5)" stroke="#4a4a4a" stroke-width="0.12">Papillary</text>
<line x1="549.6" y1="121.36" x2="573.2" y2="121.36" stroke="#f4f4f4" stroke-width="0.35"/>
<line x1="549.6" y1="98.28" x2="573.2" y2="98.28" stroke="#f4f4f4" stroke-width="0.35"/>
<line x1="549.6" y1="75.2" x2="573.2" y2="75.2" stroke="#f4f4f4" stroke-width="0.35"/>
<line x1="549.6" y1="52.12" x2="573.2" y2="52.12" stroke="#f4f4f4" stroke-width="0.35"/>
<line x1="549.6" y1="132.9" x2="573.2" y2="132.9" stroke="#ebebeb" stroke-width="0.6"/>
<line x1="549.6" y1="109.82" x2="573.2" y2="109.82" stroke="#ebebeb" stroke-width="0.6"/>
<line x1="549.6" y1="86.74" x2="573.2" y2="86.74" stroke="#ebebeb" stroke-width="0.6"/>
<line x1="549.6" y1="63.66" x2="573.2" y2="63.66" stroke="#ebebeb" stroke-width="0.6"/>
<line x1="549.6" y1="40.58" x2="573.2" y2="40.58" stroke="#ebebeb" stroke-width="0.6"/>
<line x1="556.04" y1="34.5" x2="556.04" y2="136.9" stroke="#ebebeb" stroke-width="0.6"/>
<line x1="566.76" y1="34.5" x2="566.76" y2="136.9" stroke="#ebebeb" stroke-width="0.6"/>
<line x1="556.04" y1="64.93" x2="556.04" y2="75.89" stroke="#333333" stroke-width="0.8"/>
<line x1="556.04" y1="82.93" x2="556.04" y2="90.89" stroke="#333333" stroke-width="0.8"/>
<rect x="552.01" y="75.89" width="8.05" height="7.04" fill="#F8766D" stroke="#333333" stroke-width="0.5"/>
<line x1="552.01" y1="79.35" x2="560.06" y2="79.35" stroke="#333333" stroke-width="1"/>
<circle cx="556.04" cy="60.89" r="0.95" fill="#1a1a1a"/>
<circle cx="556.04" cy="62.51" r="0.95" fill="#1a1a1a"/>
<circle cx="556.04" cy="63.89" r="0.95" fill="#1a1a1a"/>
<circle cx="556.04" cy="94.47" r="0.95" fill="#1a1a1a"/>
<line x1="566.76" y1="66.89" x2="566.76" y2="76.47" stroke="#333333" stroke-width="0.8"/>
<line x1="566.76" y1="83.51" x2="566.76" y2="91.82" stroke="#333333" stroke-width="0.8"/>
<rect x="562.74" y="76.47" width="8.05" height="7.04" fill="#00BFC4" stroke="#333333" stroke-width="0.5"/>
<line x1="562.74" y1="79.93" x2="570.79" y2="79.93" stroke="#333333" stroke-width="1"/>
<circle cx="566.76" cy="65.51" r="0.95" fill="#1a1a1a"/>
<circle cx="566.76" cy="95.28" r="0.95" fill="#1a1a1a"/>
<rect x="549.6" y="27.5" width="23.6" height="7" fill="#d9d9d9"/>
<line x1="549.6" y1="136.9" x2="573.2" y2="136.9" stroke="#cccccc" stroke-width="0.9"/>
<line x1="549.6" y1="34.5" x2="573.2" y2="34.5" stroke="#999999" stroke-width="0.8"/>
<line x1="573.2" y1="27.5" x2="573.2" y2="136.9" stroke="#999999" stroke-width="0.9"/>
<line x1="549.6" y1="27.5" x2="549.6" y2="136.9" stroke="#dddddd" stroke-width="0.9"/>
<text x="561.4" y="32.3" font-size="3.6" fill="#444444" text-anchor="middle"  stroke="#444444" stroke-width="0.1">E2F4</text>
<line x1="556.04" y1="136.9" x2="556.04" y2="138.5" stroke="#333333" stroke-width="0.5"/>
<text x="558.44" y="141.5" font-size="3.6" fill="#4a4a4a" text-anchor="end" transform="rotate(-45 558.44 141.5)" stroke="#4a4a4a" stroke-width="0.12">Non-Papillary</text>
<line x1="566.76" y1="136.9" x2="566.76" y2="138.5" stroke="#333333" stroke-width="0.5"/>
<text x="569.16" y="141.5" font-size="3.6" fill="#4a4a4a" text-anchor="end" transform="rotate(-45 569.16 141.5)" stroke="#4a4a4a" stroke-width="0.12">Papillary</text>
<line x1="575.5" y1="121.36" x2="599.1" y2="121.36" stroke="#f4f4f4" stroke-width="0.35"/>
<line x1="575.5" y1="98.28" x2="599.1" y2="98.28" stroke="#f4f4f4" stroke-width="0.35"/>
<line x1="575.5" y1="75.2" x2="599.1" y2="75.2" stroke="#f4f4f4" stroke-width="0.35"/>
<line x1="575.5" y1="52.12" x2="599.1" y2="52.12" stroke="#f4f4f4" stroke-width="0.35"/>
<line x1="575.5" y1="132.9" x2="599.1" y2="132.9" stroke="#ebebeb" stroke-width="0.6"/>
<line x1="575.5" y1="109.82" x2="599.1" y2="109.82" stroke="#ebebeb" stroke-width="0.6"/>
<line x1="575.5" y1="86.74" x2="599.1" y2="86.74" stroke="#ebebeb" stroke-width="0.6"/>
<line x1="575.5" y1="63.66" x2="599.1" y2="63.66" stroke="#ebebeb" stroke-width="0.6"/>
<line x1="575.5" y1="40.58" x2="599.1" y2="40.58" stroke="#ebebeb" stroke-width="0.6"/>
<line x1="581.94" y1="34.5" x2="581.94" y2="136.9" stroke="#ebebeb" stroke-width="0.6"/>
<line x1="592.66" y1="34.5" x2="592.66" y2="136.9" stroke="#ebebeb" stroke-width="0.6"/>
<line x1="581.94" y1="99.9" x2="581.94" y2="113.28" stroke="#333333" stroke-width="0.8"/>
<line x1="581.94" y1="122.4" x2="581.94" y2="130.48" stroke="#333333" stroke-width="0.8"/>
<rect x="577.91" y="113.28" width="8.05" height="9.12" fill="#F8766D" stroke="#333333" stroke-width="0.5"/>
<line x1="577.91" y1="117.21" x2="585.96" y2="117.21" stroke="#333333" stroke-width="1"/>
<circle cx="581.94" cy="91.24" r="0.95" fill="#1a1a1a"/>
<circle cx="581.94" cy="95.4" r="0.95" fill="#1a1a1a"/>
<circle cx="581.94" cy="96.55" r="0.95" fill="#1a1a1a"/>
<circle cx="581.94" cy="97.82" r="0.95" fill="#1a1a1a"/>
<line x1="592.66" y1="100.82" x2="592.66" y2="112.24" stroke="#333333" stroke-width="0.8"/>
<line x1="592.66" y1="119.4" x2="592.66" y2="127.82" stroke="#333333" stroke-width="0.8"/>
<rect x="588.64" y="112.24" width="8.05" height="7.15" fill="#00BFC4" stroke="#333333" stroke-width="0.5"/>
<line x1="588.64" y1="114.9" x2="596.69" y2="114.9" stroke="#333333" stroke-width="1"/>
<circle cx="592.66" cy="96.9" r="0.95" fill="#1a1a1a"/>
<circle cx="592.66" cy="98.28" r="0.95" fill="#1a1a1a"/>
<circle cx="592.66" cy="99.43" r="0.95" fill="#1a1a1a"/>
<rect x="575.5" y="27.5" width="23.6" height="7" fill="#d9d9d9"/>
<line x1="575.5" y1="136.9" x2="599.1" y2="136.9" stroke="#cccccc" stroke-width="0.9"/>
<line x1="575.5" y1="34.5" x2="599.1" y2="34.5" stroke="#999999" stroke-width="0.8"/>
<line x1="599.1" y1="27.5" x2="599.1" y2="136.9" stroke="#999999" stroke-width="0.9"/>
<line x1="575.5" y1="27.5" x2="575.5" y2="136.9" stroke="#dddddd" stroke-width="0.9"/>
<text x="587.3" y="32.3" font-size="3.6" fill="#444444" text-anchor="middle"  stroke="#444444" stroke-width="0.1">E2F5**</text>
<line x1="581.94" y1="136.9" x2="581.94" y2="138.5" stroke="#333333" stroke-width="0.5"/>
<text x="584.34" y="141.5" font-size="3.6" fill="#4a4a4a" text-anchor="end" transform="rotate(-45 584.34 141.5)" stroke="#4a4a4a" stroke-width="0.12">Non-Papillary</text>
<line x1="592.66" y1="136.9" x2="592.66" y2="138.5" stroke="#333333" stroke-width="0.5"/>
<text x="595.06" y="141.5" font-size="3.6" fill="#4a4a4a" text-anchor="end" transform="rotate(-45 595.06 141.5)" stroke="#4a4a4a" stroke-width="0.12">Papillary</text>
<line x1="601.4" y1="121.36" x2="625" y2="121.36" stroke="#f4f4f4" stroke-width="0.35"/>
<line x1="601.4" y1="98.28" x2="625" y2="98.28" stroke="#f4f4f4" stroke-width="0.35"/>
<line x1="601.4" y1="75.2" x2="625" y2="75.2" stroke="#f4f4f4" stroke-width="0.35"/>
<line x1="601.4" y1="52.12" x2="625" y2="52.12" stroke="#f4f4f4" stroke-width="0.35"/>
<line x1="601.4" y1="132.9" x2="625" y2="132.9" stroke="#ebebeb" stroke-width="0.6"/>
<line x1="601.4" y1="109.82" x2="625" y2="109.82" stroke="#ebebeb" stroke-width="0.6"/>
<line x1="601.4" y1="86.74" x2="625" y2="86.74" stroke="#ebebeb" stroke-width="0.6"/>
<line x1="601.4" y1="63.66" x2="625" y2="63.66" stroke="#ebebeb" stroke-width="0.6"/>
<line x1="601.4" y1="40.58" x2="625" y2="40.58" stroke="#ebebeb" stroke-width="0.6"/>
<line x1="607.84" y1="34.5" x2="607.84" y2="136.9" stroke="#ebebeb" stroke-width="0.6"/>
<line x1="618.56" y1="34.5" x2="618.56" y2="136.9" stroke="#ebebeb" stroke-width="0.6"/>
<line x1="607.84" y1="99.9" x2="607.84" y2="107.28" stroke="#333333" stroke-width="0.8"/>
<line x1="607.84" y1="112.47" x2="607.84" y2="120.9" stroke="#333333" stroke-width="0.8"/>
<rect x="603.81" y="107.28" width="8.05" height="5.19" fill="#F8766D" stroke="#333333" stroke-width="0.5"/>
<line x1="603.81" y1="109.24" x2="611.86" y2="109.24" stroke="#333333" stroke-width="1"/>
<circle cx="607.84" cy="97.7" r="0.95" fill="#1a1a1a"/>
<circle cx="607.84" cy="98.63" r="0.95" fill="#1a1a1a"/>
<line x1="618.56" y1="101.28" x2="618.56" y2="107.28" stroke="#333333" stroke-width="0.8"/>
<line x1="618.56" y1="113.4" x2="618.56" y2="122.4" stroke="#333333" stroke-width="0.8"/>
<rect x="614.54" y="107.28" width="8.05" height="6.12" fill="#00BFC4" stroke="#333333" stroke-width="0.5"/>
<line x1="614.54" y1="109.82" x2="622.59" y2="109.82" stroke="#333333" stroke-width="1"/>
<circle cx="618.56" cy="95.28" r="0.95" fill="#1a1a1a"/>
<rect x="601.4" y="27.5" width="23.6" height="7" fill="#d9d9d9"/>
<line x1="601.4" y1="136.9" x2="625" y2="136.9" stroke="#cccccc" stroke-width="0.9"/>
<line x1="601.4" y1="34.5" x2="625" y2="34.5" stroke="#999999" stroke-width="0.8"/>
<line x1="625" y1="27.5" x2="625" y2="136.9" stroke="#999999" stroke-width="0.9"/>
<line x1="601.4" y1="27.5" x2="601.4" y2="136.9" stroke="#dddddd" stroke-width="0.9"/>
<text x="613.2" y="32.3" font-size="3.6" fill="#444444" text-anchor="middle"  stroke="#444444" stroke-width="0.1">E2F6</text>
<line x1="607.84" y1="136.9" x2="607.84" y2="138.5" stroke="#333333" stroke-width="0.5"/>
<text x="610.24" y="141.5" font-size="3.6" fill="#4a4a4a" text-anchor="end" transform="rotate(-45 610.24 141.5)" stroke="#4a4a4a" stroke-width="0.12">Non-Papillary</text>
<line x1="618.56" y1="136.9" x2="618.56" y2="138.5" stroke="#333333" stroke-width="0.5"/>
<text x="620.96" y="141.5" font-size="3.6" fill="#4a4a4a" text-anchor="end" transform="rotate(-45 620.96 141.5)" stroke="#4a4a4a" stroke-width="0.12">Papillary</text>
<line x1="627.3" y1="121.36" x2="650.9" y2="121.36" stroke="#f4f4f4" stroke-width="0.35"/>
<line x1="627.3" y1="98.28" x2="650.9" y2="98.28" stroke="#f4f4f4" stroke-width="0.35"/>
<line x1="627.3" y1="75.2" x2="650.9" y2="75.2" stroke="#f4f4f4" stroke-width="0.35"/>
<line x1="627.3" y1="52.12" x2="650.9" y2="52.12" stroke="#f4f4f4" stroke-width="0.35"/>
<line x1="627.3" y1="132.9" x2="650.9" y2="132.9" stroke="#ebebeb" stroke-width="0.6"/>
<line x1="627.3" y1="109.82" x2="650.9" y2="109.82" stroke="#ebebeb" stroke-width="0.6"/>
<line x1="627.3" y1="86.74" x2="650.9" y2="86.74" stroke="#ebebeb" stroke-width="0.6"/>
<line x1="627.3" y1="63.66" x2="650.9" y2="63.66" stroke="#ebebeb" stroke-width="0.6"/>
<line x1="627.3" y1="40.58" x2="650.9" y2="40.58" stroke="#ebebeb" stroke-width="0.6"/>
<line x1="633.74" y1="34.5" x2="633.74" y2="136.9" stroke="#ebebeb" stroke-width="0.6"/>
<line x1="644.46" y1="34.5" x2="644.46" y2="136.9" stroke="#ebebeb" stroke-width="0.6"/>
<line x1="633.74" y1="95.28" x2="633.74" y2="111.9" stroke="#333333" stroke-width="0.8"/>
<line x1="633.74" y1="124.82" x2="633.74" y2="131.86" stroke="#333333" stroke-width="0.8"/>
<rect x="629.71" y="111.9" width="8.05" height="12.92" fill="#F8766D" stroke="#333333" stroke-width="0.5"/>
<line x1="629.71" y1="118.48" x2="637.76" y2="118.48" stroke="#333333" stroke-width="1"/>
<circle cx="633.74" cy="86.86" r="0.95" fill="#1a1a1a"/>
<circle cx="633.74" cy="90.89" r="0.95" fill="#1a1a1a"/>
<line x1="644.46" y1="101.28" x2="644.46" y2="114.9" stroke="#333333" stroke-width="0.8"/>
<line x1="644.46" y1="124.48" x2="644.46" y2="131.4" stroke="#333333" stroke-width="0.8"/>
<rect x="640.44" y="114.9" width="8.05" height="9.58" fill="#00BFC4" stroke="#333333" stroke-width="0.5"/>
<line x1="640.44" y1="120.21" x2="648.49" y2="120.21" stroke="#333333" stroke-width="1"/>
<circle cx="644.46" cy="82.93" r="0.95" fill="#1a1a1a"/>
<circle cx="644.46" cy="95.4" r="0.95" fill="#1a1a1a"/>
<rect x="627.3" y="27.5" width="23.6" height="7" fill="#d9d9d9"/>
<line x1="627.3" y1="136.9" x2="650.9" y2="136.9" stroke="#cccccc" stroke-width="0.9"/>
<line x1="627.3" y1="34.5" x2="650.9" y2="34.5" stroke="#999999" stroke-width="0.8"/>
<line x1="650.9" y1="27.5" x2="650.9" y2="136.9" stroke="#999999" stroke-width="0.9"/>
<line x1="627.3" y1="27.5" x2="627.3" y2="136.9" stroke="#dddddd" stroke-width="0.9"/>
<text x="639.1" y="32.3" font-size="3.6" fill="#444444" text-anchor="middle"  stroke="#444444" stroke-width="0.1">E2F7</text>
<line x1="633.74" y1="136.9" x2="633.74" y2="138.5" stroke="#333333" stroke-width="0.5"/>
<text x="636.14" y="141.5" font-size="3.6" fill="#4a4a4a" text-anchor="end" transform="rotate(-45 636.14 141.5)" stroke="#4a4a4a" stroke-width="0.12">Non-Papillary</text>
<line x1="644.46" y1="136.9" x2="644.46" y2="138.5" stroke="#333333" stroke-width="0.5"/>
<text x="646.86" y="141.5" font-size="3.6" fill="#4a4a4a" text-anchor="end" transform="rotate(-45 646.86 141.5)" stroke="#4a4a4a" stroke-width="0.12">Papillary</text>
<line x1="653.2" y1="121.36" x2="676.8" y2="121.36" stroke="#f4f4f4" stroke-width="0.35"/>
<line x1="653.2" y1="98.28" x2="676.8" y2="98.28" stroke="#f4f4f4" stroke-width="0.35"/>
<line x1="653.2" y1="75.2" x2="676.8" y2="75.2" stroke="#f4f4f4" stroke-width="0.35"/>
<line x1="653.2" y1="52.12" x2="676.8" y2="52.12" stroke="#f4f4f4" stroke-width="0.35"/>
<line x1="653.2" y1="132.9" x2="676.8" y2="132.9" stroke="#ebebeb" stroke-width="0.6"/>
<line x1="653.2" y1="109.82" x2="676.8" y2="109.82" stroke="#ebebeb" stroke-width="0.6"/>
<line x1="653.2" y1="86.74" x2="676.8" y2="86.74" stroke="#ebebeb" stroke-width="0.6"/>
<line x1="653.2" y1="63.66" x2="676.8" y2="63.66" stroke="#ebebeb" stroke-width="0.6"/>
<line x1="653.2" y1="40.58" x2="676.8" y2="40.58" stroke="#ebebeb" stroke-width="0.6"/>
<line x1="659.64" y1="34.5" x2="659.64" y2="136.9" stroke="#ebebeb" stroke-width="0.6"/>
<line x1="670.36" y1="34.5" x2="670.36" y2="136.9" stroke="#ebebeb" stroke-width="0.6"/>
<line x1="659.64" y1="87.32" x2="659.64" y2="103.93" stroke="#333333" stroke-width="0.8"/>
<line x1="659.64" y1="117.44" x2="659.64" y2="130.82" stroke="#333333" stroke-width="0.8"/>
<rect x="655.61" y="103.93" width="8.05" height="13.5" fill="#F8766D" stroke="#333333" stroke-width="0.5"/>
<line x1="655.61" y1="110.86" x2="663.66" y2="110.86" stroke="#333333" stroke-width="1"/>
<circle cx="659.64" cy="76.93" r="0.95" fill="#1a1a1a"/>
<circle cx="659.64" cy="84.55" r="0.95" fill="#1a1a1a"/>
<line x1="670.36" y1="78.55" x2="670.36" y2="100.82" stroke="#333333" stroke-width="0.8"/>
<line x1="670.36" y1="116.4" x2="670.36" y2="129.21" stroke="#333333" stroke-width="0.8"/>
<rect x="666.34" y="100.82" width="8.05" height="15.58" fill="#00BFC4" stroke="#333333" stroke-width="0.5"/>
<line x1="666.34" y1="106.47" x2="674.39" y2="106.47" stroke="#333333" stroke-width="1"/>
<rect x="653.2" y="27.5" width="23.6" height="7" fill="#d9d9d9"/>
<line x1="653.2" y1="136.9" x2="676.8" y2="136.9" stroke="#cccccc" stroke-width="0.9"/>
<line x1="653.2" y1="34.5" x2="676.8" y2="34.5" stroke="#999999" stroke-width="0.8"/>
<line x1="676.8" y1="27.5" x2="676.8" y2="136.9" stroke="#999999" stroke-width="0.9"/>
<line x1="653.2" y1="27.5" x2="653.2" y2="136.9" stroke="#dddddd" stroke-width="0.9"/>
<text x="665" y="32.3" font-size="3.6" fill="#444444" text-anchor="middle"  stroke="#444444" stroke-width="0.1">E2F8*</text>
<line x1="659.64" y1="136.9" x2="659.64" y2="138.5" stroke="#333333" stroke-width="0.5"/>
<text x="662.04" y="141.5" font-size="3.6" fill="#4a4a4a" text-anchor="end" transform="rotate(-45 662.04 141.5)" stroke="#4a4a4a" stroke-width="0.12">Non-Papillary</text>
<line x1="670.36" y1="136.9" x2="670.36" y2="138.5" stroke="#333333" stroke-width="0.5"/>
<text x="672.76" y="141.5" font-size="3.6" fill="#4a4a4a" text-anchor="end" transform="rotate(-45 672.76 141.5)" stroke="#4a4a4a" stroke-width="0.12">Papillary</text>
<text x="471.9" y="24.3" font-size="5.2" fill="#111" text-anchor="start"  stroke="#111" stroke-width="0.08">Cancer: BLCA</text>
<text x="464" y="86" font-size="4.37" fill="#222" text-anchor="middle" transform="rotate(-90 464 86)" dominant-baseline="central" stroke="#222" stroke-width="0.12">Gene expression</text>
<text x="494" y="163.4" font-size="5.55" fill="#000" text-anchor="start"  stroke="#000" stroke-width="0.12">Diagnosis_subtype</text>
<line x1="550.1" y1="158.5" x2="550.1" y2="164.3" stroke="#333333" stroke-width="0.5"/>
<rect x="547.3" y="159.3" width="5.6" height="4.2" fill="#F8766D" stroke="#333333" stroke-width="0.5"/>
<line x1="547.3" y1="161.4" x2="552.9" y2="161.4" stroke="#333333" stroke-width="0.8"/>
<text x="555.2" y="163.42" font-size="5.6" fill="#000" text-anchor="start"  stroke="#000" stroke-width="0.12">Non−Papillary</text>
<line x1="598.9" y1="158.5" x2="598.9" y2="164.3" stroke="#333333" stroke-width="0.5"/>
<rect x="596.1" y="159.3" width="5.6" height="4.2" fill="#00BFC4" stroke="#333333" stroke-width="0.5"/>
<line x1="596.1" y1="161.4" x2="601.7" y2="161.4" stroke="#333333" stroke-width="0.8"/>
<text x="604.5" y="163.42" font-size="5.6" fill="#000" text-anchor="start"  stroke="#000" stroke-width="0.12">Papillary</text>
<line x1="95.9" y1="280.3" x2="97.5" y2="280.3" stroke="#333333" stroke-width="0.5"/>
<text x="95.3" y="281.49" font-size="3.3" fill="#555555" text-anchor="end"  stroke="#555555" stroke-width="0.12">0</text>
<line x1="95.9" y1="256.76" x2="97.5" y2="256.76" stroke="#333333" stroke-width="0.5"/>
<text x="95.3" y="257.95" font-size="3.3" fill="#555555" text-anchor="end"  stroke="#555555" stroke-width="0.12">2</text>
<line x1="95.9" y1="233.22" x2="97.5" y2="233.22" stroke="#333333" stroke-width="0.5"/>
<text x="95.3" y="234.41" font-size="3.3" fill="#555555" text-anchor="end"  stroke="#555555" stroke-width="0.12">4</text>
<line x1="95.9" y1="209.68" x2="97.5" y2="209.68" stroke="#333333" stroke-width="0.5"/>
<text x="95.3" y="210.87" font-size="3.3" fill="#555555" text-anchor="end"  stroke="#555555" stroke-width="0.12">6</text>
<line x1="95.9" y1="186.14" x2="97.5" y2="186.14" stroke="#333333" stroke-width="0.5"/>
<text x="95.3" y="187.33" font-size="3.3" fill="#555555" text-anchor="end"  stroke="#555555" stroke-width="0.12">8</text>
<line x1="97.5" y1="268.53" x2="121.7" y2="268.53" stroke="#f4f4f4" stroke-width="0.35"/>
<line x1="97.5" y1="244.99" x2="121.7" y2="244.99" stroke="#f4f4f4" stroke-width="0.35"/>
<line x1="97.5" y1="221.45" x2="121.7" y2="221.45" stroke="#f4f4f4" stroke-width="0.35"/>
<line x1="97.5" y1="197.91" x2="121.7" y2="197.91" stroke="#f4f4f4" stroke-width="0.35"/>
<line x1="97.5" y1="280.3" x2="121.7" y2="280.3" stroke="#ebebeb" stroke-width="0.6"/>
<line x1="97.5" y1="256.76" x2="121.7" y2="256.76" stroke="#ebebeb" stroke-width="0.6"/>
<line x1="97.5" y1="233.22" x2="121.7" y2="233.22" stroke="#ebebeb" stroke-width="0.6"/>
<line x1="97.5" y1="209.68" x2="121.7" y2="209.68" stroke="#ebebeb" stroke-width="0.6"/>
<line x1="97.5" y1="186.14" x2="121.7" y2="186.14" stroke="#ebebeb" stroke-width="0.6"/>
<line x1="102.04" y1="180.5" x2="102.04" y2="284.3" stroke="#ebebeb" stroke-width="0.6"/>
<line x1="109.6" y1="180.5" x2="109.6" y2="284.3" stroke="#ebebeb" stroke-width="0.6"/>
<line x1="117.16" y1="180.5" x2="117.16" y2="284.3" stroke="#ebebeb" stroke-width="0.6"/>
<line x1="102.04" y1="207.91" x2="102.04" y2="231.45" stroke="#333333" stroke-width="0.8"/>
<line x1="102.04" y1="247.46" x2="102.04" y2="266.29" stroke="#333333" stroke-width="0.8"/>
<rect x="99.2" y="231.45" width="5.67" height="16.01" fill="#F8766D" stroke="#333333" stroke-width="0.5"/>
<line x1="99.2" y1="240.52" x2="104.87" y2="240.52" stroke="#333333" stroke-width="1"/>
<circle cx="102.04" cy="196.97" r="0.95" fill="#1a1a1a"/>
<circle cx="102.04" cy="204.5" r="0.95" fill="#1a1a1a"/>
<line x1="109.6" y1="209.92" x2="109.6" y2="230.87" stroke="#333333" stroke-width="0.8"/>
<line x1="109.6" y1="244.52" x2="109.6" y2="265.82" stroke="#333333" stroke-width="0.8"/>
<rect x="106.76" y="230.87" width="5.67" height="13.65" fill="#00BA38" stroke="#333333" stroke-width="0.5"/>
<line x1="106.76" y1="236.28" x2="112.44" y2="236.28" stroke="#333333" stroke-width="1"/>
<circle cx="109.6" cy="266.76" r="0.95" fill="#1a1a1a"/>
<circle cx="109.6" cy="267.59" r="0.95" fill="#1a1a1a"/>
<circle cx="109.6" cy="272.88" r="0.95" fill="#1a1a1a"/>
<line x1="117.16" y1="206.97" x2="117.16" y2="228.28" stroke="#333333" stroke-width="0.8"/>
<line x1="117.16" y1="243.93" x2="117.16" y2="265.23" stroke="#333333" stroke-width="0.8"/>
<rect x="114.33" y="228.28" width="5.67" height="15.65" fill="#619CFF" stroke="#333333" stroke-width="0.5"/>
<line x1="114.33" y1="235.93" x2="120" y2="235.93" stroke="#333333" stroke-width="1"/>
<circle cx="117.16" cy="198.38" r="0.95" fill="#1a1a1a"/>
<rect x="97.5" y="174" width="24.2" height="6.5" fill="#d9d9d9"/>
<line x1="97.5" y1="284.3" x2="121.7" y2="284.3" stroke="#aaaaaa" stroke-width="0.9"/>
<line x1="97.5" y1="180.5" x2="121.7" y2="180.5" stroke="#999999" stroke-width="0.8"/>
<line x1="121.7" y1="174" x2="121.7" y2="284.3" stroke="#999999" stroke-width="0.9"/>
<line x1="97.5" y1="174" x2="97.5" y2="284.3" stroke="#dddddd" stroke-width="0.9"/>
<text x="109.6" y="178.55" font-size="3.6" fill="#555555" text-anchor="middle"  stroke="#555555" stroke-width="0.08">E2F1</text>
<line x1="102.04" y1="284.3" x2="102.04" y2="285.9" stroke="#333333" stroke-width="0.5"/>
<text x="104.44" y="288.9" font-size="3.6" fill="#4a4a4a" text-anchor="end" transform="rotate(-45 104.44 288.9)" stroke="#4a4a4a" stroke-width="0.12">stage I−II</text>
<line x1="109.6" y1="284.3" x2="109.6" y2="285.9" stroke="#333333" stroke-width="0.5"/>
<text x="112" y="288.9" font-size="3.6" fill="#4a4a4a" text-anchor="end" transform="rotate(-45 112 288.9)" stroke="#4a4a4a" stroke-width="0.12">stage III</text>
<line x1="117.16" y1="284.3" x2="117.16" y2="285.9" stroke="#333333" stroke-width="0.5"/>
<text x="119.56" y="288.9" font-size="3.6" fill="#4a4a4a" text-anchor="end" transform="rotate(-45 119.56 288.9)" stroke="#4a4a4a" stroke-width="0.12">stage IV</text>
<line x1="123.95" y1="268.53" x2="148.15" y2="268.53" stroke="#f4f4f4" stroke-width="0.35"/>
<line x1="123.95" y1="244.99" x2="148.15" y2="244.99" stroke="#f4f4f4" stroke-width="0.35"/>
<line x1="123.95" y1="221.45" x2="148.15" y2="221.45" stroke="#f4f4f4" stroke-width="0.35"/>
<line x1="123.95" y1="197.91" x2="148.15" y2="197.91" stroke="#f4f4f4" stroke-width="0.35"/>
<line x1="123.95" y1="280.3" x2="148.15" y2="280.3" stroke="#ebebeb" stroke-width="0.6"/>
<line x1="123.95" y1="256.76" x2="148.15" y2="256.76" stroke="#ebebeb" stroke-width="0.6"/>
<line x1="123.95" y1="233.22" x2="148.15" y2="233.22" stroke="#ebebeb" stroke-width="0.6"/>
<line x1="123.95" y1="209.68" x2="148.15" y2="209.68" stroke="#ebebeb" stroke-width="0.6"/>
<line x1="123.95" y1="186.14" x2="148.15" y2="186.14" stroke="#ebebeb" stroke-width="0.6"/>
<line x1="128.49" y1="180.5" x2="128.49" y2="284.3" stroke="#ebebeb" stroke-width="0.6"/>
<line x1="136.05" y1="180.5" x2="136.05" y2="284.3" stroke="#ebebeb" stroke-width="0.6"/>
<line x1="143.61" y1="180.5" x2="143.61" y2="284.3" stroke="#ebebeb" stroke-width="0.6"/>
<line x1="128.49" y1="241.46" x2="128.49" y2="257.47" stroke="#333333" stroke-width="0.8"/>
<line x1="128.49" y1="269.47" x2="128.49" y2="277.83" stroke="#333333" stroke-width="0.8"/>
<rect x="125.65" y="257.47" width="5.67" height="12.01" fill="#F8766D" stroke="#333333" stroke-width="0.5"/>
<line x1="125.65" y1="263.23" x2="131.32" y2="263.23" stroke="#333333" stroke-width="1"/>
<circle cx="128.49" cy="231.57" r="0.95" fill="#1a1a1a"/>
<line x1="136.05" y1="245.46" x2="136.05" y2="257.23" stroke="#333333" stroke-width="0.8"/>
<line x1="136.05" y1="268.18" x2="136.05" y2="277.83" stroke="#333333" stroke-width="0.8"/>
<rect x="133.21" y="257.23" width="5.67" height="10.95" fill="#00BA38" stroke="#333333" stroke-width="0.5"/>
<line x1="133.21" y1="262.29" x2="138.89" y2="262.29" stroke="#333333" stroke-width="1"/>
<circle cx="136.05" cy="233.93" r="0.95" fill="#1a1a1a"/>
<circle cx="136.05" cy="235.57" r="0.95" fill="#1a1a1a"/>
<circle cx="136.05" cy="239.34" r="0.95" fill="#1a1a1a"/>
<line x1="143.61" y1="239.93" x2="143.61" y2="257.23" stroke="#333333" stroke-width="0.8"/>
<line x1="143.61" y1="268.88" x2="143.61" y2="277.83" stroke="#333333" stroke-width="0.8"/>
<rect x="140.78" y="257.23" width="5.67" height="11.65" fill="#619CFF" stroke="#333333" stroke-width="0.5"/>
<line x1="140.78" y1="262.88" x2="146.45" y2="262.88" stroke="#333333" stroke-width="1"/>
<circle cx="143.61" cy="219.92" r="0.95" fill="#1a1a1a"/>
<circle cx="143.61" cy="222.04" r="0.95" fill="#1a1a1a"/>
<circle cx="143.61" cy="226.16" r="0.95" fill="#1a1a1a"/>
<circle cx="143.61" cy="231.22" r="0.95" fill="#1a1a1a"/>
<circle cx="143.61" cy="233.93" r="0.95" fill="#1a1a1a"/>
<circle cx="143.61" cy="239.34" r="0.95" fill="#1a1a1a"/>
<rect x="123.95" y="174" width="24.2" height="6.5" fill="#d9d9d9"/>
<line x1="123.95" y1="284.3" x2="148.15" y2="284.3" stroke="#aaaaaa" stroke-width="0.9"/>
<line x1="123.95" y1="180.5" x2="148.15" y2="180.5" stroke="#999999" stroke-width="0.8"/>
<line x1="148.15" y1="174" x2="148.15" y2="284.3" stroke="#999999" stroke-width="0.9"/>
<line x1="123.95" y1="174" x2="123.95" y2="284.3" stroke="#dddddd" stroke-width="0.9"/>
<text x="136.05" y="178.55" font-size="3.6" fill="#555555" text-anchor="middle"  stroke="#555555" stroke-width="0.08">E2F2</text>
<line x1="128.49" y1="284.3" x2="128.49" y2="285.9" stroke="#333333" stroke-width="0.5"/>
<text x="130.89" y="288.9" font-size="3.6" fill="#4a4a4a" text-anchor="end" transform="rotate(-45 130.89 288.9)" stroke="#4a4a4a" stroke-width="0.12">stage I−II</text>
<line x1="136.05" y1="284.3" x2="136.05" y2="285.9" stroke="#333333" stroke-width="0.5"/>
<text x="138.45" y="288.9" font-size="3.6" fill="#4a4a4a" text-anchor="end" transform="rotate(-45 138.45 288.9)" stroke="#4a4a4a" stroke-width="0.12">stage III</text>
<line x1="143.61" y1="284.3" x2="143.61" y2="285.9" stroke="#333333" stroke-width="0.5"/>
<text x="146.01" y="288.9" font-size="3.6" fill="#4a4a4a" text-anchor="end" transform="rotate(-45 146.01 288.9)" stroke="#4a4a4a" stroke-width="0.12">stage IV</text>
<line x1="150.4" y1="268.53" x2="174.6" y2="268.53" stroke="#f4f4f4" stroke-width="0.35"/>
<line x1="150.4" y1="244.99" x2="174.6" y2="244.99" stroke="#f4f4f4" stroke-width="0.35"/>
<line x1="150.4" y1="221.45" x2="174.6" y2="221.45" stroke="#f4f4f4" stroke-width="0.35"/>
<line x1="150.4" y1="197.91" x2="174.6" y2="197.91" stroke="#f4f4f4" stroke-width="0.35"/>
<line x1="150.4" y1="280.3" x2="174.6" y2="280.3" stroke="#ebebeb" stroke-width="0.6"/>
<line x1="150.4" y1="256.76" x2="174.6" y2="256.76" stroke="#ebebeb" stroke-width="0.6"/>
<line x1="150.4" y1="233.22" x2="174.6" y2="233.22" stroke="#ebebeb" stroke-width="0.6"/>
<line x1="150.4" y1="209.68" x2="174.6" y2="209.68" stroke="#ebebeb" stroke-width="0.6"/>
<line x1="150.4" y1="186.14" x2="174.6" y2="186.14" stroke="#ebebeb" stroke-width="0.6"/>
<line x1="154.94" y1="180.5" x2="154.94" y2="284.3" stroke="#ebebeb" stroke-width="0.6"/>
<line x1="162.5" y1="180.5" x2="162.5" y2="284.3" stroke="#ebebeb" stroke-width="0.6"/>
<line x1="170.06" y1="180.5" x2="170.06" y2="284.3" stroke="#ebebeb" stroke-width="0.6"/>
<line x1="154.94" y1="222.98" x2="154.94" y2="242.28" stroke="#333333" stroke-width="0.8"/>
<line x1="154.94" y1="251.46" x2="154.94" y2="262.88" stroke="#333333" stroke-width="0.8"/>
<rect x="152.1" y="242.28" width="5.67" height="9.18" fill="#F8766D" stroke="#333333" stroke-width="0.5"/>
<line x1="152.1" y1="246.87" x2="157.77" y2="246.87" stroke="#333333" stroke-width="1"/>
<circle cx="154.94" cy="222.63" r="0.95" fill="#1a1a1a"/>
<circle cx="154.94" cy="221.34" r="0.95" fill="#1a1a1a"/>
<circle cx="154.94" cy="220.06" r="0.95" fill="#1a1a1a"/>
<circle cx="154.94" cy="218.78" r="0.95" fill="#1a1a1a"/>
<circle cx="154.94" cy="217.49" r="0.95" fill="#1a1a1a"/>
<circle cx="154.94" cy="216.21" r="0.95" fill="#1a1a1a"/>
<circle cx="154.94" cy="214.92" r="0.95" fill="#1a1a1a"/>
<circle cx="154.94" cy="213.64" r="0.95" fill="#1a1a1a"/>
<circle cx="154.94" cy="212.36" r="0.95" fill="#1a1a1a"/>
<circle cx="154.94" cy="211.07" r="0.95" fill="#1a1a1a"/>
<circle cx="154.94" cy="209.79" r="0.95" fill="#1a1a1a"/>
<circle cx="154.94" cy="208.5" r="0.95" fill="#1a1a1a"/>
<line x1="162.5" y1="224.86" x2="162.5" y2="241.93" stroke="#333333" stroke-width="0.8"/>
<line x1="162.5" y1="252.29" x2="162.5" y2="266.88" stroke="#333333" stroke-width="0.8"/>
<rect x="159.66" y="241.93" width="5.67" height="10.36" fill="#00BA38" stroke="#333333" stroke-width="0.5"/>
<line x1="159.66" y1="247.46" x2="165.34" y2="247.46" stroke="#333333" stroke-width="1"/>
<circle cx="162.5" cy="223.8" r="0.95" fill="#1a1a1a"/>
<circle cx="162.5" cy="221.79" r="0.95" fill="#1a1a1a"/>
<circle cx="162.5" cy="219.77" r="0.95" fill="#1a1a1a"/>
<circle cx="162.5" cy="217.75" r="0.95" fill="#1a1a1a"/>
<circle cx="162.5" cy="215.73" r="0.95" fill="#1a1a1a"/>
<circle cx="162.5" cy="213.72" r="0.95" fill="#1a1a1a"/>
<circle cx="162.5" cy="211.7" r="0.95" fill="#1a1a1a"/>
<circle cx="162.5" cy="209.68" r="0.95" fill="#1a1a1a"/>
<circle cx="162.5" cy="202.15" r="0.95" fill="#1a1a1a"/>
<circle cx="162.5" cy="189.67" r="0.95" fill="#1a1a1a"/>
<line x1="170.06" y1="226.86" x2="170.06" y2="243.46" stroke="#333333" stroke-width="0.8"/>
<line x1="170.06" y1="253.46" x2="170.06" y2="264.88" stroke="#333333" stroke-width="0.8"/>
<rect x="167.23" y="243.46" width="5.67" height="10" fill="#619CFF" stroke="#333333" stroke-width="0.5"/>
<line x1="167.23" y1="248.29" x2="172.9" y2="248.29" stroke="#333333" stroke-width="1"/>
<circle cx="170.06" cy="226.16" r="0.95" fill="#1a1a1a"/>
<circle cx="170.06" cy="224.77" r="0.95" fill="#1a1a1a"/>
<circle cx="170.06" cy="223.38" r="0.95" fill="#1a1a1a"/>
<circle cx="170.06" cy="221.99" r="0.95" fill="#1a1a1a"/>
<circle cx="170.06" cy="220.59" r="0.95" fill="#1a1a1a"/>
<circle cx="170.06" cy="219.2" r="0.95" fill="#1a1a1a"/>
<circle cx="170.06" cy="217.81" r="0.95" fill="#1a1a1a"/>
<circle cx="170.06" cy="216.42" r="0.95" fill="#1a1a1a"/>
<circle cx="170.06" cy="215.03" r="0.95" fill="#1a1a1a"/>
<circle cx="170.06" cy="213.64" r="0.95" fill="#1a1a1a"/>
<circle cx="170.06" cy="212.25" r="0.95" fill="#1a1a1a"/>
<circle cx="170.06" cy="210.86" r="0.95" fill="#1a1a1a"/>
<circle cx="170.06" cy="184.96" r="0.95" fill="#1a1a1a"/>
<rect x="150.4" y="174" width="24.2" height="6.5" fill="#d9d9d9"/>
<line x1="150.4" y1="284.3" x2="174.6" y2="284.3" stroke="#aaaaaa" stroke-width="0.9"/>
<line x1="150.4" y1="180.5" x2="174.6" y2="180.5" stroke="#999999" stroke-width="0.8"/>
<line x1="174.6" y1="174" x2="174.6" y2="284.3" stroke="#999999" stroke-width="0.9"/>
<line x1="150.4" y1="174" x2="150.4" y2="284.3" stroke="#dddddd" stroke-width="0.9"/>
<text x="162.5" y="178.55" font-size="3.6" fill="#555555" text-anchor="middle"  stroke="#555555" stroke-width="0.08">E2F3</text>
<line x1="154.94" y1="284.3" x2="154.94" y2="285.9" stroke="#333333" stroke-width="0.5"/>
<text x="157.34" y="288.9" font-size="3.6" fill="#4a4a4a" text-anchor="end" transform="rotate(-45 157.34 288.9)" stroke="#4a4a4a" stroke-width="0.12">stage I−II</text>
<line x1="162.5" y1="284.3" x2="162.5" y2="285.9" stroke="#333333" stroke-width="0.5"/>
<text x="164.9" y="288.9" font-size="3.6" fill="#4a4a4a" text-anchor="end" transform="rotate(-45 164.9 288.9)" stroke="#4a4a4a" stroke-width="0.12">stage III</text>
<line x1="170.06" y1="284.3" x2="170.06" y2="285.9" stroke="#333333" stroke-width="0.5"/>
<text x="172.46" y="288.9" font-size="3.6" fill="#4a4a4a" text-anchor="end" transform="rotate(-45 172.46 288.9)" stroke="#4a4a4a" stroke-width="0.12">stage IV</text>
<line x1="176.85" y1="268.53" x2="201.05" y2="268.53" stroke="#f4f4f4" stroke-width="0.35"/>
<line x1="176.85" y1="244.99" x2="201.05" y2="244.99" stroke="#f4f4f4" stroke-width="0.35"/>
<line x1="176.85" y1="221.45" x2="201.05" y2="221.45" stroke="#f4f4f4" stroke-width="0.35"/>
<line x1="176.85" y1="197.91" x2="201.05" y2="197.91" stroke="#f4f4f4" stroke-width="0.35"/>
<line x1="176.85" y1="280.3" x2="201.05" y2="280.3" stroke="#ebebeb" stroke-width="0.6"/>
<line x1="176.85" y1="256.76" x2="201.05" y2="256.76" stroke="#ebebeb" stroke-width="0.6"/>
<line x1="176.85" y1="233.22" x2="201.05" y2="233.22" stroke="#ebebeb" stroke-width="0.6"/>
<line x1="176.85" y1="209.68" x2="201.05" y2="209.68" stroke="#ebebeb" stroke-width="0.6"/>
<line x1="176.85" y1="186.14" x2="201.05" y2="186.14" stroke="#ebebeb" stroke-width="0.6"/>
<line x1="181.39" y1="180.5" x2="181.39" y2="284.3" stroke="#ebebeb" stroke-width="0.6"/>
<line x1="188.95" y1="180.5" x2="188.95" y2="284.3" stroke="#ebebeb" stroke-width="0.6"/>
<line x1="196.51" y1="180.5" x2="196.51" y2="284.3" stroke="#ebebeb" stroke-width="0.6"/>
<line x1="181.39" y1="212.98" x2="181.39" y2="223.57" stroke="#333333" stroke-width="0.8"/>
<line x1="181.39" y1="229.45" x2="181.39" y2="237.93" stroke="#333333" stroke-width="0.8"/>
<rect x="178.55" y="223.57" width="5.67" height="5.88" fill="#F8766D" stroke="#333333" stroke-width="0.5"/>
<line x1="178.55" y1="226.28" x2="184.22" y2="226.28" stroke="#333333" stroke-width="1"/>
<circle cx="181.39" cy="212.39" r="0.95" fill="#1a1a1a"/>
<circle cx="181.39" cy="241.46" r="0.95" fill="#1a1a1a"/>
<line x1="188.95" y1="209.92" x2="188.95" y2="221.92" stroke="#333333" stroke-width="0.8"/>
<line x1="188.95" y1="228.28" x2="188.95" y2="233.93" stroke="#333333" stroke-width="0.8"/>
<rect x="186.11" y="221.92" width="5.67" height="6.36" fill="#00BA38" stroke="#333333" stroke-width="0.5"/>
<line x1="186.11" y1="225.33" x2="191.79" y2="225.33" stroke="#333333" stroke-width="1"/>
<circle cx="188.95" cy="208.5" r="0.95" fill="#1a1a1a"/>
<circle cx="188.95" cy="236.75" r="0.95" fill="#1a1a1a"/>
<circle cx="188.95" cy="238.52" r="0.95" fill="#1a1a1a"/>
<circle cx="188.95" cy="240.28" r="0.95" fill="#1a1a1a"/>
<circle cx="188.95" cy="241.46" r="0.95" fill="#1a1a1a"/>
<line x1="196.51" y1="212.98" x2="196.51" y2="223.57" stroke="#333333" stroke-width="0.8"/>
<line x1="196.51" y1="230.87" x2="196.51" y2="240.52" stroke="#333333" stroke-width="0.8"/>
<rect x="193.68" y="223.57" width="5.67" height="7.3" fill="#619CFF" stroke="#333333" stroke-width="0.5"/>
<line x1="193.68" y1="226.86" x2="199.35" y2="226.86" stroke="#333333" stroke-width="1"/>
<circle cx="196.51" cy="207.56" r="0.95" fill="#1a1a1a"/>
<circle cx="196.51" cy="208.5" r="0.95" fill="#1a1a1a"/>
<rect x="176.85" y="174" width="24.2" height="6.5" fill="#d9d9d9"/>
<line x1="176.85" y1="284.3" x2="201.05" y2="284.3" stroke="#aaaaaa" stroke-width="0.9"/>
<line x1="176.85" y1="180.5" x2="201.05" y2="180.5" stroke="#999999" stroke-width="0.8"/>
<line x1="201.05" y1="174" x2="201.05" y2="284.3" stroke="#999999" stroke-width="0.9"/>
<line x1="176.85" y1="174" x2="176.85" y2="284.3" stroke="#dddddd" stroke-width="0.9"/>
<text x="188.95" y="178.55" font-size="3.6" fill="#555555" text-anchor="middle"  stroke="#555555" stroke-width="0.08">E2F4*</text>
<line x1="181.39" y1="284.3" x2="181.39" y2="285.9" stroke="#333333" stroke-width="0.5"/>
<text x="183.79" y="288.9" font-size="3.6" fill="#4a4a4a" text-anchor="end" transform="rotate(-45 183.79 288.9)" stroke="#4a4a4a" stroke-width="0.12">stage I−II</text>
<line x1="188.95" y1="284.3" x2="188.95" y2="285.9" stroke="#333333" stroke-width="0.5"/>
<text x="191.35" y="288.9" font-size="3.6" fill="#4a4a4a" text-anchor="end" transform="rotate(-45 191.35 288.9)" stroke="#4a4a4a" stroke-width="0.12">stage III</text>
<line x1="196.51" y1="284.3" x2="196.51" y2="285.9" stroke="#333333" stroke-width="0.5"/>
<text x="198.91" y="288.9" font-size="3.6" fill="#4a4a4a" text-anchor="end" transform="rotate(-45 198.91 288.9)" stroke="#4a4a4a" stroke-width="0.12">stage IV</text>
<line x1="203.3" y1="268.53" x2="227.5" y2="268.53" stroke="#f4f4f4" stroke-width="0.35"/>
<line x1="203.3" y1="244.99" x2="227.5" y2="244.99" stroke="#f4f4f4" stroke-width="0.35"/>
<line x1="203.3" y1="221.45" x2="227.5" y2="221.45" stroke="#f4f4f4" stroke-width="0.35"/>
<line x1="203.3" y1="197.91" x2="227.5" y2="197.91" stroke="#f4f4f4" stroke-width="0.35"/>
<line x1="203.3" y1="280.3" x2="227.5" y2="280.3" stroke="#ebebeb" stroke-width="0.6"/>
<line x1="203.3" y1="256.76" x2="227.5" y2="256.76" stroke="#ebebeb" stroke-width="0.6"/>
<line x1="203.3" y1="233.22" x2="227.5" y2="233.22" stroke="#ebebeb" stroke-width="0.6"/>
<line x1="203.3" y1="209.68" x2="227.5" y2="209.68" stroke="#ebebeb" stroke-width="0.6"/>
<line x1="203.3" y1="186.14" x2="227.5" y2="186.14" stroke="#ebebeb" stroke-width="0.6"/>
<line x1="207.84" y1="180.5" x2="207.84" y2="284.3" stroke="#ebebeb" stroke-width="0.6"/>
<line x1="215.4" y1="180.5" x2="215.4" y2="284.3" stroke="#ebebeb" stroke-width="0.6"/>
<line x1="222.96" y1="180.5" x2="222.96" y2="284.3" stroke="#ebebeb" stroke-width="0.6"/>
<line x1="207.84" y1="245.23" x2="207.84" y2="257.47" stroke="#333333" stroke-width="0.8"/>
<line x1="207.84" y1="267.82" x2="207.84" y2="276.77" stroke="#333333" stroke-width="0.8"/>
<rect x="205" y="257.47" width="5.67" height="10.36" fill="#F8766D" stroke="#333333" stroke-width="0.5"/>
<line x1="205" y1="263.23" x2="210.67" y2="263.23" stroke="#333333" stroke-width="1"/>
<line x1="215.4" y1="249.7" x2="215.4" y2="260.41" stroke="#333333" stroke-width="0.8"/>
<line x1="215.4" y1="269.47" x2="215.4" y2="276.42" stroke="#333333" stroke-width="0.8"/>
<rect x="212.56" y="260.41" width="5.67" height="9.06" fill="#00BA38" stroke="#333333" stroke-width="0.5"/>
<line x1="212.56" y1="263.82" x2="218.24" y2="263.82" stroke="#333333" stroke-width="1"/>
<circle cx="215.4" cy="237.46" r="0.95" fill="#1a1a1a"/>
<circle cx="215.4" cy="242.28" r="0.95" fill="#1a1a1a"/>
<circle cx="215.4" cy="245.23" r="0.95" fill="#1a1a1a"/>
<circle cx="215.4" cy="246.17" r="0.95" fill="#1a1a1a"/>
<line x1="222.96" y1="246.87" x2="222.96" y2="259.82" stroke="#333333" stroke-width="0.8"/>
<line x1="222.96" y1="269.47" x2="222.96" y2="277.48" stroke="#333333" stroke-width="0.8"/>
<rect x="220.13" y="259.82" width="5.67" height="9.65" fill="#619CFF" stroke="#333333" stroke-width="0.5"/>
<line x1="220.13" y1="264.41" x2="225.8" y2="264.41" stroke="#333333" stroke-width="1"/>
<circle cx="222.96" cy="243.93" r="0.95" fill="#1a1a1a"/>
<rect x="203.3" y="174" width="24.2" height="6.5" fill="#d9d9d9"/>
<line x1="203.3" y1="284.3" x2="227.5" y2="284.3" stroke="#aaaaaa" stroke-width="0.9"/>
<line x1="203.3" y1="180.5" x2="227.5" y2="180.5" stroke="#999999" stroke-width="0.8"/>
<line x1="227.5" y1="174" x2="227.5" y2="284.3" stroke="#999999" stroke-width="0.9"/>
<line x1="203.3" y1="174" x2="203.3" y2="284.3" stroke="#dddddd" stroke-width="0.9"/>
<text x="215.4" y="178.55" font-size="3.6" fill="#555555" text-anchor="middle"  stroke="#555555" stroke-width="0.08">E2F5</text>
<line x1="207.84" y1="284.3" x2="207.84" y2="285.9" stroke="#333333" stroke-width="0.5"/>
<text x="210.24" y="288.9" font-size="3.6" fill="#4a4a4a" text-anchor="end" transform="rotate(-45 210.24 288.9)" stroke="#4a4a4a" stroke-width="0.12">stage I−II</text>
<line x1="215.4" y1="284.3" x2="215.4" y2="285.9" stroke="#333333" stroke-width="0.5"/>
<text x="217.8" y="288.9" font-size="3.6" fill="#4a4a4a" text-anchor="end" transform="rotate(-45 217.8 288.9)" stroke="#4a4a4a" stroke-width="0.12">stage III</text>
<line x1="222.96" y1="284.3" x2="222.96" y2="285.9" stroke="#333333" stroke-width="0.5"/>
<text x="225.36" y="288.9" font-size="3.6" fill="#4a4a4a" text-anchor="end" transform="rotate(-45 225.36 288.9)" stroke="#4a4a4a" stroke-width="0.12">stage IV</text>
<line x1="229.75" y1="268.53" x2="253.95" y2="268.53" stroke="#f4f4f4" stroke-width="0.35"/>
<line x1="229.75" y1="244.99" x2="253.95" y2="244.99" stroke="#f4f4f4" stroke-width="0.35"/>
<line x1="229.75" y1="221.45" x2="253.95" y2="221.45" stroke="#f4f4f4" stroke-width="0.35"/>
<line x1="229.75" y1="197.91" x2="253.95" y2="197.91" stroke="#f4f4f4" stroke-width="0.35"/>
<line x1="229.75" y1="280.3" x2="253.95" y2="280.3" stroke="#ebebeb" stroke-width="0.6"/>
<line x1="229.75" y1="256.76" x2="253.95" y2="256.76" stroke="#ebebeb" stroke-width="0.6"/>
<line x1="229.75" y1="233.22" x2="253.95" y2="233.22" stroke="#ebebeb" stroke-width="0.6"/>
<line x1="229.75" y1="209.68" x2="253.95" y2="209.68" stroke="#ebebeb" stroke-width="0.6"/>
<line x1="229.75" y1="186.14" x2="253.95" y2="186.14" stroke="#ebebeb" stroke-width="0.6"/>
<line x1="234.29" y1="180.5" x2="234.29" y2="284.3" stroke="#ebebeb" stroke-width="0.6"/>
<line x1="241.85" y1="180.5" x2="241.85" y2="284.3" stroke="#ebebeb" stroke-width="0.6"/>
<line x1="249.41" y1="180.5" x2="249.41" y2="284.3" stroke="#ebebeb" stroke-width="0.6"/>
<line x1="234.29" y1="246.87" x2="234.29" y2="254.52" stroke="#333333" stroke-width="0.8"/>
<line x1="234.29" y1="260.29" x2="234.29" y2="266.88" stroke="#333333" stroke-width="0.8"/>
<rect x="231.45" y="254.52" width="5.67" height="5.77" fill="#F8766D" stroke="#333333" stroke-width="0.5"/>
<line x1="231.45" y1="257.23" x2="237.12" y2="257.23" stroke="#333333" stroke-width="1"/>
<circle cx="234.29" cy="243.93" r="0.95" fill="#1a1a1a"/>
<circle cx="234.29" cy="245.58" r="0.95" fill="#1a1a1a"/>
<line x1="241.85" y1="246.87" x2="241.85" y2="254.29" stroke="#333333" stroke-width="0.8"/>
<line x1="241.85" y1="259.47" x2="241.85" y2="265.82" stroke="#333333" stroke-width="0.8"/>
<rect x="239.01" y="254.29" width="5.67" height="5.18" fill="#00BA38" stroke="#333333" stroke-width="0.5"/>
<line x1="239.01" y1="256.52" x2="244.69" y2="256.52" stroke="#333333" stroke-width="1"/>
<circle cx="241.85" cy="242.4" r="0.95" fill="#1a1a1a"/>
<circle cx="241.85" cy="244.28" r="0.95" fill="#1a1a1a"/>
<circle cx="241.85" cy="268.18" r="0.95" fill="#1a1a1a"/>
<circle cx="241.85" cy="269.82" r="0.95" fill="#1a1a1a"/>
<line x1="249.41" y1="246.4" x2="249.41" y2="253.94" stroke="#333333" stroke-width="0.8"/>
<line x1="249.41" y1="259.23" x2="249.41" y2="265.23" stroke="#333333" stroke-width="0.8"/>
<rect x="246.58" y="253.94" width="5.67" height="5.3" fill="#619CFF" stroke="#333333" stroke-width="0.5"/>
<line x1="246.58" y1="256.52" x2="252.25" y2="256.52" stroke="#333333" stroke-width="1"/>
<rect x="229.75" y="174" width="24.2" height="6.5" fill="#d9d9d9"/>
<line x1="229.75" y1="284.3" x2="253.95" y2="284.3" stroke="#aaaaaa" stroke-width="0.9"/>
<line x1="229.75" y1="180.5" x2="253.95" y2="180.5" stroke="#999999" stroke-width="0.8"/>
<line x1="253.95" y1="174" x2="253.95" y2="284.3" stroke="#999999" stroke-width="0.9"/>
<line x1="229.75" y1="174" x2="229.75" y2="284.3" stroke="#dddddd" stroke-width="0.9"/>
<text x="241.85" y="178.55" font-size="3.6" fill="#555555" text-anchor="middle"  stroke="#555555" stroke-width="0.08">E2F6</text>
<line x1="234.29" y1="284.3" x2="234.29" y2="285.9" stroke="#333333" stroke-width="0.5"/>
<text x="236.69" y="288.9" font-size="3.6" fill="#4a4a4a" text-anchor="end" transform="rotate(-45 236.69 288.9)" stroke="#4a4a4a" stroke-width="0.12">stage I−II</text>
<line x1="241.85" y1="284.3" x2="241.85" y2="285.9" stroke="#333333" stroke-width="0.5"/>
<text x="244.25" y="288.9" font-size="3.6" fill="#4a4a4a" text-anchor="end" transform="rotate(-45 244.25 288.9)" stroke="#4a4a4a" stroke-width="0.12">stage III</text>
<line x1="249.41" y1="284.3" x2="249.41" y2="285.9" stroke="#333333" stroke-width="0.5"/>
<text x="251.81" y="288.9" font-size="3.6" fill="#4a4a4a" text-anchor="end" transform="rotate(-45 251.81 288.9)" stroke="#4a4a4a" stroke-width="0.12">stage IV</text>
<line x1="256.2" y1="268.53" x2="280.4" y2="268.53" stroke="#f4f4f4" stroke-width="0.35"/>
<line x1="256.2" y1="244.99" x2="280.4" y2="244.99" stroke="#f4f4f4" stroke-width="0.35"/>
<line x1="256.2" y1="221.45" x2="280.4" y2="221.45" stroke="#f4f4f4" stroke-width="0.35"/>
<line x1="256.2" y1="197.91" x2="280.4" y2="197.91" stroke="#f4f4f4" stroke-width="0.35"/>
<line x1="256.2" y1="280.3" x2="280.4" y2="280.3" stroke="#ebebeb" stroke-width="0.6"/>
<line x1="256.2" y1="256.76" x2="280.4" y2="256.76" stroke="#ebebeb" stroke-width="0.6"/>
<line x1="256.2" y1="233.22" x2="280.4" y2="233.22" stroke="#ebebeb" stroke-width="0.6"/>
<line x1="256.2" y1="209.68" x2="280.4" y2="209.68" stroke="#ebebeb" stroke-width="0.6"/>
<line x1="256.2" y1="186.14" x2="280.4" y2="186.14" stroke="#ebebeb" stroke-width="0.6"/>
<line x1="260.74" y1="180.5" x2="260.74" y2="284.3" stroke="#ebebeb" stroke-width="0.6"/>
<line x1="268.3" y1="180.5" x2="268.3" y2="284.3" stroke="#ebebeb" stroke-width="0.6"/>
<line x1="275.86" y1="180.5" x2="275.86" y2="284.3" stroke="#ebebeb" stroke-width="0.6"/>
<line x1="260.74" y1="244.99" x2="260.74" y2="259.82" stroke="#333333" stroke-width="0.8"/>
<line x1="260.74" y1="271.24" x2="260.74" y2="277.36" stroke="#333333" stroke-width="0.8"/>
<rect x="257.9" y="259.82" width="5.67" height="11.42" fill="#F8766D" stroke="#333333" stroke-width="0.5"/>
<line x1="257.9" y1="265.47" x2="263.57" y2="265.47" stroke="#333333" stroke-width="1"/>
<circle cx="260.74" cy="233.57" r="0.95" fill="#1a1a1a"/>
<circle cx="260.74" cy="242.28" r="0.95" fill="#1a1a1a"/>
<line x1="268.3" y1="241.93" x2="268.3" y2="258.88" stroke="#333333" stroke-width="0.8"/>
<line x1="268.3" y1="270.88" x2="268.3" y2="278.77" stroke="#333333" stroke-width="0.8"/>
<rect x="265.46" y="258.88" width="5.67" height="12.01" fill="#00BA38" stroke="#333333" stroke-width="0.5"/>
<line x1="265.46" y1="265.47" x2="271.14" y2="265.47" stroke="#333333" stroke-width="1"/>
<circle cx="268.3" cy="229.57" r="0.95" fill="#1a1a1a"/>
<line x1="275.86" y1="246.05" x2="275.86" y2="261.23" stroke="#333333" stroke-width="0.8"/>
<line x1="275.86" y1="272.77" x2="275.86" y2="277.83" stroke="#333333" stroke-width="0.8"/>
<rect x="273.03" y="261.23" width="5.67" height="11.53" fill="#619CFF" stroke="#333333" stroke-width="0.5"/>
<line x1="273.03" y1="266.88" x2="278.7" y2="266.88" stroke="#333333" stroke-width="1"/>
<circle cx="275.86" cy="237.46" r="0.95" fill="#1a1a1a"/>
<circle cx="275.86" cy="242.4" r="0.95" fill="#1a1a1a"/>
<rect x="256.2" y="174" width="24.2" height="6.5" fill="#d9d9d9"/>
<line x1="256.2" y1="284.3" x2="280.4" y2="284.3" stroke="#aaaaaa" stroke-width="0.9"/>
<line x1="256.2" y1="180.5" x2="280.4" y2="180.5" stroke="#999999" stroke-width="0.8"/>
<line x1="280.4" y1="174" x2="280.4" y2="284.3" stroke="#999999" stroke-width="0.9"/>
<line x1="256.2" y1="174" x2="256.2" y2="284.3" stroke="#dddddd" stroke-width="0.9"/>
<text x="268.3" y="178.55" font-size="3.6" fill="#555555" text-anchor="middle"  stroke="#555555" stroke-width="0.08">E2F7</text>
<line x1="260.74" y1="284.3" x2="260.74" y2="285.9" stroke="#333333" stroke-width="0.5"/>
<text x="263.14" y="288.9" font-size="3.6" fill="#4a4a4a" text-anchor="end" transform="rotate(-45 263.14 288.9)" stroke="#4a4a4a" stroke-width="0.12">stage I−II</text>
<line x1="268.3" y1="284.3" x2="268.3" y2="285.9" stroke="#333333" stroke-width="0.5"/>
<text x="270.7" y="288.9" font-size="3.6" fill="#4a4a4a" text-anchor="end" transform="rotate(-45 270.7 288.9)" stroke="#4a4a4a" stroke-width="0.12">stage III</text>
<line x1="275.86" y1="284.3" x2="275.86" y2="285.9" stroke="#333333" stroke-width="0.5"/>
<text x="278.26" y="288.9" font-size="3.6" fill="#4a4a4a" text-anchor="end" transform="rotate(-45 278.26 288.9)" stroke="#4a4a4a" stroke-width="0.12">stage IV</text>
<line x1="282.65" y1="268.53" x2="306.85" y2="268.53" stroke="#f4f4f4" stroke-width="0.35"/>
<line x1="282.65" y1="244.99" x2="306.85" y2="244.99" stroke="#f4f4f4" stroke-width="0.35"/>
<line x1="282.65" y1="221.45" x2="306.85" y2="221.45" stroke="#f4f4f4" stroke-width="0.35"/>
<line x1="282.65" y1="197.91" x2="306.85" y2="197.91" stroke="#f4f4f4" stroke-width="0.35"/>
<line x1="282.65" y1="280.3" x2="306.85" y2="280.3" stroke="#ebebeb" stroke-width="0.6"/>
<line x1="282.65" y1="256.76" x2="306.85" y2="256.76" stroke="#ebebeb" stroke-width="0.6"/>
<line x1="282.65" y1="233.22" x2="306.85" y2="233.22" stroke="#ebebeb" stroke-width="0.6"/>
<line x1="282.65" y1="209.68" x2="306.85" y2="209.68" stroke="#ebebeb" stroke-width="0.6"/>
<line x1="282.65" y1="186.14" x2="306.85" y2="186.14" stroke="#ebebeb" stroke-width="0.6"/>
<line x1="287.19" y1="180.5" x2="287.19" y2="284.3" stroke="#ebebeb" stroke-width="0.6"/>
<line x1="294.75" y1="180.5" x2="294.75" y2="284.3" stroke="#ebebeb" stroke-width="0.6"/>
<line x1="302.31" y1="180.5" x2="302.31" y2="284.3" stroke="#ebebeb" stroke-width="0.6"/>
<line x1="287.19" y1="230.28" x2="287.19" y2="247.46" stroke="#333333" stroke-width="0.8"/>
<line x1="287.19" y1="262.88" x2="287.19" y2="275.95" stroke="#333333" stroke-width="0.8"/>
<rect x="284.35" y="247.46" width="5.67" height="15.42" fill="#F8766D" stroke="#333333" stroke-width="0.5"/>
<line x1="284.35" y1="254.29" x2="290.02" y2="254.29" stroke="#333333" stroke-width="1"/>
<circle cx="287.19" cy="223.57" r="0.95" fill="#1a1a1a"/>
<line x1="294.75" y1="239.34" x2="294.75" y2="251.93" stroke="#333333" stroke-width="0.8"/>
<line x1="294.75" y1="263.82" x2="294.75" y2="277.83" stroke="#333333" stroke-width="0.8"/>
<rect x="291.91" y="251.93" width="5.67" height="11.89" fill="#00BA38" stroke="#333333" stroke-width="0.5"/>
<line x1="291.91" y1="258.29" x2="297.59" y2="258.29" stroke="#333333" stroke-width="1"/>
<circle cx="294.75" cy="224.86" r="0.95" fill="#1a1a1a"/>
<line x1="302.31" y1="232.51" x2="302.31" y2="249.46" stroke="#333333" stroke-width="0.8"/>
<line x1="302.31" y1="264.29" x2="302.31" y2="277.83" stroke="#333333" stroke-width="0.8"/>
<rect x="299.48" y="249.46" width="5.67" height="14.83" fill="#619CFF" stroke="#333333" stroke-width="0.5"/>
<line x1="299.48" y1="257.23" x2="305.15" y2="257.23" stroke="#333333" stroke-width="1"/>
<rect x="282.65" y="174" width="24.2" height="6.5" fill="#d9d9d9"/>
<line x1="282.65" y1="284.3" x2="306.85" y2="284.3" stroke="#aaaaaa" stroke-width="0.9"/>
<line x1="282.65" y1="180.5" x2="306.85" y2="180.5" stroke="#999999" stroke-width="0.8"/>
<line x1="306.85" y1="174" x2="306.85" y2="284.3" stroke="#999999" stroke-width="0.9"/>
<line x1="282.65" y1="174" x2="282.65" y2="284.3" stroke="#dddddd" stroke-width="0.9"/>
<text x="294.75" y="178.55" font-size="3.6" fill="#555555" text-anchor="middle"  stroke="#555555" stroke-width="0.08">E2F8</text>
<line x1="287.19" y1="284.3" x2="287.19" y2="285.9" stroke="#333333" stroke-width="0.5"/>
<text x="289.59" y="288.9" font-size="3.6" fill="#4a4a4a" text-anchor="end" transform="rotate(-45 289.59 288.9)" stroke="#4a4a4a" stroke-width="0.12">stage I−II</text>
<line x1="294.75" y1="284.3" x2="294.75" y2="285.9" stroke="#333333" stroke-width="0.5"/>
<text x="297.15" y="288.9" font-size="3.6" fill="#4a4a4a" text-anchor="end" transform="rotate(-45 297.15 288.9)" stroke="#4a4a4a" stroke-width="0.12">stage III</text>
<line x1="302.31" y1="284.3" x2="302.31" y2="285.9" stroke="#333333" stroke-width="0.5"/>
<text x="304.71" y="288.9" font-size="3.6" fill="#4a4a4a" text-anchor="end" transform="rotate(-45 304.71 288.9)" stroke="#4a4a4a" stroke-width="0.12">stage IV</text>
<text x="97.5" y="170.8" font-size="5.2" fill="#111" text-anchor="start"  stroke="#111" stroke-width="0.08">Cancer: BLCA</text>
<text x="89.5" y="232" font-size="4.37" fill="#222" text-anchor="middle" transform="rotate(-90 89.5 232)" dominant-baseline="central" stroke="#222" stroke-width="0.12">Gene expression</text>
<text x="138.9" y="303.4" font-size="5.55" fill="#000" text-anchor="start"  stroke="#000" stroke-width="0.12">Stage</text>
<line x1="160.1" y1="298.5" x2="160.1" y2="304.3" stroke="#333333" stroke-width="0.5"/>
<rect x="157.3" y="299.3" width="5.6" height="4.2" fill="#F8766D" stroke="#333333" stroke-width="0.5"/>
<line x1="157.3" y1="301.4" x2="162.9" y2="301.4" stroke="#333333" stroke-width="0.8"/>
<text x="165.5" y="303.42" font-size="5.6" fill="#000" text-anchor="start"  stroke="#000" stroke-width="0.12">stage I−II</text>
<line x1="198.9" y1="298.5" x2="198.9" y2="304.3" stroke="#333333" stroke-width="0.5"/>
<rect x="196.1" y="299.3" width="5.6" height="4.2" fill="#00BA38" stroke="#333333" stroke-width="0.5"/>
<line x1="196.1" y1="301.4" x2="201.7" y2="301.4" stroke="#333333" stroke-width="0.8"/>
<text x="202.4" y="303.42" font-size="5.6" fill="#000" text-anchor="start"  stroke="#000" stroke-width="0.12">stage III</text>
<line x1="229.8" y1="298.5" x2="229.8" y2="304.3" stroke="#333333" stroke-width="0.5"/>
<rect x="227" y="299.3" width="5.6" height="4.2" fill="#619CFF" stroke="#333333" stroke-width="0.5"/>
<line x1="227" y1="301.4" x2="232.6" y2="301.4" stroke="#333333" stroke-width="0.8"/>
<text x="234.4" y="303.42" font-size="5.6" fill="#000" text-anchor="start"  stroke="#000" stroke-width="0.12">stage IV</text>
<line x1="333.3" y1="283.9" x2="334.9" y2="283.9" stroke="#333333" stroke-width="0.5"/>
<text x="332.7" y="285.09" font-size="3.3" fill="#555555" text-anchor="end"  stroke="#555555" stroke-width="0.12">0</text>
<line x1="333.3" y1="259.6" x2="334.9" y2="259.6" stroke="#333333" stroke-width="0.5"/>
<text x="332.7" y="260.79" font-size="3.3" fill="#555555" text-anchor="end"  stroke="#555555" stroke-width="0.12">2</text>
<line x1="333.3" y1="235.3" x2="334.9" y2="235.3" stroke="#333333" stroke-width="0.5"/>
<text x="332.7" y="236.49" font-size="3.3" fill="#555555" text-anchor="end"  stroke="#555555" stroke-width="0.12">4</text>
<line x1="333.3" y1="211" x2="334.9" y2="211" stroke="#333333" stroke-width="0.5"/>
<text x="332.7" y="212.19" font-size="3.3" fill="#555555" text-anchor="end"  stroke="#555555" stroke-width="0.12">6</text>
<line x1="333.3" y1="186.7" x2="334.9" y2="186.7" stroke="#333333" stroke-width="0.5"/>
<text x="332.7" y="187.89" font-size="3.3" fill="#555555" text-anchor="end"  stroke="#555555" stroke-width="0.12">8</text>
<line x1="334.9" y1="271.75" x2="359.2" y2="271.75" stroke="#f4f4f4" stroke-width="0.35"/>
<line x1="334.9" y1="247.45" x2="359.2" y2="247.45" stroke="#f4f4f4" stroke-width="0.35"/>
<line x1="334.9" y1="223.15" x2="359.2" y2="223.15" stroke="#f4f4f4" stroke-width="0.35"/>
<line x1="334.9" y1="198.85" x2="359.2" y2="198.85" stroke="#f4f4f4" stroke-width="0.35"/>
<line x1="334.9" y1="283.9" x2="359.2" y2="283.9" stroke="#ebebeb" stroke-width="0.6"/>
<line x1="334.9" y1="259.6" x2="359.2" y2="259.6" stroke="#ebebeb" stroke-width="0.6"/>
<line x1="334.9" y1="235.3" x2="359.2" y2="235.3" stroke="#ebebeb" stroke-width="0.6"/>
<line x1="334.9" y1="211" x2="359.2" y2="211" stroke="#ebebeb" stroke-width="0.6"/>
<line x1="334.9" y1="186.7" x2="359.2" y2="186.7" stroke="#ebebeb" stroke-width="0.6"/>
<line x1="341.53" y1="179.6" x2="341.53" y2="288.1" stroke="#ebebeb" stroke-width="0.6"/>
<line x1="352.57" y1="179.6" x2="352.57" y2="288.1" stroke="#ebebeb" stroke-width="0.6"/>
<line x1="341.53" y1="209.54" x2="341.53" y2="233.84" stroke="#333333" stroke-width="0.8"/>
<line x1="341.53" y1="248.91" x2="341.53" y2="270.17" stroke="#333333" stroke-width="0.8"/>
<rect x="337.39" y="233.84" width="8.28" height="15.07" fill="#F8766D" stroke="#333333" stroke-width="0.5"/>
<line x1="337.39" y1="241.5" x2="345.67" y2="241.5" stroke="#333333" stroke-width="1"/>
<circle cx="341.53" cy="205.53" r="0.95" fill="#1a1a1a"/>
<circle cx="341.53" cy="276.37" r="0.95" fill="#1a1a1a"/>
<line x1="352.57" y1="207.96" x2="352.57" y2="229.47" stroke="#333333" stroke-width="0.8"/>
<line x1="352.57" y1="246.48" x2="352.57" y2="268.83" stroke="#333333" stroke-width="0.8"/>
<rect x="348.43" y="229.47" width="8.28" height="17.01" fill="#00BFC4" stroke="#333333" stroke-width="0.5"/>
<line x1="348.43" y1="237.24" x2="356.71" y2="237.24" stroke="#333333" stroke-width="1"/>
<circle cx="352.57" cy="198.61" r="0.95" fill="#1a1a1a"/>
<rect x="334.9" y="172.6" width="24.3" height="7" fill="#d9d9d9"/>
<line x1="334.9" y1="288.1" x2="359.2" y2="288.1" stroke="#aaaaaa" stroke-width="0.9"/>
<line x1="334.9" y1="172.6" x2="359.2" y2="172.6" stroke="#bbbbbb" stroke-width="0.8"/>
<line x1="334.9" y1="179.6" x2="359.2" y2="179.6" stroke="#999999" stroke-width="0.8"/>
<line x1="359.2" y1="172.6" x2="359.2" y2="288.1" stroke="#aaaaaa" stroke-width="0.9"/>
<line x1="334.9" y1="172.6" x2="334.9" y2="288.1" stroke="#b8b8b8" stroke-width="0.9"/>
<text x="347.05" y="177.4" font-size="3.6" fill="#888888" text-anchor="middle" >E2F1*</text>
<line x1="341.53" y1="288.1" x2="341.53" y2="289.7" stroke="#333333" stroke-width="0.5"/>
<text x="343.93" y="292.7" font-size="3.6" fill="#4a4a4a" text-anchor="end" transform="rotate(-45 343.93 292.7)" stroke="#4a4a4a" stroke-width="0.12">N0</text>
<line x1="352.57" y1="288.1" x2="352.57" y2="289.7" stroke="#333333" stroke-width="0.5"/>
<text x="354.97" y="292.7" font-size="3.6" fill="#4a4a4a" text-anchor="end" transform="rotate(-45 354.97 292.7)" stroke="#4a4a4a" stroke-width="0.12">N1−3</text>
<line x1="361.31" y1="271.75" x2="385.61" y2="271.75" stroke="#f4f4f4" stroke-width="0.35"/>
<line x1="361.31" y1="247.45" x2="385.61" y2="247.45" stroke="#f4f4f4" stroke-width="0.35"/>
<line x1="361.31" y1="223.15" x2="385.61" y2="223.15" stroke="#f4f4f4" stroke-width="0.35"/>
<line x1="361.31" y1="198.85" x2="385.61" y2="198.85" stroke="#f4f4f4" stroke-width="0.35"/>
<line x1="361.31" y1="283.9" x2="385.61" y2="283.9" stroke="#ebebeb" stroke-width="0.6"/>
<line x1="361.31" y1="259.6" x2="385.61" y2="259.6" stroke="#ebebeb" stroke-width="0.6"/>
<line x1="361.31" y1="235.3" x2="385.61" y2="235.3" stroke="#ebebeb" stroke-width="0.6"/>
<line x1="361.31" y1="211" x2="385.61" y2="211" stroke="#ebebeb" stroke-width="0.6"/>
<line x1="361.31" y1="186.7" x2="385.61" y2="186.7" stroke="#ebebeb" stroke-width="0.6"/>
<line x1="367.94" y1="179.6" x2="367.94" y2="288.1" stroke="#ebebeb" stroke-width="0.6"/>
<line x1="378.98" y1="179.6" x2="378.98" y2="288.1" stroke="#ebebeb" stroke-width="0.6"/>
<line x1="367.94" y1="245.51" x2="367.94" y2="261.42" stroke="#333333" stroke-width="0.8"/>
<line x1="367.94" y1="273.45" x2="367.94" y2="281.83" stroke="#333333" stroke-width="0.8"/>
<rect x="363.8" y="261.42" width="8.28" height="12.03" fill="#F8766D" stroke="#333333" stroke-width="0.5"/>
<line x1="363.8" y1="266.28" x2="372.08" y2="266.28" stroke="#333333" stroke-width="1"/>
<circle cx="367.94" cy="232.87" r="0.95" fill="#1a1a1a"/>
<circle cx="367.94" cy="238.94" r="0.95" fill="#1a1a1a"/>
<circle cx="367.94" cy="240.77" r="0.95" fill="#1a1a1a"/>
<circle cx="367.94" cy="242.83" r="0.95" fill="#1a1a1a"/>
<line x1="378.98" y1="246.23" x2="378.98" y2="260.21" stroke="#333333" stroke-width="0.8"/>
<line x1="378.98" y1="271.39" x2="378.98" y2="281.83" stroke="#333333" stroke-width="0.8"/>
<rect x="374.84" y="260.21" width="8.28" height="11.18" fill="#00BFC4" stroke="#333333" stroke-width="0.5"/>
<line x1="374.84" y1="266.28" x2="383.12" y2="266.28" stroke="#333333" stroke-width="1"/>
<circle cx="378.98" cy="221.57" r="0.95" fill="#1a1a1a"/>
<circle cx="378.98" cy="223.76" r="0.95" fill="#1a1a1a"/>
<circle cx="378.98" cy="228.01" r="0.95" fill="#1a1a1a"/>
<circle cx="378.98" cy="231.05" r="0.95" fill="#1a1a1a"/>
<circle cx="378.98" cy="234.08" r="0.95" fill="#1a1a1a"/>
<circle cx="378.98" cy="236.88" r="0.95" fill="#1a1a1a"/>
<circle cx="378.98" cy="241.5" r="0.95" fill="#1a1a1a"/>
<rect x="361.31" y="172.6" width="24.3" height="7" fill="#d9d9d9"/>
<line x1="361.31" y1="288.1" x2="385.61" y2="288.1" stroke="#aaaaaa" stroke-width="0.9"/>
<line x1="361.31" y1="172.6" x2="385.61" y2="172.6" stroke="#bbbbbb" stroke-width="0.8"/>
<line x1="361.31" y1="179.6" x2="385.61" y2="179.6" stroke="#999999" stroke-width="0.8"/>
<line x1="385.61" y1="172.6" x2="385.61" y2="288.1" stroke="#aaaaaa" stroke-width="0.9"/>
<line x1="361.31" y1="172.6" x2="361.31" y2="288.1" stroke="#b8b8b8" stroke-width="0.9"/>
<text x="373.46" y="177.4" font-size="3.6" fill="#888888" text-anchor="middle" >E2F2</text>
<line x1="367.94" y1="288.1" x2="367.94" y2="289.7" stroke="#333333" stroke-width="0.5"/>
<text x="370.34" y="292.7" font-size="3.6" fill="#4a4a4a" text-anchor="end" transform="rotate(-45 370.34 292.7)" stroke="#4a4a4a" stroke-width="0.12">N0</text>
<line x1="378.98" y1="288.1" x2="378.98" y2="289.7" stroke="#333333" stroke-width="0.5"/>
<text x="381.38" y="292.7" font-size="3.6" fill="#4a4a4a" text-anchor="end" transform="rotate(-45 381.38 292.7)" stroke="#4a4a4a" stroke-width="0.12">N1−3</text>
<line x1="387.72" y1="271.75" x2="412.02" y2="271.75" stroke="#f4f4f4" stroke-width="0.35"/>
<line x1="387.72" y1="247.45" x2="412.02" y2="247.45" stroke="#f4f4f4" stroke-width="0.35"/>
<line x1="387.72" y1="223.15" x2="412.02" y2="223.15" stroke="#f4f4f4" stroke-width="0.35"/>
<line x1="387.72" y1="198.85" x2="412.02" y2="198.85" stroke="#f4f4f4" stroke-width="0.35"/>
<line x1="387.72" y1="283.9" x2="412.02" y2="283.9" stroke="#ebebeb" stroke-width="0.6"/>
<line x1="387.72" y1="259.6" x2="412.02" y2="259.6" stroke="#ebebeb" stroke-width="0.6"/>
<line x1="387.72" y1="235.3" x2="412.02" y2="235.3" stroke="#ebebeb" stroke-width="0.6"/>
<line x1="387.72" y1="211" x2="412.02" y2="211" stroke="#ebebeb" stroke-width="0.6"/>
<line x1="387.72" y1="186.7" x2="412.02" y2="186.7" stroke="#ebebeb" stroke-width="0.6"/>
<line x1="394.35" y1="179.6" x2="394.35" y2="288.1" stroke="#ebebeb" stroke-width="0.6"/>
<line x1="405.39" y1="179.6" x2="405.39" y2="288.1" stroke="#ebebeb" stroke-width="0.6"/>
<line x1="394.35" y1="227.89" x2="394.35" y2="244.29" stroke="#333333" stroke-width="0.8"/>
<line x1="394.35" y1="254.25" x2="394.35" y2="265.43" stroke="#333333" stroke-width="0.8"/>
<rect x="390.21" y="244.29" width="8.28" height="9.96" fill="#F8766D" stroke="#333333" stroke-width="0.5"/>
<line x1="390.21" y1="248.91" x2="398.49" y2="248.91" stroke="#333333" stroke-width="1"/>
<circle cx="394.35" cy="226.79" r="0.95" fill="#1a1a1a"/>
<circle cx="394.35" cy="225.58" r="0.95" fill="#1a1a1a"/>
<circle cx="394.35" cy="224.36" r="0.95" fill="#1a1a1a"/>
<circle cx="394.35" cy="223.15" r="0.95" fill="#1a1a1a"/>
<circle cx="394.35" cy="221.93" r="0.95" fill="#1a1a1a"/>
<circle cx="394.35" cy="220.72" r="0.95" fill="#1a1a1a"/>
<circle cx="394.35" cy="219.5" r="0.95" fill="#1a1a1a"/>
<circle cx="394.35" cy="218.29" r="0.95" fill="#1a1a1a"/>
<circle cx="394.35" cy="217.07" r="0.95" fill="#1a1a1a"/>
<circle cx="394.35" cy="215.86" r="0.95" fill="#1a1a1a"/>
<circle cx="394.35" cy="214.64" r="0.95" fill="#1a1a1a"/>
<circle cx="394.35" cy="213.43" r="0.95" fill="#1a1a1a"/>
<circle cx="394.35" cy="202.37" r="0.95" fill="#1a1a1a"/>
<circle cx="394.35" cy="189.01" r="0.95" fill="#1a1a1a"/>
<circle cx="394.35" cy="184.63" r="0.95" fill="#1a1a1a"/>
<circle cx="394.35" cy="270.17" r="0.95" fill="#1a1a1a"/>
<line x1="405.39" y1="230.32" x2="405.39" y2="245.87" stroke="#333333" stroke-width="0.8"/>
<line x1="405.39" y1="255.83" x2="405.39" y2="267.38" stroke="#333333" stroke-width="0.8"/>
<rect x="401.25" y="245.87" width="8.28" height="9.96" fill="#00BFC4" stroke="#333333" stroke-width="0.5"/>
<line x1="401.25" y1="251.22" x2="409.53" y2="251.22" stroke="#333333" stroke-width="1"/>
<circle cx="405.39" cy="229.83" r="0.95" fill="#1a1a1a"/>
<circle cx="405.39" cy="227.81" r="0.95" fill="#1a1a1a"/>
<circle cx="405.39" cy="225.78" r="0.95" fill="#1a1a1a"/>
<circle cx="405.39" cy="223.76" r="0.95" fill="#1a1a1a"/>
<circle cx="405.39" cy="221.73" r="0.95" fill="#1a1a1a"/>
<circle cx="405.39" cy="219.71" r="0.95" fill="#1a1a1a"/>
<circle cx="405.39" cy="217.68" r="0.95" fill="#1a1a1a"/>
<circle cx="405.39" cy="215.66" r="0.95" fill="#1a1a1a"/>
<circle cx="405.39" cy="213.63" r="0.95" fill="#1a1a1a"/>
<circle cx="405.39" cy="211.61" r="0.95" fill="#1a1a1a"/>
<rect x="387.72" y="172.6" width="24.3" height="7" fill="#d9d9d9"/>
<line x1="387.72" y1="288.1" x2="412.02" y2="288.1" stroke="#aaaaaa" stroke-width="0.9"/>
<line x1="387.72" y1="172.6" x2="412.02" y2="172.6" stroke="#bbbbbb" stroke-width="0.8"/>
<line x1="387.72" y1="179.6" x2="412.02" y2="179.6" stroke="#999999" stroke-width="0.8"/>
<line x1="412.02" y1="172.6" x2="412.02" y2="288.1" stroke="#aaaaaa" stroke-width="0.9"/>
<line x1="387.72" y1="172.6" x2="387.72" y2="288.1" stroke="#b8b8b8" stroke-width="0.9"/>
<text x="399.87" y="177.4" font-size="3.6" fill="#888888" text-anchor="middle" >E2F3</text>
<line x1="394.35" y1="288.1" x2="394.35" y2="289.7" stroke="#333333" stroke-width="0.5"/>
<text x="396.75" y="292.7" font-size="3.6" fill="#4a4a4a" text-anchor="end" transform="rotate(-45 396.75 292.7)" stroke="#4a4a4a" stroke-width="0.12">N0</text>
<line x1="405.39" y1="288.1" x2="405.39" y2="289.7" stroke="#333333" stroke-width="0.5"/>
<text x="407.79" y="292.7" font-size="3.6" fill="#4a4a4a" text-anchor="end" transform="rotate(-45 407.79 292.7)" stroke="#4a4a4a" stroke-width="0.12">N1−3</text>
<line x1="414.13" y1="271.75" x2="438.43" y2="271.75" stroke="#f4f4f4" stroke-width="0.35"/>
<line x1="414.13" y1="247.45" x2="438.43" y2="247.45" stroke="#f4f4f4" stroke-width="0.35"/>
<line x1="414.13" y1="223.15" x2="438.43" y2="223.15" stroke="#f4f4f4" stroke-width="0.35"/>
<line x1="414.13" y1="198.85" x2="438.43" y2="198.85" stroke="#f4f4f4" stroke-width="0.35"/>
<line x1="414.13" y1="283.9" x2="438.43" y2="283.9" stroke="#ebebeb" stroke-width="0.6"/>
<line x1="414.13" y1="259.6" x2="438.43" y2="259.6" stroke="#ebebeb" stroke-width="0.6"/>
<line x1="414.13" y1="235.3" x2="438.43" y2="235.3" stroke="#ebebeb" stroke-width="0.6"/>
<line x1="414.13" y1="211" x2="438.43" y2="211" stroke="#ebebeb" stroke-width="0.6"/>
<line x1="414.13" y1="186.7" x2="438.43" y2="186.7" stroke="#ebebeb" stroke-width="0.6"/>
<line x1="420.76" y1="179.6" x2="420.76" y2="288.1" stroke="#ebebeb" stroke-width="0.6"/>
<line x1="431.8" y1="179.6" x2="431.8" y2="288.1" stroke="#ebebeb" stroke-width="0.6"/>
<line x1="420.76" y1="213.55" x2="420.76" y2="223.88" stroke="#333333" stroke-width="0.8"/>
<line x1="420.76" y1="230.32" x2="420.76" y2="239.92" stroke="#333333" stroke-width="0.8"/>
<rect x="416.62" y="223.88" width="8.28" height="6.44" fill="#F8766D" stroke="#333333" stroke-width="0.5"/>
<line x1="416.62" y1="226.55" x2="424.9" y2="226.55" stroke="#333333" stroke-width="1"/>
<circle cx="420.76" cy="208.93" r="0.95" fill="#1a1a1a"/>
<circle cx="420.76" cy="210.39" r="0.95" fill="#1a1a1a"/>
<circle cx="420.76" cy="211.85" r="0.95" fill="#1a1a1a"/>
<circle cx="420.76" cy="212.94" r="0.95" fill="#1a1a1a"/>
<circle cx="420.76" cy="243.93" r="0.95" fill="#1a1a1a"/>
<line x1="431.8" y1="213.92" x2="431.8" y2="224.85" stroke="#333333" stroke-width="0.8"/>
<line x1="431.8" y1="233.48" x2="431.8" y2="242.83" stroke="#333333" stroke-width="0.8"/>
<rect x="427.66" y="224.85" width="8.28" height="8.63" fill="#00BFC4" stroke="#333333" stroke-width="0.5"/>
<line x1="427.66" y1="229.47" x2="435.94" y2="229.47" stroke="#333333" stroke-width="1"/>
<circle cx="431.8" cy="207.96" r="0.95" fill="#1a1a1a"/>
<circle cx="431.8" cy="208.81" r="0.95" fill="#1a1a1a"/>
<rect x="414.13" y="172.6" width="24.3" height="7" fill="#d9d9d9"/>
<line x1="414.13" y1="288.1" x2="438.43" y2="288.1" stroke="#aaaaaa" stroke-width="0.9"/>
<line x1="414.13" y1="172.6" x2="438.43" y2="172.6" stroke="#bbbbbb" stroke-width="0.8"/>
<line x1="414.13" y1="179.6" x2="438.43" y2="179.6" stroke="#999999" stroke-width="0.8"/>
<line x1="438.43" y1="172.6" x2="438.43" y2="288.1" stroke="#aaaaaa" stroke-width="0.9"/>
<line x1="414.13" y1="172.6" x2="414.13" y2="288.1" stroke="#b8b8b8" stroke-width="0.9"/>
<text x="426.28" y="177.4" font-size="3.6" fill="#888888" text-anchor="middle" >E2F4**</text>
<line x1="420.76" y1="288.1" x2="420.76" y2="289.7" stroke="#333333" stroke-width="0.5"/>
<text x="423.16" y="292.7" font-size="3.6" fill="#4a4a4a" text-anchor="end" transform="rotate(-45 423.16 292.7)" stroke="#4a4a4a" stroke-width="0.12">N0</text>
<line x1="431.8" y1="288.1" x2="431.8" y2="289.7" stroke="#333333" stroke-width="0.5"/>
<text x="434.2" y="292.7" font-size="3.6" fill="#4a4a4a" text-anchor="end" transform="rotate(-45 434.2 292.7)" stroke="#4a4a4a" stroke-width="0.12">N1−3</text>
<line x1="440.54" y1="271.75" x2="464.84" y2="271.75" stroke="#f4f4f4" stroke-width="0.35"/>
<line x1="440.54" y1="247.45" x2="464.84" y2="247.45" stroke="#f4f4f4" stroke-width="0.35"/>
<line x1="440.54" y1="223.15" x2="464.84" y2="223.15" stroke="#f4f4f4" stroke-width="0.35"/>
<line x1="440.54" y1="198.85" x2="464.84" y2="198.85" stroke="#f4f4f4" stroke-width="0.35"/>
<line x1="440.54" y1="283.9" x2="464.84" y2="283.9" stroke="#ebebeb" stroke-width="0.6"/>
<line x1="440.54" y1="259.6" x2="464.84" y2="259.6" stroke="#ebebeb" stroke-width="0.6"/>
<line x1="440.54" y1="235.3" x2="464.84" y2="235.3" stroke="#ebebeb" stroke-width="0.6"/>
<line x1="440.54" y1="211" x2="464.84" y2="211" stroke="#ebebeb" stroke-width="0.6"/>
<line x1="440.54" y1="186.7" x2="464.84" y2="186.7" stroke="#ebebeb" stroke-width="0.6"/>
<line x1="447.17" y1="179.6" x2="447.17" y2="288.1" stroke="#ebebeb" stroke-width="0.6"/>
<line x1="458.21" y1="179.6" x2="458.21" y2="288.1" stroke="#ebebeb" stroke-width="0.6"/>
<line x1="447.17" y1="249.88" x2="447.17" y2="263.85" stroke="#333333" stroke-width="0.8"/>
<line x1="447.17" y1="272.24" x2="447.17" y2="280.38" stroke="#333333" stroke-width="0.8"/>
<rect x="443.03" y="263.85" width="8.28" height="8.38" fill="#F8766D" stroke="#333333" stroke-width="0.5"/>
<line x1="443.03" y1="267.25" x2="451.31" y2="267.25" stroke="#333333" stroke-width="1"/>
<circle cx="447.17" cy="248.91" r="0.95" fill="#1a1a1a"/>
<circle cx="447.17" cy="247.91" r="0.95" fill="#1a1a1a"/>
<circle cx="447.17" cy="246.92" r="0.95" fill="#1a1a1a"/>
<circle cx="447.17" cy="245.92" r="0.95" fill="#1a1a1a"/>
<circle cx="447.17" cy="244.92" r="0.95" fill="#1a1a1a"/>
<circle cx="447.17" cy="243.93" r="0.95" fill="#1a1a1a"/>
<line x1="458.21" y1="249.27" x2="458.21" y2="263.25" stroke="#333333" stroke-width="0.8"/>
<line x1="458.21" y1="272.84" x2="458.21" y2="281.35" stroke="#333333" stroke-width="0.8"/>
<rect x="454.07" y="263.25" width="8.28" height="9.6" fill="#00BFC4" stroke="#333333" stroke-width="0.5"/>
<line x1="454.07" y1="268.47" x2="462.35" y2="268.47" stroke="#333333" stroke-width="1"/>
<rect x="440.54" y="172.6" width="24.3" height="7" fill="#d9d9d9"/>
<line x1="440.54" y1="288.1" x2="464.84" y2="288.1" stroke="#aaaaaa" stroke-width="0.9"/>
<line x1="440.54" y1="172.6" x2="464.84" y2="172.6" stroke="#bbbbbb" stroke-width="0.8"/>
<line x1="440.54" y1="179.6" x2="464.84" y2="179.6" stroke="#999999" stroke-width="0.8"/>
<line x1="464.84" y1="172.6" x2="464.84" y2="288.1" stroke="#aaaaaa" stroke-width="0.9"/>
<line x1="440.54" y1="172.6" x2="440.54" y2="288.1" stroke="#b8b8b8" stroke-width="0.9"/>
<text x="452.69" y="177.4" font-size="3.6" fill="#888888" text-anchor="middle" >E2F5</text>
<line x1="447.17" y1="288.1" x2="447.17" y2="289.7" stroke="#333333" stroke-width="0.5"/>
<text x="449.57" y="292.7" font-size="3.6" fill="#4a4a4a" text-anchor="end" transform="rotate(-45 449.57 292.7)" stroke="#4a4a4a" stroke-width="0.12">N0</text>
<line x1="458.21" y1="288.1" x2="458.21" y2="289.7" stroke="#333333" stroke-width="0.5"/>
<text x="460.61" y="292.7" font-size="3.6" fill="#4a4a4a" text-anchor="end" transform="rotate(-45 460.61 292.7)" stroke="#4a4a4a" stroke-width="0.12">N1−3</text>
<line x1="466.95" y1="271.75" x2="491.25" y2="271.75" stroke="#f4f4f4" stroke-width="0.35"/>
<line x1="466.95" y1="247.45" x2="491.25" y2="247.45" stroke="#f4f4f4" stroke-width="0.35"/>
<line x1="466.95" y1="223.15" x2="491.25" y2="223.15" stroke="#f4f4f4" stroke-width="0.35"/>
<line x1="466.95" y1="198.85" x2="491.25" y2="198.85" stroke="#f4f4f4" stroke-width="0.35"/>
<line x1="466.95" y1="283.9" x2="491.25" y2="283.9" stroke="#ebebeb" stroke-width="0.6"/>
<line x1="466.95" y1="259.6" x2="491.25" y2="259.6" stroke="#ebebeb" stroke-width="0.6"/>
<line x1="466.95" y1="235.3" x2="491.25" y2="235.3" stroke="#ebebeb" stroke-width="0.6"/>
<line x1="466.95" y1="211" x2="491.25" y2="211" stroke="#ebebeb" stroke-width="0.6"/>
<line x1="466.95" y1="186.7" x2="491.25" y2="186.7" stroke="#ebebeb" stroke-width="0.6"/>
<line x1="473.58" y1="179.6" x2="473.58" y2="288.1" stroke="#ebebeb" stroke-width="0.6"/>
<line x1="484.62" y1="179.6" x2="484.62" y2="288.1" stroke="#ebebeb" stroke-width="0.6"/>
<line x1="473.58" y1="247.81" x2="473.58" y2="257.29" stroke="#333333" stroke-width="0.8"/>
<line x1="473.58" y1="263.49" x2="473.58" y2="268.83" stroke="#333333" stroke-width="0.8"/>
<rect x="469.44" y="257.29" width="8.28" height="6.2" fill="#F8766D" stroke="#333333" stroke-width="0.5"/>
<line x1="469.44" y1="259.84" x2="477.72" y2="259.84" stroke="#333333" stroke-width="1"/>
<circle cx="473.58" cy="244.41" r="0.95" fill="#1a1a1a"/>
<circle cx="473.58" cy="245.63" r="0.95" fill="#1a1a1a"/>
<circle cx="473.58" cy="246.84" r="0.95" fill="#1a1a1a"/>
<circle cx="473.58" cy="273.45" r="0.95" fill="#1a1a1a"/>
<line x1="484.62" y1="247.81" x2="484.62" y2="256.2" stroke="#333333" stroke-width="0.8"/>
<line x1="484.62" y1="262.39" x2="484.62" y2="268.83" stroke="#333333" stroke-width="0.8"/>
<rect x="480.48" y="256.2" width="8.28" height="6.2" fill="#00BFC4" stroke="#333333" stroke-width="0.5"/>
<line x1="480.48" y1="259.24" x2="488.76" y2="259.24" stroke="#333333" stroke-width="1"/>
<circle cx="484.62" cy="244.29" r="0.95" fill="#1a1a1a"/>
<rect x="466.95" y="172.6" width="24.3" height="7" fill="#d9d9d9"/>
<line x1="466.95" y1="288.1" x2="491.25" y2="288.1" stroke="#aaaaaa" stroke-width="0.9"/>
<line x1="466.95" y1="172.6" x2="491.25" y2="172.6" stroke="#bbbbbb" stroke-width="0.8"/>
<line x1="466.95" y1="179.6" x2="491.25" y2="179.6" stroke="#999999" stroke-width="0.8"/>
<line x1="491.25" y1="172.6" x2="491.25" y2="288.1" stroke="#aaaaaa" stroke-width="0.9"/>
<line x1="466.95" y1="172.6" x2="466.95" y2="288.1" stroke="#b8b8b8" stroke-width="0.9"/>
<text x="479.1" y="177.4" font-size="3.6" fill="#888888" text-anchor="middle" >E2F6</text>
<line x1="473.58" y1="288.1" x2="473.58" y2="289.7" stroke="#333333" stroke-width="0.5"/>
<text x="475.98" y="292.7" font-size="3.6" fill="#4a4a4a" text-anchor="end" transform="rotate(-45 475.98 292.7)" stroke="#4a4a4a" stroke-width="0.12">N0</text>
<line x1="484.62" y1="288.1" x2="484.62" y2="289.7" stroke="#333333" stroke-width="0.5"/>
<text x="487.02" y="292.7" font-size="3.6" fill="#4a4a4a" text-anchor="end" transform="rotate(-45 487.02 292.7)" stroke="#4a4a4a" stroke-width="0.12">N1−3</text>
<line x1="493.36" y1="271.75" x2="517.66" y2="271.75" stroke="#f4f4f4" stroke-width="0.35"/>
<line x1="493.36" y1="247.45" x2="517.66" y2="247.45" stroke="#f4f4f4" stroke-width="0.35"/>
<line x1="493.36" y1="223.15" x2="517.66" y2="223.15" stroke="#f4f4f4" stroke-width="0.35"/>
<line x1="493.36" y1="198.85" x2="517.66" y2="198.85" stroke="#f4f4f4" stroke-width="0.35"/>
<line x1="493.36" y1="283.9" x2="517.66" y2="283.9" stroke="#ebebeb" stroke-width="0.6"/>
<line x1="493.36" y1="259.6" x2="517.66" y2="259.6" stroke="#ebebeb" stroke-width="0.6"/>
<line x1="493.36" y1="235.3" x2="517.66" y2="235.3" stroke="#ebebeb" stroke-width="0.6"/>
<line x1="493.36" y1="211" x2="517.66" y2="211" stroke="#ebebeb" stroke-width="0.6"/>
<line x1="493.36" y1="186.7" x2="517.66" y2="186.7" stroke="#ebebeb" stroke-width="0.6"/>
<line x1="499.99" y1="179.6" x2="499.99" y2="288.1" stroke="#ebebeb" stroke-width="0.6"/>
<line x1="511.03" y1="179.6" x2="511.03" y2="288.1" stroke="#ebebeb" stroke-width="0.6"/>
<line x1="499.99" y1="243.93" x2="499.99" y2="262.27" stroke="#333333" stroke-width="0.8"/>
<line x1="499.99" y1="274.79" x2="499.99" y2="282.81" stroke="#333333" stroke-width="0.8"/>
<rect x="495.85" y="262.27" width="8.28" height="12.51" fill="#F8766D" stroke="#333333" stroke-width="0.5"/>
<line x1="495.85" y1="269.2" x2="504.13" y2="269.2" stroke="#333333" stroke-width="1"/>
<circle cx="499.99" cy="231.29" r="0.95" fill="#1a1a1a"/>
<circle cx="499.99" cy="235.54" r="0.95" fill="#1a1a1a"/>
<line x1="511.03" y1="247.81" x2="511.03" y2="264.46" stroke="#333333" stroke-width="0.8"/>
<line x1="511.03" y1="276.37" x2="511.03" y2="282.81" stroke="#333333" stroke-width="0.8"/>
<rect x="506.89" y="264.46" width="8.28" height="11.91" fill="#00BFC4" stroke="#333333" stroke-width="0.5"/>
<line x1="506.89" y1="270.17" x2="515.17" y2="270.17" stroke="#333333" stroke-width="1"/>
<circle cx="511.03" cy="239.43" r="0.95" fill="#1a1a1a"/>
<circle cx="511.03" cy="244.9" r="0.95" fill="#1a1a1a"/>
<rect x="493.36" y="172.6" width="24.3" height="7" fill="#d9d9d9"/>
<line x1="493.36" y1="288.1" x2="517.66" y2="288.1" stroke="#aaaaaa" stroke-width="0.9"/>
<line x1="493.36" y1="172.6" x2="517.66" y2="172.6" stroke="#bbbbbb" stroke-width="0.8"/>
<line x1="493.36" y1="179.6" x2="517.66" y2="179.6" stroke="#999999" stroke-width="0.8"/>
<line x1="517.66" y1="172.6" x2="517.66" y2="288.1" stroke="#aaaaaa" stroke-width="0.9"/>
<line x1="493.36" y1="172.6" x2="493.36" y2="288.1" stroke="#b8b8b8" stroke-width="0.9"/>
<text x="505.51" y="177.4" font-size="3.6" fill="#888888" text-anchor="middle" >E2F7</text>
<line x1="499.99" y1="288.1" x2="499.99" y2="289.7" stroke="#333333" stroke-width="0.5"/>
<text x="502.39" y="292.7" font-size="3.6" fill="#4a4a4a" text-anchor="end" transform="rotate(-45 502.39 292.7)" stroke="#4a4a4a" stroke-width="0.12">N0</text>
<line x1="511.03" y1="288.1" x2="511.03" y2="289.7" stroke="#333333" stroke-width="0.5"/>
<text x="513.43" y="292.7" font-size="3.6" fill="#4a4a4a" text-anchor="end" transform="rotate(-45 513.43 292.7)" stroke="#4a4a4a" stroke-width="0.12">N1−3</text>
<line x1="519.77" y1="271.75" x2="544.07" y2="271.75" stroke="#f4f4f4" stroke-width="0.35"/>
<line x1="519.77" y1="247.45" x2="544.07" y2="247.45" stroke="#f4f4f4" stroke-width="0.35"/>
<line x1="519.77" y1="223.15" x2="544.07" y2="223.15" stroke="#f4f4f4" stroke-width="0.35"/>
<line x1="519.77" y1="198.85" x2="544.07" y2="198.85" stroke="#f4f4f4" stroke-width="0.35"/>
<line x1="519.77" y1="283.9" x2="544.07" y2="283.9" stroke="#ebebeb" stroke-width="0.6"/>
<line x1="519.77" y1="259.6" x2="544.07" y2="259.6" stroke="#ebebeb" stroke-width="0.6"/>
<line x1="519.77" y1="235.3" x2="544.07" y2="235.3" stroke="#ebebeb" stroke-width="0.6"/>
<line x1="519.77" y1="211" x2="544.07" y2="211" stroke="#ebebeb" stroke-width="0.6"/>
<line x1="519.77" y1="186.7" x2="544.07" y2="186.7" stroke="#ebebeb" stroke-width="0.6"/>
<line x1="526.4" y1="179.6" x2="526.4" y2="288.1" stroke="#ebebeb" stroke-width="0.6"/>
<line x1="537.44" y1="179.6" x2="537.44" y2="288.1" stroke="#ebebeb" stroke-width="0.6"/>
<line x1="526.4" y1="236.88" x2="526.4" y2="253.52" stroke="#333333" stroke-width="0.8"/>
<line x1="526.4" y1="266.77" x2="526.4" y2="281.83" stroke="#333333" stroke-width="0.8"/>
<rect x="522.26" y="253.52" width="8.28" height="13.24" fill="#F8766D" stroke="#333333" stroke-width="0.5"/>
<line x1="522.26" y1="259.48" x2="530.54" y2="259.48" stroke="#333333" stroke-width="1"/>
<circle cx="526.4" cy="226.31" r="0.95" fill="#1a1a1a"/>
<line x1="537.44" y1="234.33" x2="537.44" y2="252.43" stroke="#333333" stroke-width="0.8"/>
<line x1="537.44" y1="267.38" x2="537.44" y2="281.83" stroke="#333333" stroke-width="0.8"/>
<rect x="533.3" y="252.43" width="8.28" height="14.94" fill="#00BFC4" stroke="#333333" stroke-width="0.5"/>
<line x1="533.3" y1="259.84" x2="541.58" y2="259.84" stroke="#333333" stroke-width="1"/>
<rect x="519.77" y="172.6" width="24.3" height="7" fill="#d9d9d9"/>
<line x1="519.77" y1="288.1" x2="544.07" y2="288.1" stroke="#aaaaaa" stroke-width="0.9"/>
<line x1="519.77" y1="172.6" x2="544.07" y2="172.6" stroke="#bbbbbb" stroke-width="0.8"/>
<line x1="519.77" y1="179.6" x2="544.07" y2="179.6" stroke="#999999" stroke-width="0.8"/>
<line x1="544.07" y1="172.6" x2="544.07" y2="288.1" stroke="#aaaaaa" stroke-width="0.9"/>
<line x1="519.77" y1="172.6" x2="519.77" y2="288.1" stroke="#b8b8b8" stroke-width="0.9"/>
<text x="531.92" y="177.4" font-size="3.6" fill="#888888" text-anchor="middle" >E2F8</text>
<line x1="526.4" y1="288.1" x2="526.4" y2="289.7" stroke="#333333" stroke-width="0.5"/>
<text x="528.8" y="292.7" font-size="3.6" fill="#4a4a4a" text-anchor="end" transform="rotate(-45 528.8 292.7)" stroke="#4a4a4a" stroke-width="0.12">N0</text>
<line x1="537.44" y1="288.1" x2="537.44" y2="289.7" stroke="#333333" stroke-width="0.5"/>
<text x="539.84" y="292.7" font-size="3.6" fill="#4a4a4a" text-anchor="end" transform="rotate(-45 539.84 292.7)" stroke="#4a4a4a" stroke-width="0.12">N1−3</text>
<text x="334.9" y="169.8" font-size="5.2" fill="#111" text-anchor="start"  stroke="#111" stroke-width="0.08">Cancer: BLCA</text>
<text x="327.2" y="234.3" font-size="4.37" fill="#222" text-anchor="middle" transform="rotate(-90 327.2 234.3)" dominant-baseline="central" stroke="#222" stroke-width="0.12">Gene expression</text>
<text x="393.1" y="303.3" font-size="5.55" fill="#000" text-anchor="start"  stroke="#000" stroke-width="0.12">Pathologic_N</text>
<line x1="432.7" y1="298.4" x2="432.7" y2="304.2" stroke="#333333" stroke-width="0.5"/>
<rect x="429.9" y="299.2" width="5.6" height="4.2" fill="#F8766D" stroke="#333333" stroke-width="0.5"/>
<line x1="429.9" y1="301.3" x2="435.5" y2="301.3" stroke="#333333" stroke-width="0.8"/>
<text x="438.2" y="303.32" font-size="5.6" fill="#000" text-anchor="start"  stroke="#000" stroke-width="0.12">N0</text>
<line x1="454.6" y1="298.4" x2="454.6" y2="304.2" stroke="#333333" stroke-width="0.5"/>
<rect x="451.8" y="299.2" width="5.6" height="4.2" fill="#00BFC4" stroke="#333333" stroke-width="0.5"/>
<line x1="451.8" y1="301.3" x2="457.4" y2="301.3" stroke="#333333" stroke-width="0.8"/>
<text x="460.2" y="303.32" font-size="5.6" fill="#000" text-anchor="start"  stroke="#000" stroke-width="0.12">N1−3</text>
<line x1="127.4" y1="525.1" x2="129.6" y2="525.1" stroke="#333333" stroke-width="0.6"/>
<text x="126.2" y="527.33" font-size="6.2" fill="#4d4d4d" text-anchor="end"  stroke="#4d4d4d" stroke-width="0.1">0</text>
<line x1="127.4" y1="482.36" x2="129.6" y2="482.36" stroke="#333333" stroke-width="0.6"/>
<text x="126.2" y="484.59" font-size="6.2" fill="#4d4d4d" text-anchor="end"  stroke="#4d4d4d" stroke-width="0.1">2</text>
<line x1="127.4" y1="439.62" x2="129.6" y2="439.62" stroke="#333333" stroke-width="0.6"/>
<text x="126.2" y="441.85" font-size="6.2" fill="#4d4d4d" text-anchor="end"  stroke="#4d4d4d" stroke-width="0.1">4</text>
<line x1="127.4" y1="396.88" x2="129.6" y2="396.88" stroke="#333333" stroke-width="0.6"/>
<text x="126.2" y="399.11" font-size="6.2" fill="#4d4d4d" text-anchor="end"  stroke="#4d4d4d" stroke-width="0.1">6</text>
<line x1="127.4" y1="354.14" x2="129.6" y2="354.14" stroke="#333333" stroke-width="0.6"/>
<text x="126.2" y="356.37" font-size="6.2" fill="#4d4d4d" text-anchor="end"  stroke="#4d4d4d" stroke-width="0.1">8</text>
<line x1="129.6" y1="503.73" x2="168.5" y2="503.73" stroke="#f4f4f4" stroke-width="0.5"/>
<line x1="129.6" y1="460.99" x2="168.5" y2="460.99" stroke="#f4f4f4" stroke-width="0.5"/>
<line x1="129.6" y1="418.25" x2="168.5" y2="418.25" stroke="#f4f4f4" stroke-width="0.5"/>
<line x1="129.6" y1="375.51" x2="168.5" y2="375.51" stroke="#f4f4f4" stroke-width="0.5"/>
<line x1="129.6" y1="525.1" x2="168.5" y2="525.1" stroke="#ebebeb" stroke-width="0.9"/>
<line x1="129.6" y1="482.36" x2="168.5" y2="482.36" stroke="#ebebeb" stroke-width="0.9"/>
<line x1="129.6" y1="439.62" x2="168.5" y2="439.62" stroke="#ebebeb" stroke-width="0.9"/>
<line x1="129.6" y1="396.88" x2="168.5" y2="396.88" stroke="#ebebeb" stroke-width="0.9"/>
<line x1="129.6" y1="354.14" x2="168.5" y2="354.14" stroke="#ebebeb" stroke-width="0.9"/>
<line x1="134.09" y1="341.6" x2="134.09" y2="531.8" stroke="#ebebeb" stroke-width="0.9"/>
<line x1="141.57" y1="341.6" x2="141.57" y2="531.8" stroke="#ebebeb" stroke-width="0.9"/>
<line x1="149.05" y1="341.6" x2="149.05" y2="531.8" stroke="#ebebeb" stroke-width="0.9"/>
<line x1="156.53" y1="341.6" x2="156.53" y2="531.8" stroke="#ebebeb" stroke-width="0.9"/>
<line x1="164.01" y1="341.6" x2="164.01" y2="531.8" stroke="#ebebeb" stroke-width="0.9"/>
<line x1="134.09" y1="394.1" x2="134.09" y2="433.42" stroke="#333333" stroke-width="0.7"/>
<line x1="134.09" y1="460.14" x2="134.09" y2="497.32" stroke="#333333" stroke-width="0.7"/>
<rect x="131.28" y="433.42" width="5.61" height="26.71" fill="#F8766D" stroke="#333333" stroke-width="0.6"/>
<line x1="131.28" y1="447.95" x2="136.89" y2="447.95" stroke="#333333" stroke-width="1.3"/>
<line x1="141.57" y1="394.53" x2="141.57" y2="429.79" stroke="#333333" stroke-width="0.7"/>
<line x1="141.57" y1="455.01" x2="141.57" y2="487.7" stroke="#333333" stroke-width="0.7"/>
<rect x="138.76" y="429.79" width="5.61" height="25.22" fill="#A3A500" stroke="#333333" stroke-width="0.6"/>
<line x1="138.76" y1="441.76" x2="144.37" y2="441.76" stroke="#333333" stroke-width="1.3"/>
<circle cx="141.57" cy="386.84" r="1.6" fill="#1a1a1a"/>
<circle cx="141.57" cy="390.9" r="1.6" fill="#1a1a1a"/>
<line x1="149.05" y1="439.83" x2="149.05" y2="467.4" stroke="#333333" stroke-width="0.7"/>
<line x1="149.05" y1="488.56" x2="149.05" y2="499.03" stroke="#333333" stroke-width="0.7"/>
<rect x="146.24" y="467.4" width="5.61" height="21.16" fill="#00BF7D" stroke="#333333" stroke-width="0.6"/>
<line x1="146.24" y1="477.02" x2="151.86" y2="477.02" stroke="#333333" stroke-width="1.3"/>
<line x1="156.53" y1="400.51" x2="156.53" y2="435.56" stroke="#333333" stroke-width="0.7"/>
<line x1="156.53" y1="476.16" x2="156.53" y2="500.31" stroke="#333333" stroke-width="0.7"/>
<rect x="153.73" y="435.56" width="5.61" height="40.6" fill="#00B0F6" stroke="#333333" stroke-width="0.6"/>
<line x1="153.73" y1="464.41" x2="159.34" y2="464.41" stroke="#333333" stroke-width="1.3"/>
<circle cx="156.53" cy="372.3" r="1.6" fill="#1a1a1a"/>
<line x1="164.01" y1="394.53" x2="164.01" y2="427.44" stroke="#333333" stroke-width="0.7"/>
<line x1="164.01" y1="485.78" x2="164.01" y2="510.78" stroke="#333333" stroke-width="0.7"/>
<rect x="161.21" y="427.44" width="5.61" height="58.34" fill="#E76BF3" stroke="#333333" stroke-width="0.6"/>
<line x1="161.21" y1="460.14" x2="166.82" y2="460.14" stroke="#333333" stroke-width="1.3"/>
<rect x="129.6" y="330.8" width="38.9" height="10.8" fill="#d9d9d9"/>
<line x1="129.6" y1="531.8" x2="168.5" y2="531.8" stroke="#666666" stroke-width="0.9"/>
<line x1="129.6" y1="330.8" x2="168.5" y2="330.8" stroke="#b0b0b0" stroke-width="0.9"/>
<line x1="129.6" y1="341.6" x2="168.5" y2="341.6" stroke="#999999" stroke-width="0.9"/>
<line x1="168.5" y1="330.8" x2="168.5" y2="531.8" stroke="#aaaaaa" stroke-width="0.9"/>
<line x1="129.6" y1="330.8" x2="129.6" y2="531.8" stroke="#888888" stroke-width="0.9"/>
<text x="149.05" y="338.29" font-size="5.8" fill="#333333" text-anchor="middle"  stroke="#333333" stroke-width="0.15">E2F1***</text>
<line x1="134.09" y1="531.8" x2="134.09" y2="534" stroke="#333333" stroke-width="0.6"/>
<text x="134.09" y="540" font-size="5.85" fill="#4d4d4d" text-anchor="middle"  stroke="#4d4d4d" stroke-width="0.1">C1</text>
<line x1="141.57" y1="531.8" x2="141.57" y2="534" stroke="#333333" stroke-width="0.6"/>
<text x="141.57" y="540" font-size="5.85" fill="#4d4d4d" text-anchor="middle"  stroke="#4d4d4d" stroke-width="0.1">C2</text>
<line x1="149.05" y1="531.8" x2="149.05" y2="534" stroke="#333333" stroke-width="0.6"/>
<text x="149.05" y="540" font-size="5.85" fill="#4d4d4d" text-anchor="middle"  stroke="#4d4d4d" stroke-width="0.1">C3</text>
<line x1="156.53" y1="531.8" x2="156.53" y2="534" stroke="#333333" stroke-width="0.6"/>
<text x="156.53" y="540" font-size="5.85" fill="#4d4d4d" text-anchor="middle"  stroke="#4d4d4d" stroke-width="0.1">C4</text>
<line x1="164.01" y1="531.8" x2="164.01" y2="534" stroke="#333333" stroke-width="0.6"/>
<text x="164.01" y="540" font-size="5.85" fill="#4d4d4d" text-anchor="middle"  stroke="#4d4d4d" stroke-width="0.1">C6</text>
<line x1="172.25" y1="503.73" x2="211.15" y2="503.73" stroke="#f4f4f4" stroke-width="0.5"/>
<line x1="172.25" y1="460.99" x2="211.15" y2="460.99" stroke="#f4f4f4" stroke-width="0.5"/>
<line x1="172.25" y1="418.25" x2="211.15" y2="418.25" stroke="#f4f4f4" stroke-width="0.5"/>
<line x1="172.25" y1="375.51" x2="211.15" y2="375.51" stroke="#f4f4f4" stroke-width="0.5"/>
<line x1="172.25" y1="525.1" x2="211.15" y2="525.1" stroke="#ebebeb" stroke-width="0.9"/>
<line x1="172.25" y1="482.36" x2="211.15" y2="482.36" stroke="#ebebeb" stroke-width="0.9"/>
<line x1="172.25" y1="439.62" x2="211.15" y2="439.62" stroke="#ebebeb" stroke-width="0.9"/>
<line x1="172.25" y1="396.88" x2="211.15" y2="396.88" stroke="#ebebeb" stroke-width="0.9"/>
<line x1="172.25" y1="354.14" x2="211.15" y2="354.14" stroke="#ebebeb" stroke-width="0.9"/>
<line x1="176.74" y1="341.6" x2="176.74" y2="531.8" stroke="#ebebeb" stroke-width="0.9"/>
<line x1="184.22" y1="341.6" x2="184.22" y2="531.8" stroke="#ebebeb" stroke-width="0.9"/>
<line x1="191.7" y1="341.6" x2="191.7" y2="531.8" stroke="#ebebeb" stroke-width="0.9"/>
<line x1="199.18" y1="341.6" x2="199.18" y2="531.8" stroke="#ebebeb" stroke-width="0.9"/>
<line x1="206.66" y1="341.6" x2="206.66" y2="531.8" stroke="#ebebeb" stroke-width="0.9"/>
<line x1="176.74" y1="456.5" x2="176.74" y2="484.92" stroke="#333333" stroke-width="0.7"/>
<line x1="176.74" y1="503.94" x2="176.74" y2="520.18" stroke="#333333" stroke-width="0.7"/>
<rect x="173.93" y="484.92" width="5.61" height="19.02" fill="#F8766D" stroke="#333333" stroke-width="0.6"/>
<line x1="173.93" y1="493.05" x2="179.54" y2="493.05" stroke="#333333" stroke-width="1.3"/>
<circle cx="176.74" cy="427.44" r="1.6" fill="#1a1a1a"/>
<circle cx="176.74" cy="436.63" r="1.6" fill="#1a1a1a"/>
<circle cx="176.74" cy="439.41" r="1.6" fill="#1a1a1a"/>
<circle cx="176.74" cy="445.6" r="1.6" fill="#1a1a1a"/>
<line x1="184.22" y1="450.73" x2="184.22" y2="480.01" stroke="#333333" stroke-width="0.7"/>
<line x1="184.22" y1="499.03" x2="184.22" y2="516.12" stroke="#333333" stroke-width="0.7"/>
<rect x="181.41" y="480.01" width="5.61" height="19.02" fill="#A3A500" stroke="#333333" stroke-width="0.6"/>
<line x1="181.41" y1="489.63" x2="187.02" y2="489.63" stroke="#333333" stroke-width="1.3"/>
<circle cx="184.22" cy="416.11" r="1.6" fill="#1a1a1a"/>
<circle cx="184.22" cy="420.17" r="1.6" fill="#1a1a1a"/>
<circle cx="184.22" cy="441.12" r="1.6" fill="#1a1a1a"/>
<circle cx="184.22" cy="449.66" r="1.6" fill="#1a1a1a"/>
<circle cx="184.22" cy="451.16" r="1.6" fill="#1a1a1a"/>
<line x1="191.7" y1="489.41" x2="191.7" y2="503.09" stroke="#333333" stroke-width="0.7"/>
<line x1="191.7" y1="515.27" x2="191.7" y2="518.9" stroke="#333333" stroke-width="0.7"/>
<rect x="188.89" y="503.09" width="5.61" height="12.18" fill="#00BF7D" stroke="#333333" stroke-width="0.6"/>
<line x1="188.89" y1="509.29" x2="194.51" y2="509.29" stroke="#333333" stroke-width="1.3"/>
<line x1="199.18" y1="458.64" x2="199.18" y2="489.41" stroke="#333333" stroke-width="0.7"/>
<line x1="199.18" y1="512.28" x2="199.18" y2="519.76" stroke="#333333" stroke-width="0.7"/>
<rect x="196.38" y="489.41" width="5.61" height="22.87" fill="#00B0F6" stroke="#333333" stroke-width="0.6"/>
<line x1="196.38" y1="503.3" x2="201.99" y2="503.3" stroke="#333333" stroke-width="1.3"/>
<line x1="206.66" y1="465.91" x2="206.66" y2="482.79" stroke="#333333" stroke-width="0.7"/>
<line x1="206.66" y1="509.93" x2="206.66" y2="520.83" stroke="#333333" stroke-width="0.7"/>
<rect x="203.86" y="482.79" width="5.61" height="27.14" fill="#E76BF3" stroke="#333333" stroke-width="0.6"/>
<line x1="203.86" y1="499.03" x2="209.47" y2="499.03" stroke="#333333" stroke-width="1.3"/>
<rect x="172.25" y="330.8" width="38.9" height="10.8" fill="#d9d9d9"/>
<line x1="172.25" y1="531.8" x2="211.15" y2="531.8" stroke="#666666" stroke-width="0.9"/>
<line x1="172.25" y1="330.8" x2="211.15" y2="330.8" stroke="#b0b0b0" stroke-width="0.9"/>
<line x1="172.25" y1="341.6" x2="211.15" y2="341.6" stroke="#999999" stroke-width="0.9"/>
<line x1="211.15" y1="330.8" x2="211.15" y2="531.8" stroke="#aaaaaa" stroke-width="0.9"/>
<line x1="172.25" y1="330.8" x2="172.25" y2="531.8" stroke="#888888" stroke-width="0.9"/>
<text x="191.7" y="338.29" font-size="5.8" fill="#333333" text-anchor="middle"  stroke="#333333" stroke-width="0.15">E2F2***</text>
<line x1="176.74" y1="531.8" x2="176.74" y2="534" stroke="#333333" stroke-width="0.6"/>
<text x="176.74" y="540" font-size="5.85" fill="#4d4d4d" text-anchor="middle"  stroke="#4d4d4d" stroke-width="0.1">C1</text>
<line x1="184.22" y1="531.8" x2="184.22" y2="534" stroke="#333333" stroke-width="0.6"/>
<text x="184.22" y="540" font-size="5.85" fill="#4d4d4d" text-anchor="middle"  stroke="#4d4d4d" stroke-width="0.1">C2</text>
<line x1="191.7" y1="531.8" x2="191.7" y2="534" stroke="#333333" stroke-width="0.6"/>
<text x="191.7" y="540" font-size="5.85" fill="#4d4d4d" text-anchor="middle"  stroke="#4d4d4d" stroke-width="0.1">C3</text>
<line x1="199.18" y1="531.8" x2="199.18" y2="534" stroke="#333333" stroke-width="0.6"/>
<text x="199.18" y="540" font-size="5.85" fill="#4d4d4d" text-anchor="middle"  stroke="#4d4d4d" stroke-width="0.1">C4</text>
<line x1="206.66" y1="531.8" x2="206.66" y2="534" stroke="#333333" stroke-width="0.6"/>
<text x="206.66" y="540" font-size="5.85" fill="#4d4d4d" text-anchor="middle"  stroke="#4d4d4d" stroke-width="0.1">C6</text>
<line x1="214.9" y1="503.73" x2="253.8" y2="503.73" stroke="#f4f4f4" stroke-width="0.5"/>
<line x1="214.9" y1="460.99" x2="253.8" y2="460.99" stroke="#f4f4f4" stroke-width="0.5"/>
<line x1="214.9" y1="418.25" x2="253.8" y2="418.25" stroke="#f4f4f4" stroke-width="0.5"/>
<line x1="214.9" y1="375.51" x2="253.8" y2="375.51" stroke="#f4f4f4" stroke-width="0.5"/>
<line x1="214.9" y1="525.1" x2="253.8" y2="525.1" stroke="#ebebeb" stroke-width="0.9"/>
<line x1="214.9" y1="482.36" x2="253.8" y2="482.36" stroke="#ebebeb" stroke-width="0.9"/>
<line x1="214.9" y1="439.62" x2="253.8" y2="439.62" stroke="#ebebeb" stroke-width="0.9"/>
<line x1="214.9" y1="396.88" x2="253.8" y2="396.88" stroke="#ebebeb" stroke-width="0.9"/>
<line x1="214.9" y1="354.14" x2="253.8" y2="354.14" stroke="#ebebeb" stroke-width="0.9"/>
<line x1="219.39" y1="341.6" x2="219.39" y2="531.8" stroke="#ebebeb" stroke-width="0.9"/>
<line x1="226.87" y1="341.6" x2="226.87" y2="531.8" stroke="#ebebeb" stroke-width="0.9"/>
<line x1="234.35" y1="341.6" x2="234.35" y2="531.8" stroke="#ebebeb" stroke-width="0.9"/>
<line x1="241.83" y1="341.6" x2="241.83" y2="531.8" stroke="#ebebeb" stroke-width="0.9"/>
<line x1="249.31" y1="341.6" x2="249.31" y2="531.8" stroke="#ebebeb" stroke-width="0.9"/>
<line x1="219.39" y1="432.14" x2="219.39" y2="454.37" stroke="#333333" stroke-width="0.7"/>
<line x1="219.39" y1="473.38" x2="219.39" y2="490.48" stroke="#333333" stroke-width="0.7"/>
<rect x="216.58" y="454.37" width="5.61" height="19.02" fill="#F8766D" stroke="#333333" stroke-width="0.6"/>
<line x1="216.58" y1="463.77" x2="222.19" y2="463.77" stroke="#333333" stroke-width="1.3"/>
<circle cx="219.39" cy="350.72" r="1.6" fill="#1a1a1a"/>
<circle cx="219.39" cy="358.84" r="1.6" fill="#1a1a1a"/>
<circle cx="219.39" cy="381.71" r="1.6" fill="#1a1a1a"/>
<circle cx="219.39" cy="393.25" r="1.6" fill="#1a1a1a"/>
<circle cx="219.39" cy="397.31" r="1.6" fill="#1a1a1a"/>
<circle cx="219.39" cy="406.5" r="1.6" fill="#1a1a1a"/>
<circle cx="219.39" cy="421.46" r="1.6" fill="#1a1a1a"/>
<circle cx="219.39" cy="419.69" r="1.6" fill="#1a1a1a"/>
<circle cx="219.39" cy="417.93" r="1.6" fill="#1a1a1a"/>
<circle cx="219.39" cy="416.17" r="1.6" fill="#1a1a1a"/>
<circle cx="219.39" cy="414.4" r="1.6" fill="#1a1a1a"/>
<line x1="226.87" y1="422.95" x2="226.87" y2="453.94" stroke="#333333" stroke-width="0.7"/>
<line x1="226.87" y1="473.17" x2="226.87" y2="500.31" stroke="#333333" stroke-width="0.7"/>
<rect x="224.06" y="453.94" width="5.61" height="19.23" fill="#A3A500" stroke="#333333" stroke-width="0.6"/>
<line x1="224.06" y1="465.05" x2="229.67" y2="465.05" stroke="#333333" stroke-width="1.3"/>
<circle cx="226.87" cy="393.89" r="1.6" fill="#1a1a1a"/>
<circle cx="226.87" cy="402.86" r="1.6" fill="#1a1a1a"/>
<circle cx="226.87" cy="422.95" r="1.6" fill="#1a1a1a"/>
<circle cx="226.87" cy="421.55" r="1.6" fill="#1a1a1a"/>
<circle cx="226.87" cy="420.15" r="1.6" fill="#1a1a1a"/>
<circle cx="226.87" cy="418.76" r="1.6" fill="#1a1a1a"/>
<circle cx="226.87" cy="417.36" r="1.6" fill="#1a1a1a"/>
<circle cx="226.87" cy="415.96" r="1.6" fill="#1a1a1a"/>
<circle cx="226.87" cy="414.56" r="1.6" fill="#1a1a1a"/>
<circle cx="226.87" cy="413.16" r="1.6" fill="#1a1a1a"/>
<circle cx="226.87" cy="411.76" r="1.6" fill="#1a1a1a"/>
<circle cx="226.87" cy="410.36" r="1.6" fill="#1a1a1a"/>
<circle cx="226.87" cy="408.96" r="1.6" fill="#1a1a1a"/>
<circle cx="226.87" cy="407.56" r="1.6" fill="#1a1a1a"/>
<line x1="234.35" y1="455.65" x2="234.35" y2="465.69" stroke="#333333" stroke-width="0.7"/>
<line x1="234.35" y1="477.66" x2="234.35" y2="490.48" stroke="#333333" stroke-width="0.7"/>
<rect x="231.54" y="465.69" width="5.61" height="11.97" fill="#00BF7D" stroke="#333333" stroke-width="0.6"/>
<line x1="231.54" y1="471.89" x2="237.16" y2="471.89" stroke="#333333" stroke-width="1.3"/>
<line x1="241.83" y1="433.42" x2="241.83" y2="452.01" stroke="#333333" stroke-width="0.7"/>
<line x1="241.83" y1="469.75" x2="241.83" y2="493.69" stroke="#333333" stroke-width="0.7"/>
<rect x="239.03" y="452.01" width="5.61" height="17.74" fill="#00B0F6" stroke="#333333" stroke-width="0.6"/>
<line x1="239.03" y1="460.78" x2="244.64" y2="460.78" stroke="#333333" stroke-width="1.3"/>
<circle cx="241.83" cy="414.83" r="1.6" fill="#1a1a1a"/>
<line x1="249.31" y1="460.99" x2="249.31" y2="468.26" stroke="#333333" stroke-width="0.7"/>
<line x1="249.31" y1="476.8" x2="249.31" y2="476.8" stroke="#333333" stroke-width="0.7"/>
<rect x="246.51" y="468.26" width="5.61" height="8.55" fill="#E76BF3" stroke="#333333" stroke-width="0.6"/>
<line x1="246.51" y1="475.52" x2="252.12" y2="475.52" stroke="#333333" stroke-width="1.3"/>
<rect x="214.9" y="330.8" width="38.9" height="10.8" fill="#d9d9d9"/>
<line x1="214.9" y1="531.8" x2="253.8" y2="531.8" stroke="#666666" stroke-width="0.9"/>
<line x1="214.9" y1="330.8" x2="253.8" y2="330.8" stroke="#b0b0b0" stroke-width="0.9"/>
<line x1="214.9" y1="341.6" x2="253.8" y2="341.6" stroke="#999999" stroke-width="0.9"/>
<line x1="253.8" y1="330.8" x2="253.8" y2="531.8" stroke="#aaaaaa" stroke-width="0.9"/>
<line x1="214.9" y1="330.8" x2="214.9" y2="531.8" stroke="#888888" stroke-width="0.9"/>
<text x="234.35" y="338.29" font-size="5.8" fill="#333333" text-anchor="middle"  stroke="#333333" stroke-width="0.15">E2F3*</text>
<line x1="219.39" y1="531.8" x2="219.39" y2="534" stroke="#333333" stroke-width="0.6"/>
<text x="219.39" y="540" font-size="5.85" fill="#4d4d4d" text-anchor="middle"  stroke="#4d4d4d" stroke-width="0.1">C1</text>
<line x1="226.87" y1="531.8" x2="226.87" y2="534" stroke="#333333" stroke-width="0.6"/>
<text x="226.87" y="540" font-size="5.85" fill="#4d4d4d" text-anchor="middle"  stroke="#4d4d4d" stroke-width="0.1">C2</text>
<line x1="234.35" y1="531.8" x2="234.35" y2="534" stroke="#333333" stroke-width="0.6"/>
<text x="234.35" y="540" font-size="5.85" fill="#4d4d4d" text-anchor="middle"  stroke="#4d4d4d" stroke-width="0.1">C3</text>
<line x1="241.83" y1="531.8" x2="241.83" y2="534" stroke="#333333" stroke-width="0.6"/>
<text x="241.83" y="540" font-size="5.85" fill="#4d4d4d" text-anchor="middle"  stroke="#4d4d4d" stroke-width="0.1">C4</text>
<line x1="249.31" y1="531.8" x2="249.31" y2="534" stroke="#333333" stroke-width="0.6"/>
<text x="249.31" y="540" font-size="5.85" fill="#4d4d4d" text-anchor="middle"  stroke="#4d4d4d" stroke-width="0.1">C6</text>
<line x1="257.55" y1="503.73" x2="296.45" y2="503.73" stroke="#f4f4f4" stroke-width="0.5"/>
<line x1="257.55" y1="460.99" x2="296.45" y2="460.99" stroke="#f4f4f4" stroke-width="0.5"/>
<line x1="257.55" y1="418.25" x2="296.45" y2="418.25" stroke="#f4f4f4" stroke-width="0.5"/>
<line x1="257.55" y1="375.51" x2="296.45" y2="375.51" stroke="#f4f4f4" stroke-width="0.5"/>
<line x1="257.55" y1="525.1" x2="296.45" y2="525.1" stroke="#ebebeb" stroke-width="0.9"/>
<line x1="257.55" y1="482.36" x2="296.45" y2="482.36" stroke="#ebebeb" stroke-width="0.9"/>
<line x1="257.55" y1="439.62" x2="296.45" y2="439.62" stroke="#ebebeb" stroke-width="0.9"/>
<line x1="257.55" y1="396.88" x2="296.45" y2="396.88" stroke="#ebebeb" stroke-width="0.9"/>
<line x1="257.55" y1="354.14" x2="296.45" y2="354.14" stroke="#ebebeb" stroke-width="0.9"/>
<line x1="262.04" y1="341.6" x2="262.04" y2="531.8" stroke="#ebebeb" stroke-width="0.9"/>
<line x1="269.52" y1="341.6" x2="269.52" y2="531.8" stroke="#ebebeb" stroke-width="0.9"/>
<line x1="277" y1="341.6" x2="277" y2="531.8" stroke="#ebebeb" stroke-width="0.9"/>
<line x1="284.48" y1="341.6" x2="284.48" y2="531.8" stroke="#ebebeb" stroke-width="0.9"/>
<line x1="291.96" y1="341.6" x2="291.96" y2="531.8" stroke="#ebebeb" stroke-width="0.9"/>
<line x1="262.04" y1="400.73" x2="262.04" y2="419.1" stroke="#333333" stroke-width="0.7"/>
<line x1="262.04" y1="432.35" x2="262.04" y2="451.37" stroke="#333333" stroke-width="0.7"/>
<rect x="259.23" y="419.1" width="5.61" height="13.25" fill="#F8766D" stroke="#333333" stroke-width="0.6"/>
<line x1="259.23" y1="426.16" x2="264.84" y2="426.16" stroke="#333333" stroke-width="1.3"/>
<circle cx="262.04" cy="391.11" r="1.6" fill="#1a1a1a"/>
<circle cx="262.04" cy="393.03" r="1.6" fill="#1a1a1a"/>
<circle cx="262.04" cy="397.95" r="1.6" fill="#1a1a1a"/>
<circle cx="262.04" cy="452.87" r="1.6" fill="#1a1a1a"/>
<line x1="269.52" y1="402.01" x2="269.52" y2="419.75" stroke="#333333" stroke-width="0.7"/>
<line x1="269.52" y1="432.14" x2="269.52" y2="453.3" stroke="#333333" stroke-width="0.7"/>
<rect x="266.71" y="419.75" width="5.61" height="12.39" fill="#A3A500" stroke="#333333" stroke-width="0.6"/>
<line x1="266.71" y1="426.58" x2="272.32" y2="426.58" stroke="#333333" stroke-width="1.3"/>
<circle cx="269.52" cy="454.79" r="1.6" fill="#1a1a1a"/>
<line x1="277" y1="412.27" x2="277" y2="426.16" stroke="#333333" stroke-width="0.7"/>
<line x1="277" y1="436.41" x2="277" y2="448.38" stroke="#333333" stroke-width="0.7"/>
<rect x="274.19" y="426.16" width="5.61" height="10.26" fill="#00BF7D" stroke="#333333" stroke-width="0.6"/>
<line x1="274.19" y1="431.5" x2="279.81" y2="431.5" stroke="#333333" stroke-width="1.3"/>
<line x1="284.48" y1="405" x2="284.48" y2="420.39" stroke="#333333" stroke-width="0.7"/>
<line x1="284.48" y1="431.07" x2="284.48" y2="447.74" stroke="#333333" stroke-width="0.7"/>
<rect x="281.68" y="420.39" width="5.61" height="10.69" fill="#00B0F6" stroke="#333333" stroke-width="0.6"/>
<line x1="281.68" y1="425.09" x2="287.29" y2="425.09" stroke="#333333" stroke-width="1.3"/>
<circle cx="284.48" cy="448.6" r="1.6" fill="#1a1a1a"/>
<circle cx="284.48" cy="449.88" r="1.6" fill="#1a1a1a"/>
<line x1="291.96" y1="414.62" x2="291.96" y2="418.25" stroke="#333333" stroke-width="0.7"/>
<line x1="291.96" y1="426.16" x2="291.96" y2="430.64" stroke="#333333" stroke-width="0.7"/>
<rect x="289.16" y="418.25" width="5.61" height="7.91" fill="#E76BF3" stroke="#333333" stroke-width="0.6"/>
<line x1="289.16" y1="422.52" x2="294.77" y2="422.52" stroke="#333333" stroke-width="1.3"/>
<rect x="257.55" y="330.8" width="38.9" height="10.8" fill="#d9d9d9"/>
<line x1="257.55" y1="531.8" x2="296.45" y2="531.8" stroke="#666666" stroke-width="0.9"/>
<line x1="257.55" y1="330.8" x2="296.45" y2="330.8" stroke="#b0b0b0" stroke-width="0.9"/>
<line x1="257.55" y1="341.6" x2="296.45" y2="341.6" stroke="#999999" stroke-width="0.9"/>
<line x1="296.45" y1="330.8" x2="296.45" y2="531.8" stroke="#aaaaaa" stroke-width="0.9"/>
<line x1="257.55" y1="330.8" x2="257.55" y2="531.8" stroke="#888888" stroke-width="0.9"/>
<text x="277" y="338.29" font-size="5.8" fill="#333333" text-anchor="middle"  stroke="#333333" stroke-width="0.15">E2F4</text>
<line x1="262.04" y1="531.8" x2="262.04" y2="534" stroke="#333333" stroke-width="0.6"/>
<text x="262.04" y="540" font-size="5.85" fill="#4d4d4d" text-anchor="middle"  stroke="#4d4d4d" stroke-width="0.1">C1</text>
<line x1="269.52" y1="531.8" x2="269.52" y2="534" stroke="#333333" stroke-width="0.6"/>
<text x="269.52" y="540" font-size="5.85" fill="#4d4d4d" text-anchor="middle"  stroke="#4d4d4d" stroke-width="0.1">C2</text>
<line x1="277" y1="531.8" x2="277" y2="534" stroke="#333333" stroke-width="0.6"/>
<text x="277" y="540" font-size="5.85" fill="#4d4d4d" text-anchor="middle"  stroke="#4d4d4d" stroke-width="0.1">C3</text>
<line x1="284.48" y1="531.8" x2="284.48" y2="534" stroke="#333333" stroke-width="0.6"/>
<text x="284.48" y="540" font-size="5.85" fill="#4d4d4d" text-anchor="middle"  stroke="#4d4d4d" stroke-width="0.1">C4</text>
<line x1="291.96" y1="531.8" x2="291.96" y2="534" stroke="#333333" stroke-width="0.6"/>
<text x="291.96" y="540" font-size="5.85" fill="#4d4d4d" text-anchor="middle"  stroke="#4d4d4d" stroke-width="0.1">C6</text>
<line x1="300.2" y1="503.73" x2="339.1" y2="503.73" stroke="#f4f4f4" stroke-width="0.5"/>
<line x1="300.2" y1="460.99" x2="339.1" y2="460.99" stroke="#f4f4f4" stroke-width="0.5"/>
<line x1="300.2" y1="418.25" x2="339.1" y2="418.25" stroke="#f4f4f4" stroke-width="0.5"/>
<line x1="300.2" y1="375.51" x2="339.1" y2="375.51" stroke="#f4f4f4" stroke-width="0.5"/>
<line x1="300.2" y1="525.1" x2="339.1" y2="525.1" stroke="#ebebeb" stroke-width="0.9"/>
<line x1="300.2" y1="482.36" x2="339.1" y2="482.36" stroke="#ebebeb" stroke-width="0.9"/>
<line x1="300.2" y1="439.62" x2="339.1" y2="439.62" stroke="#ebebeb" stroke-width="0.9"/>
<line x1="300.2" y1="396.88" x2="339.1" y2="396.88" stroke="#ebebeb" stroke-width="0.9"/>
<line x1="300.2" y1="354.14" x2="339.1" y2="354.14" stroke="#ebebeb" stroke-width="0.9"/>
<line x1="304.69" y1="341.6" x2="304.69" y2="531.8" stroke="#ebebeb" stroke-width="0.9"/>
<line x1="312.17" y1="341.6" x2="312.17" y2="531.8" stroke="#ebebeb" stroke-width="0.9"/>
<line x1="319.65" y1="341.6" x2="319.65" y2="531.8" stroke="#ebebeb" stroke-width="0.9"/>
<line x1="327.13" y1="341.6" x2="327.13" y2="531.8" stroke="#ebebeb" stroke-width="0.9"/>
<line x1="334.61" y1="341.6" x2="334.61" y2="531.8" stroke="#ebebeb" stroke-width="0.9"/>
<line x1="304.69" y1="468.26" x2="304.69" y2="487.28" stroke="#333333" stroke-width="0.7"/>
<line x1="304.69" y1="501.81" x2="304.69" y2="519.76" stroke="#333333" stroke-width="0.7"/>
<rect x="301.88" y="487.28" width="5.61" height="14.53" fill="#F8766D" stroke="#333333" stroke-width="0.6"/>
<line x1="301.88" y1="493.26" x2="307.49" y2="493.26" stroke="#333333" stroke-width="1.3"/>
<circle cx="304.69" cy="454.79" r="1.6" fill="#1a1a1a"/>
<circle cx="304.69" cy="458" r="1.6" fill="#1a1a1a"/>
<circle cx="304.69" cy="463.34" r="1.6" fill="#1a1a1a"/>
<line x1="312.17" y1="463.34" x2="312.17" y2="489.2" stroke="#333333" stroke-width="0.7"/>
<line x1="312.17" y1="507.15" x2="312.17" y2="518.48" stroke="#333333" stroke-width="0.7"/>
<rect x="309.36" y="489.2" width="5.61" height="17.95" fill="#A3A500" stroke="#333333" stroke-width="0.6"/>
<line x1="309.36" y1="498.17" x2="314.97" y2="498.17" stroke="#333333" stroke-width="1.3"/>
<circle cx="312.17" cy="447.1" r="1.6" fill="#1a1a1a"/>
<line x1="319.65" y1="465.48" x2="319.65" y2="485.99" stroke="#333333" stroke-width="0.7"/>
<line x1="319.65" y1="501.17" x2="319.65" y2="508.65" stroke="#333333" stroke-width="0.7"/>
<rect x="316.84" y="485.99" width="5.61" height="15.17" fill="#00BF7D" stroke="#333333" stroke-width="0.6"/>
<line x1="316.84" y1="491.76" x2="322.46" y2="491.76" stroke="#333333" stroke-width="1.3"/>
<line x1="327.13" y1="469.54" x2="327.13" y2="483.21" stroke="#333333" stroke-width="0.7"/>
<line x1="327.13" y1="497.75" x2="327.13" y2="514.84" stroke="#333333" stroke-width="0.7"/>
<rect x="324.33" y="483.21" width="5.61" height="14.53" fill="#00B0F6" stroke="#333333" stroke-width="0.6"/>
<line x1="324.33" y1="490.05" x2="329.94" y2="490.05" stroke="#333333" stroke-width="1.3"/>
<circle cx="327.13" cy="460.14" r="1.6" fill="#1a1a1a"/>
<line x1="334.61" y1="498.17" x2="334.61" y2="503.94" stroke="#333333" stroke-width="0.7"/>
<line x1="334.61" y1="510.78" x2="334.61" y2="511.64" stroke="#333333" stroke-width="0.7"/>
<rect x="331.81" y="503.94" width="5.61" height="6.84" fill="#E76BF3" stroke="#333333" stroke-width="0.6"/>
<line x1="331.81" y1="508.86" x2="337.42" y2="508.86" stroke="#333333" stroke-width="1.3"/>
<rect x="300.2" y="330.8" width="38.9" height="10.8" fill="#d9d9d9"/>
<line x1="300.2" y1="531.8" x2="339.1" y2="531.8" stroke="#666666" stroke-width="0.9"/>
<line x1="300.2" y1="330.8" x2="339.1" y2="330.8" stroke="#b0b0b0" stroke-width="0.9"/>
<line x1="300.2" y1="341.6" x2="339.1" y2="341.6" stroke="#999999" stroke-width="0.9"/>
<line x1="339.1" y1="330.8" x2="339.1" y2="531.8" stroke="#aaaaaa" stroke-width="0.9"/>
<line x1="300.2" y1="330.8" x2="300.2" y2="531.8" stroke="#888888" stroke-width="0.9"/>
<text x="319.65" y="338.29" font-size="5.8" fill="#333333" text-anchor="middle"  stroke="#333333" stroke-width="0.15">E2F5***</text>
<line x1="304.69" y1="531.8" x2="304.69" y2="534" stroke="#333333" stroke-width="0.6"/>
<text x="304.69" y="540" font-size="5.85" fill="#4d4d4d" text-anchor="middle"  stroke="#4d4d4d" stroke-width="0.1">C1</text>
<line x1="312.17" y1="531.8" x2="312.17" y2="534" stroke="#333333" stroke-width="0.6"/>
<text x="312.17" y="540" font-size="5.85" fill="#4d4d4d" text-anchor="middle"  stroke="#4d4d4d" stroke-width="0.1">C2</text>
<line x1="319.65" y1="531.8" x2="319.65" y2="534" stroke="#333333" stroke-width="0.6"/>
<text x="319.65" y="540" font-size="5.85" fill="#4d4d4d" text-anchor="middle"  stroke="#4d4d4d" stroke-width="0.1">C3</text>
<line x1="327.13" y1="531.8" x2="327.13" y2="534" stroke="#333333" stroke-width="0.6"/>
<text x="327.13" y="540" font-size="5.85" fill="#4d4d4d" text-anchor="middle"  stroke="#4d4d4d" stroke-width="0.1">C4</text>
<line x1="334.61" y1="531.8" x2="334.61" y2="534" stroke="#333333" stroke-width="0.6"/>
<text x="334.61" y="540" font-size="5.85" fill="#4d4d4d" text-anchor="middle"  stroke="#4d4d4d" stroke-width="0.1">C6</text>
<line x1="342.85" y1="503.73" x2="381.75" y2="503.73" stroke="#f4f4f4" stroke-width="0.5"/>
<line x1="342.85" y1="460.99" x2="381.75" y2="460.99" stroke="#f4f4f4" stroke-width="0.5"/>
<line x1="342.85" y1="418.25" x2="381.75" y2="418.25" stroke="#f4f4f4" stroke-width="0.5"/>
<line x1="342.85" y1="375.51" x2="381.75" y2="375.51" stroke="#f4f4f4" stroke-width="0.5"/>
<line x1="342.85" y1="525.1" x2="381.75" y2="525.1" stroke="#ebebeb" stroke-width="0.9"/>
<line x1="342.85" y1="482.36" x2="381.75" y2="482.36" stroke="#ebebeb" stroke-width="0.9"/>
<line x1="342.85" y1="439.62" x2="381.75" y2="439.62" stroke="#ebebeb" stroke-width="0.9"/>
<line x1="342.85" y1="396.88" x2="381.75" y2="396.88" stroke="#ebebeb" stroke-width="0.9"/>
<line x1="342.85" y1="354.14" x2="381.75" y2="354.14" stroke="#ebebeb" stroke-width="0.9"/>
<line x1="347.34" y1="341.6" x2="347.34" y2="531.8" stroke="#ebebeb" stroke-width="0.9"/>
<line x1="354.82" y1="341.6" x2="354.82" y2="531.8" stroke="#ebebeb" stroke-width="0.9"/>
<line x1="362.3" y1="341.6" x2="362.3" y2="531.8" stroke="#ebebeb" stroke-width="0.9"/>
<line x1="369.78" y1="341.6" x2="369.78" y2="531.8" stroke="#ebebeb" stroke-width="0.9"/>
<line x1="377.26" y1="341.6" x2="377.26" y2="531.8" stroke="#ebebeb" stroke-width="0.9"/>
<line x1="347.34" y1="462.06" x2="347.34" y2="476.8" stroke="#333333" stroke-width="0.7"/>
<line x1="347.34" y1="487.7" x2="347.34" y2="497.32" stroke="#333333" stroke-width="0.7"/>
<rect x="344.53" y="476.8" width="5.61" height="10.9" fill="#F8766D" stroke="#333333" stroke-width="0.6"/>
<line x1="344.53" y1="481.51" x2="350.14" y2="481.51" stroke="#333333" stroke-width="1.3"/>
<circle cx="347.34" cy="454.79" r="1.6" fill="#1a1a1a"/>
<circle cx="347.34" cy="456.72" r="1.6" fill="#1a1a1a"/>
<circle cx="347.34" cy="458.43" r="1.6" fill="#1a1a1a"/>
<line x1="354.82" y1="462.06" x2="354.82" y2="477.02" stroke="#333333" stroke-width="0.7"/>
<line x1="354.82" y1="486.63" x2="354.82" y2="503.3" stroke="#333333" stroke-width="0.7"/>
<rect x="352.01" y="477.02" width="5.61" height="9.62" fill="#A3A500" stroke="#333333" stroke-width="0.6"/>
<line x1="352.01" y1="481.08" x2="357.62" y2="481.08" stroke="#333333" stroke-width="1.3"/>
<circle cx="354.82" cy="462.06" r="1.6" fill="#1a1a1a"/>
<circle cx="354.82" cy="503.3" r="1.6" fill="#1a1a1a"/>
<line x1="362.3" y1="481.29" x2="362.3" y2="485.99" stroke="#333333" stroke-width="0.7"/>
<line x1="362.3" y1="490.05" x2="362.3" y2="494.54" stroke="#333333" stroke-width="0.7"/>
<rect x="359.49" y="485.99" width="5.61" height="4.06" fill="#00BF7D" stroke="#333333" stroke-width="0.6"/>
<line x1="359.49" y1="488.13" x2="365.11" y2="488.13" stroke="#333333" stroke-width="1.3"/>
<circle cx="362.3" cy="498.39" r="1.6" fill="#1a1a1a"/>
<circle cx="362.3" cy="505.44" r="1.6" fill="#1a1a1a"/>
<line x1="369.78" y1="467.4" x2="369.78" y2="478.73" stroke="#333333" stroke-width="0.7"/>
<line x1="369.78" y1="487.7" x2="369.78" y2="496.25" stroke="#333333" stroke-width="0.7"/>
<rect x="366.98" y="478.73" width="5.61" height="8.98" fill="#00B0F6" stroke="#333333" stroke-width="0.6"/>
<line x1="366.98" y1="483.64" x2="372.59" y2="483.64" stroke="#333333" stroke-width="1.3"/>
<circle cx="369.78" cy="463.13" r="1.6" fill="#1a1a1a"/>
<circle cx="369.78" cy="500.95" r="1.6" fill="#1a1a1a"/>
<line x1="377.26" y1="477.87" x2="377.26" y2="480.01" stroke="#333333" stroke-width="0.7"/>
<line x1="377.26" y1="487.28" x2="377.26" y2="491.34" stroke="#333333" stroke-width="0.7"/>
<rect x="374.46" y="480.01" width="5.61" height="7.27" fill="#E76BF3" stroke="#333333" stroke-width="0.6"/>
<line x1="374.46" y1="483.21" x2="380.07" y2="483.21" stroke="#333333" stroke-width="1.3"/>
<rect x="342.85" y="330.8" width="38.9" height="10.8" fill="#d9d9d9"/>
<line x1="342.85" y1="531.8" x2="381.75" y2="531.8" stroke="#666666" stroke-width="0.9"/>
<line x1="342.85" y1="330.8" x2="381.75" y2="330.8" stroke="#b0b0b0" stroke-width="0.9"/>
<line x1="342.85" y1="341.6" x2="381.75" y2="341.6" stroke="#999999" stroke-width="0.9"/>
<line x1="381.75" y1="330.8" x2="381.75" y2="531.8" stroke="#aaaaaa" stroke-width="0.9"/>
<line x1="342.85" y1="330.8" x2="342.85" y2="531.8" stroke="#888888" stroke-width="0.9"/>
<text x="362.3" y="338.29" font-size="5.8" fill="#333333" text-anchor="middle"  stroke="#333333" stroke-width="0.15">E2F6**</text>
<line x1="347.34" y1="531.8" x2="347.34" y2="534" stroke="#333333" stroke-width="0.6"/>
<text x="347.34" y="540" font-size="5.85" fill="#4d4d4d" text-anchor="middle"  stroke="#4d4d4d" stroke-width="0.1">C1</text>
<line x1="354.82" y1="531.8" x2="354.82" y2="534" stroke="#333333" stroke-width="0.6"/>
<text x="354.82" y="540" font-size="5.85" fill="#4d4d4d" text-anchor="middle"  stroke="#4d4d4d" stroke-width="0.1">C2</text>
<line x1="362.3" y1="531.8" x2="362.3" y2="534" stroke="#333333" stroke-width="0.6"/>
<text x="362.3" y="540" font-size="5.85" fill="#4d4d4d" text-anchor="middle"  stroke="#4d4d4d" stroke-width="0.1">C3</text>
<line x1="369.78" y1="531.8" x2="369.78" y2="534" stroke="#333333" stroke-width="0.6"/>
<text x="369.78" y="540" font-size="5.85" fill="#4d4d4d" text-anchor="middle"  stroke="#4d4d4d" stroke-width="0.1">C4</text>
<line x1="377.26" y1="531.8" x2="377.26" y2="534" stroke="#333333" stroke-width="0.6"/>
<text x="377.26" y="540" font-size="5.85" fill="#4d4d4d" text-anchor="middle"  stroke="#4d4d4d" stroke-width="0.1">C6</text>
<line x1="385.5" y1="503.73" x2="424.4" y2="503.73" stroke="#f4f4f4" stroke-width="0.5"/>
<line x1="385.5" y1="460.99" x2="424.4" y2="460.99" stroke="#f4f4f4" stroke-width="0.5"/>
<line x1="385.5" y1="418.25" x2="424.4" y2="418.25" stroke="#f4f4f4" stroke-width="0.5"/>
<line x1="385.5" y1="375.51" x2="424.4" y2="375.51" stroke="#f4f4f4" stroke-width="0.5"/>
<line x1="385.5" y1="525.1" x2="424.4" y2="525.1" stroke="#ebebeb" stroke-width="0.9"/>
<line x1="385.5" y1="482.36" x2="424.4" y2="482.36" stroke="#ebebeb" stroke-width="0.9"/>
<line x1="385.5" y1="439.62" x2="424.4" y2="439.62" stroke="#ebebeb" stroke-width="0.9"/>
<line x1="385.5" y1="396.88" x2="424.4" y2="396.88" stroke="#ebebeb" stroke-width="0.9"/>
<line x1="385.5" y1="354.14" x2="424.4" y2="354.14" stroke="#ebebeb" stroke-width="0.9"/>
<line x1="389.99" y1="341.6" x2="389.99" y2="531.8" stroke="#ebebeb" stroke-width="0.9"/>
<line x1="397.47" y1="341.6" x2="397.47" y2="531.8" stroke="#ebebeb" stroke-width="0.9"/>
<line x1="404.95" y1="341.6" x2="404.95" y2="531.8" stroke="#ebebeb" stroke-width="0.9"/>
<line x1="412.43" y1="341.6" x2="412.43" y2="531.8" stroke="#ebebeb" stroke-width="0.9"/>
<line x1="419.91" y1="341.6" x2="419.91" y2="531.8" stroke="#ebebeb" stroke-width="0.9"/>
<line x1="389.99" y1="470.61" x2="389.99" y2="492.62" stroke="#333333" stroke-width="0.7"/>
<line x1="389.99" y1="509.07" x2="389.99" y2="522.54" stroke="#333333" stroke-width="0.7"/>
<rect x="387.18" y="492.62" width="5.61" height="16.45" fill="#F8766D" stroke="#333333" stroke-width="0.6"/>
<line x1="387.18" y1="501.17" x2="392.79" y2="501.17" stroke="#333333" stroke-width="1.3"/>
<circle cx="389.99" cy="455.65" r="1.6" fill="#1a1a1a"/>
<circle cx="389.99" cy="461.42" r="1.6" fill="#1a1a1a"/>
<circle cx="389.99" cy="466.55" r="1.6" fill="#1a1a1a"/>
<line x1="397.47" y1="455.22" x2="397.47" y2="482.15" stroke="#333333" stroke-width="0.7"/>
<line x1="397.47" y1="503.09" x2="397.47" y2="520.18" stroke="#333333" stroke-width="0.7"/>
<rect x="394.66" y="482.15" width="5.61" height="20.94" fill="#A3A500" stroke="#333333" stroke-width="0.6"/>
<line x1="394.66" y1="493.05" x2="400.27" y2="493.05" stroke="#333333" stroke-width="1.3"/>
<line x1="404.95" y1="497.75" x2="404.95" y2="506.94" stroke="#333333" stroke-width="0.7"/>
<line x1="404.95" y1="517.62" x2="404.95" y2="520.83" stroke="#333333" stroke-width="0.7"/>
<rect x="402.14" y="506.94" width="5.61" height="10.68" fill="#00BF7D" stroke="#333333" stroke-width="0.6"/>
<line x1="402.14" y1="513.13" x2="407.76" y2="513.13" stroke="#333333" stroke-width="1.3"/>
<circle cx="404.95" cy="482.15" r="1.6" fill="#1a1a1a"/>
<line x1="412.43" y1="468.68" x2="412.43" y2="495.82" stroke="#333333" stroke-width="0.7"/>
<line x1="412.43" y1="513.99" x2="412.43" y2="522.54" stroke="#333333" stroke-width="0.7"/>
<rect x="409.63" y="495.82" width="5.61" height="18.16" fill="#00B0F6" stroke="#333333" stroke-width="0.6"/>
<line x1="409.63" y1="502.66" x2="415.24" y2="502.66" stroke="#333333" stroke-width="1.3"/>
<circle cx="412.43" cy="432.14" r="1.6" fill="#1a1a1a"/>
<circle cx="412.43" cy="454.15" r="1.6" fill="#1a1a1a"/>
<line x1="419.91" y1="478.73" x2="419.91" y2="493.05" stroke="#333333" stroke-width="0.7"/>
<line x1="419.91" y1="515.27" x2="419.91" y2="523.39" stroke="#333333" stroke-width="0.7"/>
<rect x="417.11" y="493.05" width="5.61" height="22.22" fill="#E76BF3" stroke="#333333" stroke-width="0.6"/>
<line x1="417.11" y1="507.15" x2="422.72" y2="507.15" stroke="#333333" stroke-width="1.3"/>
<rect x="385.5" y="330.8" width="38.9" height="10.8" fill="#d9d9d9"/>
<line x1="385.5" y1="531.8" x2="424.4" y2="531.8" stroke="#666666" stroke-width="0.9"/>
<line x1="385.5" y1="330.8" x2="424.4" y2="330.8" stroke="#b0b0b0" stroke-width="0.9"/>
<line x1="385.5" y1="341.6" x2="424.4" y2="341.6" stroke="#999999" stroke-width="0.9"/>
<line x1="424.4" y1="330.8" x2="424.4" y2="531.8" stroke="#aaaaaa" stroke-width="0.9"/>
<line x1="385.5" y1="330.8" x2="385.5" y2="531.8" stroke="#888888" stroke-width="0.9"/>
<text x="404.95" y="338.29" font-size="5.8" fill="#333333" text-anchor="middle"  stroke="#333333" stroke-width="0.15">E2F7***</text>
<line x1="389.99" y1="531.8" x2="389.99" y2="534" stroke="#333333" stroke-width="0.6"/>
<text x="389.99" y="540" font-size="5.85" fill="#4d4d4d" text-anchor="middle"  stroke="#4d4d4d" stroke-width="0.1">C1</text>
<line x1="397.47" y1="531.8" x2="397.47" y2="534" stroke="#333333" stroke-width="0.6"/>
<text x="397.47" y="540" font-size="5.85" fill="#4d4d4d" text-anchor="middle"  stroke="#4d4d4d" stroke-width="0.1">C2</text>
<line x1="404.95" y1="531.8" x2="404.95" y2="534" stroke="#333333" stroke-width="0.6"/>
<text x="404.95" y="540" font-size="5.85" fill="#4d4d4d" text-anchor="middle"  stroke="#4d4d4d" stroke-width="0.1">C3</text>
<line x1="412.43" y1="531.8" x2="412.43" y2="534" stroke="#333333" stroke-width="0.6"/>
<text x="412.43" y="540" font-size="5.85" fill="#4d4d4d" text-anchor="middle"  stroke="#4d4d4d" stroke-width="0.1">C4</text>
<line x1="419.91" y1="531.8" x2="419.91" y2="534" stroke="#333333" stroke-width="0.6"/>
<text x="419.91" y="540" font-size="5.85" fill="#4d4d4d" text-anchor="middle"  stroke="#4d4d4d" stroke-width="0.1">C6</text>
<line x1="428.15" y1="503.73" x2="467.05" y2="503.73" stroke="#f4f4f4" stroke-width="0.5"/>
<line x1="428.15" y1="460.99" x2="467.05" y2="460.99" stroke="#f4f4f4" stroke-width="0.5"/>
<line x1="428.15" y1="418.25" x2="467.05" y2="418.25" stroke="#f4f4f4" stroke-width="0.5"/>
<line x1="428.15" y1="375.51" x2="467.05" y2="375.51" stroke="#f4f4f4" stroke-width="0.5"/>
<line x1="428.15" y1="525.1" x2="467.05" y2="525.1" stroke="#ebebeb" stroke-width="0.9"/>
<line x1="428.15" y1="482.36" x2="467.05" y2="482.36" stroke="#ebebeb" stroke-width="0.9"/>
<line x1="428.15" y1="439.62" x2="467.05" y2="439.62" stroke="#ebebeb" stroke-width="0.9"/>
<line x1="428.15" y1="396.88" x2="467.05" y2="396.88" stroke="#ebebeb" stroke-width="0.9"/>
<line x1="428.15" y1="354.14" x2="467.05" y2="354.14" stroke="#ebebeb" stroke-width="0.9"/>
<line x1="432.64" y1="341.6" x2="432.64" y2="531.8" stroke="#ebebeb" stroke-width="0.9"/>
<line x1="440.12" y1="341.6" x2="440.12" y2="531.8" stroke="#ebebeb" stroke-width="0.9"/>
<line x1="447.6" y1="341.6" x2="447.6" y2="531.8" stroke="#ebebeb" stroke-width="0.9"/>
<line x1="455.08" y1="341.6" x2="455.08" y2="531.8" stroke="#ebebeb" stroke-width="0.9"/>
<line x1="462.56" y1="341.6" x2="462.56" y2="531.8" stroke="#ebebeb" stroke-width="0.9"/>
<line x1="432.64" y1="434.28" x2="432.64" y2="465.91" stroke="#333333" stroke-width="0.7"/>
<line x1="432.64" y1="491.76" x2="432.64" y2="519.54" stroke="#333333" stroke-width="0.7"/>
<rect x="429.83" y="465.91" width="5.61" height="25.86" fill="#F8766D" stroke="#333333" stroke-width="0.6"/>
<line x1="429.83" y1="477.02" x2="435.44" y2="477.02" stroke="#333333" stroke-width="1.3"/>
<circle cx="432.64" cy="421.03" r="1.6" fill="#1a1a1a"/>
<line x1="440.12" y1="438.55" x2="440.12" y2="471.89" stroke="#333333" stroke-width="0.7"/>
<line x1="440.12" y1="494.11" x2="440.12" y2="513.99" stroke="#333333" stroke-width="0.7"/>
<rect x="437.31" y="471.89" width="5.61" height="22.22" fill="#A3A500" stroke="#333333" stroke-width="0.6"/>
<line x1="437.31" y1="483.64" x2="442.92" y2="483.64" stroke="#333333" stroke-width="1.3"/>
<circle cx="440.12" cy="435.77" r="1.6" fill="#1a1a1a"/>
<line x1="447.6" y1="465.91" x2="447.6" y2="480.44" stroke="#333333" stroke-width="0.7"/>
<line x1="447.6" y1="500.52" x2="447.6" y2="513.56" stroke="#333333" stroke-width="0.7"/>
<rect x="444.79" y="480.44" width="5.61" height="20.09" fill="#00BF7D" stroke="#333333" stroke-width="0.6"/>
<line x1="444.79" y1="492.62" x2="450.41" y2="492.62" stroke="#333333" stroke-width="1.3"/>
<circle cx="447.6" cy="449.66" r="1.6" fill="#1a1a1a"/>
<line x1="455.08" y1="423.81" x2="455.08" y2="467.83" stroke="#333333" stroke-width="0.7"/>
<line x1="455.08" y1="498.17" x2="455.08" y2="517.41" stroke="#333333" stroke-width="0.7"/>
<rect x="452.28" y="467.83" width="5.61" height="30.35" fill="#00B0F6" stroke="#333333" stroke-width="0.6"/>
<line x1="452.28" y1="481.08" x2="457.89" y2="481.08" stroke="#333333" stroke-width="1.3"/>
<line x1="462.56" y1="453.51" x2="462.56" y2="466.97" stroke="#333333" stroke-width="0.7"/>
<line x1="462.56" y1="500.31" x2="462.56" y2="521.25" stroke="#333333" stroke-width="0.7"/>
<rect x="459.76" y="466.97" width="5.61" height="33.34" fill="#E76BF3" stroke="#333333" stroke-width="0.6"/>
<line x1="459.76" y1="479.15" x2="465.37" y2="479.15" stroke="#333333" stroke-width="1.3"/>
<rect x="428.15" y="330.8" width="38.9" height="10.8" fill="#d9d9d9"/>
<line x1="428.15" y1="531.8" x2="467.05" y2="531.8" stroke="#666666" stroke-width="0.9"/>
<line x1="428.15" y1="330.8" x2="467.05" y2="330.8" stroke="#b0b0b0" stroke-width="0.9"/>
<line x1="428.15" y1="341.6" x2="467.05" y2="341.6" stroke="#999999" stroke-width="0.9"/>
<line x1="467.05" y1="330.8" x2="467.05" y2="531.8" stroke="#aaaaaa" stroke-width="0.9"/>
<line x1="428.15" y1="330.8" x2="428.15" y2="531.8" stroke="#888888" stroke-width="0.9"/>
<text x="447.6" y="338.29" font-size="5.8" fill="#333333" text-anchor="middle"  stroke="#333333" stroke-width="0.15">E2F8*</text>
<line x1="432.64" y1="531.8" x2="432.64" y2="534" stroke="#333333" stroke-width="0.6"/>
<text x="432.64" y="540" font-size="5.85" fill="#4d4d4d" text-anchor="middle"  stroke="#4d4d4d" stroke-width="0.1">C1</text>
<line x1="440.12" y1="531.8" x2="440.12" y2="534" stroke="#333333" stroke-width="0.6"/>
<text x="440.12" y="540" font-size="5.85" fill="#4d4d4d" text-anchor="middle"  stroke="#4d4d4d" stroke-width="0.1">C2</text>
<line x1="447.6" y1="531.8" x2="447.6" y2="534" stroke="#333333" stroke-width="0.6"/>
<text x="447.6" y="540" font-size="5.85" fill="#4d4d4d" text-anchor="middle"  stroke="#4d4d4d" stroke-width="0.1">C3</text>
<line x1="455.08" y1="531.8" x2="455.08" y2="534" stroke="#333333" stroke-width="0.6"/>
<text x="455.08" y="540" font-size="5.85" fill="#4d4d4d" text-anchor="middle"  stroke="#4d4d4d" stroke-width="0.1">C4</text>
<line x1="462.56" y1="531.8" x2="462.56" y2="534" stroke="#333333" stroke-width="0.6"/>
<text x="462.56" y="540" font-size="5.85" fill="#4d4d4d" text-anchor="middle"  stroke="#4d4d4d" stroke-width="0.1">C6</text>
<text x="129.6" y="325.3" font-size="8.64" fill="#222" text-anchor="start" >Cancer: BLCA</text>
<text x="117" y="437" font-size="7.27" fill="#1a1a1a" text-anchor="middle" transform="rotate(-90 117 437)" dominant-baseline="central" stroke="#1a1a1a" stroke-width="0.1">Gene expression</text>
<text x="298.8" y="548.7" font-size="7.22" fill="#1a1a1a" text-anchor="middle"  stroke="#1a1a1a" stroke-width="0.1">Immune Subtype</text>
<text x="477.6" y="409.6" font-size="7.22" fill="#1a1a1a" text-anchor="start"  stroke="#1a1a1a" stroke-width="0.1">Immune Subtype</text>
<line x1="483.4" y1="414.65" x2="483.4" y2="424.65" stroke="#333333" stroke-width="0.7"/>
<rect x="479" y="416.6" width="8.8" height="6.1" fill="#F8766D" stroke="#333333" stroke-width="0.6"/>
<line x1="479" y1="419.65" x2="487.8" y2="419.65" stroke="#333333" stroke-width="1"/>
<text x="492.9" y="422.05" font-size="6.2" fill="#1a1a1a" text-anchor="start"  stroke="#1a1a1a" stroke-width="0.12">C1</text>
<line x1="483.4" y1="426.1" x2="483.4" y2="436.1" stroke="#333333" stroke-width="0.7"/>
<rect x="479" y="428.05" width="8.8" height="6.1" fill="#A3A500" stroke="#333333" stroke-width="0.6"/>
<line x1="479" y1="431.1" x2="487.8" y2="431.1" stroke="#333333" stroke-width="1"/>
<text x="492.9" y="433.5" font-size="6.2" fill="#1a1a1a" text-anchor="start"  stroke="#1a1a1a" stroke-width="0.12">C2</text>
<line x1="483.4" y1="437.5" x2="483.4" y2="447.5" stroke="#333333" stroke-width="0.7"/>
<rect x="479" y="439.45" width="8.8" height="6.1" fill="#00BF7D" stroke="#333333" stroke-width="0.6"/>
<line x1="479" y1="442.5" x2="487.8" y2="442.5" stroke="#333333" stroke-width="1"/>
<text x="492.9" y="444.9" font-size="6.2" fill="#1a1a1a" text-anchor="start"  stroke="#1a1a1a" stroke-width="0.12">C3</text>
<line x1="483.4" y1="448.8" x2="483.4" y2="458.8" stroke="#333333" stroke-width="0.7"/>
<rect x="479" y="450.75" width="8.8" height="6.1" fill="#00B0F6" stroke="#333333" stroke-width="0.6"/>
<line x1="479" y1="453.8" x2="487.8" y2="453.8" stroke="#333333" stroke-width="1"/>
<text x="492.9" y="456.2" font-size="6.2" fill="#1a1a1a" text-anchor="start"  stroke="#1a1a1a" stroke-width="0.12">C4</text>
<line x1="483.4" y1="460.2" x2="483.4" y2="470.2" stroke="#333333" stroke-width="0.7"/>
<rect x="479" y="462.15" width="8.8" height="6.1" fill="#E76BF3" stroke="#333333" stroke-width="0.6"/>
<line x1="479" y1="465.2" x2="487.8" y2="465.2" stroke="#333333" stroke-width="1"/>
<text x="492.9" y="467.6" font-size="6.2" fill="#1a1a1a" text-anchor="start"  stroke="#1a1a1a" stroke-width="0.12">C6</text>
<line x1="5.84" y1="307.6" x2="685" y2="307.6" stroke="#3b3432" stroke-width="1.7" stroke-dasharray="3.7 2.93"/>
<rect x="0" y="304.5" width="2.2" height="1.3" fill="#3b3432"/>
<rect x="1.1" y="306.75" width="1.85" height="1.7" fill="#3b3432"/>
</svg></body></html>
